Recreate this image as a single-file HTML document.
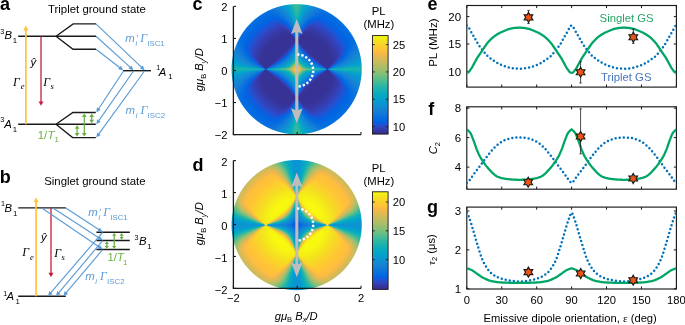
<!DOCTYPE html>
<html><head><meta charset="utf-8"><style>
html,body{margin:0;padding:0;background:#fff;}
#w{position:relative;width:685px;height:325px;overflow:hidden;background:#fff;font-family:"Liberation Sans",sans-serif;}
canvas{position:absolute;}
svg{position:absolute;left:0;top:0;}
</style></head><body><div id="w">
<div style="position:absolute;left:232.75px;top:5.35px;width:127.80px;height:127.80px;border-radius:50%;background:radial-gradient(circle, #f0b429 0%, #1f63d6 25%, #2c3a9e 60%, #1b6fd8 100%)"></div>
<canvas id="cmc" width="132" height="132" style="left:231px;top:3px"></canvas>
<div style="position:absolute;left:232.75px;top:161.20px;width:127.80px;height:127.80px;border-radius:50%;background:radial-gradient(circle, #1d6fd0 0%, #f6e21c 30%, #f6c43a 70%, #b8b850 100%)"></div>
<canvas id="cmd" width="132" height="132" style="left:231px;top:159px"></canvas>
<svg width="685" height="325" viewBox="0 0 685 325" font-family="Liberation Sans">
<text x="0.00" y="10.10" font-size="18" font-weight="bold" fill="#000">a</text>
<text x="48.00" y="12.90" font-size="11.4" fill="#000">Triplet ground state</text>
<path d="M18.20,36.20 L56.00,36.20" fill="none" stroke="#1a1a1a" stroke-width="1.4"/>
<path d="M56.00,36.20 L73.20,23.90 L96.00,23.90" fill="none" stroke="#1a1a1a" stroke-width="1.4"/>
<path d="M56.00,36.20 L96.00,36.20" fill="none" stroke="#1a1a1a" stroke-width="1.4"/>
<path d="M56.00,36.20 L73.00,49.20 L96.00,49.20" fill="none" stroke="#1a1a1a" stroke-width="1.4"/>
<path d="M18.20,124.30 L56.00,124.30" fill="none" stroke="#1a1a1a" stroke-width="1.4"/>
<path d="M56.00,124.30 L72.90,112.50 L95.80,112.50" fill="none" stroke="#1a1a1a" stroke-width="1.4"/>
<path d="M56.00,124.30 L95.80,124.30" fill="none" stroke="#1a1a1a" stroke-width="1.4"/>
<path d="M56.00,124.30 L72.60,137.60 L95.80,137.60" fill="none" stroke="#1a1a1a" stroke-width="1.4"/>
<path d="M123.00,70.70 L151.00,70.70" fill="none" stroke="#1a1a1a" stroke-width="1.4"/>
<path d="M25.90,124.30 L25.90,29.90" fill="none" stroke="#fbc43a" stroke-width="1.7"/>
<path d="M25.90,25.60 L28.50,30.40 L23.30,30.40 Z" fill="#fbc43a"/>
<path d="M41.00,36.20 L41.00,101.90" fill="none" stroke="#c41f3b" stroke-width="1.3"/>
<path d="M41.00,105.80 L38.50,101.40 L43.50,101.40 Z" fill="#c41f3b"/>
<path d="M96.00,23.90 L141.63,67.37" fill="none" stroke="#5b9bd5" stroke-width="1.15"/>
<path d="M144.60,70.20 L139.75,68.62 L142.79,65.43 Z" fill="#5b9bd5"/>
<path d="M96.00,36.20 L130.37,67.44" fill="none" stroke="#5b9bd5" stroke-width="1.15"/>
<path d="M133.40,70.20 L128.52,68.73 L131.48,65.48 Z" fill="#5b9bd5"/>
<path d="M96.00,49.20 L119.95,67.69" fill="none" stroke="#5b9bd5" stroke-width="1.15"/>
<path d="M123.20,70.20 L118.21,69.13 L120.90,65.65 Z" fill="#5b9bd5"/>
<path d="M123.50,71.00 L98.55,108.97" fill="none" stroke="#5b9bd5" stroke-width="1.15"/>
<path d="M96.30,112.40 L96.99,107.35 L100.66,109.76 Z" fill="#5b9bd5"/>
<path d="M133.50,71.00 L98.65,120.84" fill="none" stroke="#5b9bd5" stroke-width="1.15"/>
<path d="M96.30,124.20 L97.13,119.17 L100.74,121.69 Z" fill="#5b9bd5"/>
<path d="M144.50,71.00 L98.71,134.18" fill="none" stroke="#5b9bd5" stroke-width="1.15"/>
<path d="M96.30,137.50 L97.22,132.48 L100.78,135.07 Z" fill="#5b9bd5"/>
<path d="M77.10,128.30 L77.10,133.60" fill="none" stroke="#6aaf3f" stroke-width="1.25"/>
<path d="M77.10,136.60 L74.70,133.10 L79.50,133.10 Z" fill="#6aaf3f"/>
<path d="M77.10,125.30 L79.50,128.80 L74.70,128.80 Z" fill="#6aaf3f"/>
<path d="M84.30,116.50 L84.30,133.60" fill="none" stroke="#6aaf3f" stroke-width="1.25"/>
<path d="M84.30,136.60 L81.90,133.10 L86.70,133.10 Z" fill="#6aaf3f"/>
<path d="M84.30,113.50 L86.70,117.00 L81.90,117.00 Z" fill="#6aaf3f"/>
<path d="M91.70,116.50 L91.70,120.30" fill="none" stroke="#6aaf3f" stroke-width="1.25"/>
<path d="M91.70,123.30 L89.30,119.80 L94.10,119.80 Z" fill="#6aaf3f"/>
<path d="M91.70,113.50 L94.10,117.00 L89.30,117.00 Z" fill="#6aaf3f"/>
<text x="0.20" y="33.60" font-size="7.2" fill="#000">3</text>
<text x="4.40" y="38.90" font-size="11.3" font-style="italic" fill="#000">B</text>
<text x="12.80" y="42.80" font-size="7.8" fill="#000">1</text>
<text x="156.20" y="70.00" font-size="7.2" fill="#000">1</text>
<text x="158.80" y="75.60" font-size="11.3" font-style="italic" fill="#000">A</text>
<text x="168.20" y="79.20" font-size="7.8" fill="#000">1</text>
<text x="0.20" y="122.00" font-size="7.2" fill="#000">3</text>
<text x="4.20" y="128.40" font-size="11.3" font-style="italic" fill="#000">A</text>
<text x="12.80" y="131.80" font-size="7.8" fill="#000">1</text>
<text x="30.60" y="65.50" font-size="11.3" font-style="italic" fill="#000">ŷ</text>
<text x="13.00" y="85.70" font-size="12" font-style="italic" fill="#000" font-family="Liberation Serif">Γ</text>
<text x="20.80" y="89.20" font-size="8.6" font-style="italic" fill="#000" font-family="Liberation Serif">e</text>
<text x="43.20" y="85.70" font-size="12" font-style="italic" fill="#000" font-family="Liberation Serif">Γ</text>
<text x="50.60" y="89.20" font-size="8.6" font-style="italic" fill="#000" font-family="Liberation Serif">s</text>
<text x="37.80" y="138.80" font-size="11.3" fill="#6aaf3f">1/</text>
<text x="47.40" y="138.80" font-size="11.3" font-style="italic" fill="#6aaf3f">T</text>
<text x="54.60" y="142.40" font-size="7.8" fill="#6aaf3f">1</text>
<text x="125.30" y="42.20" font-size="11.4" font-style="italic" fill="#5b9bd5">m</text>
<text x="135.90" y="41.00" font-size="9.5" font-style="italic" fill="#5b9bd5">′</text>
<text x="135.40" y="45.80" font-size="7.5" font-style="italic" fill="#5b9bd5">i</text>
<text x="140.20" y="42.20" font-size="12" font-style="italic" fill="#5b9bd5" font-family="Liberation Serif">Γ</text>
<text x="147.20" y="45.90" font-size="7.9" fill="#5b9bd5">ISC1</text>
<text x="125.60" y="114.00" font-size="11.4" font-style="italic" fill="#5b9bd5">m</text>
<text x="135.70" y="117.60" font-size="7.5" font-style="italic" fill="#5b9bd5">i</text>
<text x="140.50" y="114.00" font-size="12" font-style="italic" fill="#5b9bd5" font-family="Liberation Serif">Γ</text>
<text x="147.50" y="117.70" font-size="7.9" fill="#5b9bd5">ISC2</text>
<text x="-0.30" y="182.60" font-size="18" font-weight="bold" fill="#000">b</text>
<text x="44.20" y="185.00" font-size="11.4" fill="#000">Singlet ground state</text>
<path d="M18.20,207.90 L65.80,207.90" fill="none" stroke="#1a1a1a" stroke-width="1.4"/>
<path d="M18.20,296.20 L65.80,296.20" fill="none" stroke="#1a1a1a" stroke-width="1.4"/>
<path d="M96.40,232.20 L129.80,232.20" fill="none" stroke="#1a1a1a" stroke-width="1.4"/>
<path d="M96.40,240.50 L129.80,240.50" fill="none" stroke="#1a1a1a" stroke-width="1.4"/>
<path d="M96.40,249.50 L129.80,249.50" fill="none" stroke="#1a1a1a" stroke-width="1.4"/>
<path d="M36.10,296.20 L36.10,201.70" fill="none" stroke="#fbc43a" stroke-width="1.7"/>
<path d="M36.10,197.40 L38.70,202.20 L33.50,202.20 Z" fill="#fbc43a"/>
<path d="M51.00,207.90 L51.00,273.30" fill="none" stroke="#c41f3b" stroke-width="1.3"/>
<path d="M51.00,277.20 L48.50,272.80 L53.50,272.80 Z" fill="#c41f3b"/>
<path d="M65.80,207.90 L99.17,229.75" fill="none" stroke="#5b9bd5" stroke-width="1.15"/>
<path d="M102.60,232.00 L97.55,231.32 L99.96,227.64 Z" fill="#5b9bd5"/>
<path d="M52.90,207.90 L99.17,238.06" fill="none" stroke="#5b9bd5" stroke-width="1.15"/>
<path d="M102.60,240.30 L97.55,239.63 L99.95,235.94 Z" fill="#5b9bd5"/>
<path d="M41.80,207.90 L99.21,246.99" fill="none" stroke="#5b9bd5" stroke-width="1.15"/>
<path d="M102.60,249.30 L97.56,248.53 L100.04,244.89 Z" fill="#5b9bd5"/>
<path d="M102.60,232.40 L50.67,292.89" fill="none" stroke="#5b9bd5" stroke-width="1.15"/>
<path d="M48.00,296.00 L49.33,291.08 L52.67,293.94 Z" fill="#5b9bd5"/>
<path d="M102.60,240.70 L58.64,292.86" fill="none" stroke="#5b9bd5" stroke-width="1.15"/>
<path d="M56.00,296.00 L57.28,291.06 L60.65,293.90 Z" fill="#5b9bd5"/>
<path d="M102.60,249.70 L66.05,292.87" fill="none" stroke="#5b9bd5" stroke-width="1.15"/>
<path d="M63.40,296.00 L64.69,291.07 L68.05,293.91 Z" fill="#5b9bd5"/>
<path d="M106.80,243.60 L106.80,246.40" fill="none" stroke="#6aaf3f" stroke-width="1.25"/>
<path d="M106.80,248.80 L104.70,245.90 L108.90,245.90 Z" fill="#6aaf3f"/>
<path d="M106.80,241.20 L108.90,244.10 L104.70,244.10 Z" fill="#6aaf3f"/>
<path d="M114.20,235.30 L114.20,246.40" fill="none" stroke="#6aaf3f" stroke-width="1.25"/>
<path d="M114.20,248.80 L112.10,245.90 L116.30,245.90 Z" fill="#6aaf3f"/>
<path d="M114.20,232.90 L116.30,235.80 L112.10,235.80 Z" fill="#6aaf3f"/>
<path d="M121.60,235.30 L121.60,237.40" fill="none" stroke="#6aaf3f" stroke-width="1.25"/>
<path d="M121.60,239.80 L119.50,236.90 L123.70,236.90 Z" fill="#6aaf3f"/>
<path d="M121.60,232.90 L123.70,235.80 L119.50,235.80 Z" fill="#6aaf3f"/>
<text x="1.00" y="205.60" font-size="7.2" fill="#000">1</text>
<text x="4.40" y="212.00" font-size="11.3" font-style="italic" fill="#000">B</text>
<text x="12.90" y="215.80" font-size="7.8" fill="#000">1</text>
<text x="134.50" y="239.60" font-size="7.2" fill="#000">3</text>
<text x="139.00" y="245.20" font-size="11.3" font-style="italic" fill="#000">B</text>
<text x="147.30" y="249.00" font-size="7.8" fill="#000">1</text>
<text x="3.20" y="296.20" font-size="7.2" fill="#000">1</text>
<text x="6.60" y="300.20" font-size="11.3" font-style="italic" fill="#000">A</text>
<text x="15.40" y="304.20" font-size="7.8" fill="#000">1</text>
<text x="40.90" y="241.30" font-size="11.3" font-style="italic" fill="#000">ŷ</text>
<text x="22.30" y="256.40" font-size="12" font-style="italic" fill="#000" font-family="Liberation Serif">Γ</text>
<text x="30.10" y="260.00" font-size="8.6" font-style="italic" fill="#000" font-family="Liberation Serif">e</text>
<text x="54.30" y="256.60" font-size="12" font-style="italic" fill="#000" font-family="Liberation Serif">Γ</text>
<text x="61.60" y="260.00" font-size="8.6" font-style="italic" fill="#000" font-family="Liberation Serif">s</text>
<text x="88.30" y="216.00" font-size="11.4" font-style="italic" fill="#5b9bd5">m</text>
<text x="98.90" y="214.80" font-size="9.5" font-style="italic" fill="#5b9bd5">′</text>
<text x="98.40" y="219.60" font-size="7.5" font-style="italic" fill="#5b9bd5">i</text>
<text x="103.20" y="216.00" font-size="12" font-style="italic" fill="#5b9bd5" font-family="Liberation Serif">Γ</text>
<text x="110.20" y="219.70" font-size="7.9" fill="#5b9bd5">ISC1</text>
<text x="107.40" y="261.00" font-size="11.3" fill="#6aaf3f">1/</text>
<text x="117.00" y="261.00" font-size="11.3" font-style="italic" fill="#6aaf3f">T</text>
<text x="123.00" y="264.80" font-size="7.8" fill="#6aaf3f">1</text>
<text x="85.20" y="280.20" font-size="11.4" font-style="italic" fill="#5b9bd5">m</text>
<text x="95.30" y="283.80" font-size="7.5" font-style="italic" fill="#5b9bd5">i</text>
<text x="100.10" y="280.20" font-size="12" font-style="italic" fill="#5b9bd5" font-family="Liberation Serif">Γ</text>
<text x="107.10" y="283.90" font-size="7.9" fill="#5b9bd5">ISC2</text>
<text x="192.60" y="10.30" font-size="18" font-weight="bold" fill="#000">c</text>
<text x="192.40" y="171.40" font-size="18" font-weight="bold" fill="#000">d</text>
<path d="M233.40,6.40 L233.40,134.60 L361.00,134.60" fill="none" stroke="#1a1a1a" stroke-width="1.3"/>
<path d="M233.40,6.40 L236.00,6.40" fill="none" stroke="#1a1a1a" stroke-width="1.1"/>
<text x="227.40" y="11.00" font-size="11.2" text-anchor="end" fill="#000">2</text>
<path d="M233.40,38.45 L236.00,38.45" fill="none" stroke="#1a1a1a" stroke-width="1.1"/>
<text x="227.40" y="43.05" font-size="11.2" text-anchor="end" fill="#000">1</text>
<path d="M233.40,70.50 L236.00,70.50" fill="none" stroke="#1a1a1a" stroke-width="1.1"/>
<text x="227.40" y="75.10" font-size="11.2" text-anchor="end" fill="#000">0</text>
<path d="M233.40,102.55 L236.00,102.55" fill="none" stroke="#1a1a1a" stroke-width="1.1"/>
<text x="227.40" y="107.15" font-size="11.2" text-anchor="end" fill="#000">−1</text>
<path d="M233.40,134.60 L236.00,134.60" fill="none" stroke="#1a1a1a" stroke-width="1.1"/>
<text x="227.40" y="139.20" font-size="11.2" text-anchor="end" fill="#000">−2</text>
<path d="M233.40,134.60 L233.40,132.00" fill="none" stroke="#1a1a1a" stroke-width="1.1"/>
<path d="M297.20,134.60 L297.20,132.00" fill="none" stroke="#1a1a1a" stroke-width="1.1"/>
<path d="M361.00,134.60 L361.00,132.00" fill="none" stroke="#1a1a1a" stroke-width="1.1"/>
<g transform="translate(203.0,69.70) rotate(-90)"><text x="0" y="0" font-size="11.2" text-anchor="middle"><tspan font-style="italic">gμ</tspan><tspan font-size="7.6" dy="2.8">B</tspan><tspan dy="-2.8"> </tspan><tspan font-style="italic">B</tspan><tspan font-size="7.6" dy="2.8" font-style="italic">y</tspan><tspan dy="-2.8" font-style="italic">/D</tspan></text></g>
<path d="M233.40,160.60 L233.40,288.40 L361.00,288.40" fill="none" stroke="#1a1a1a" stroke-width="1.3"/>
<path d="M233.40,160.60 L236.00,160.60" fill="none" stroke="#1a1a1a" stroke-width="1.1"/>
<text x="227.40" y="165.90" font-size="11.2" text-anchor="end" fill="#000">2</text>
<path d="M233.40,192.55 L236.00,192.55" fill="none" stroke="#1a1a1a" stroke-width="1.1"/>
<text x="227.40" y="197.85" font-size="11.2" text-anchor="end" fill="#000">1</text>
<path d="M233.40,224.50 L236.00,224.50" fill="none" stroke="#1a1a1a" stroke-width="1.1"/>
<text x="227.40" y="229.80" font-size="11.2" text-anchor="end" fill="#000">0</text>
<path d="M233.40,256.45 L236.00,256.45" fill="none" stroke="#1a1a1a" stroke-width="1.1"/>
<text x="227.40" y="261.75" font-size="11.2" text-anchor="end" fill="#000">−1</text>
<path d="M233.40,288.40 L236.00,288.40" fill="none" stroke="#1a1a1a" stroke-width="1.1"/>
<text x="227.40" y="293.70" font-size="11.2" text-anchor="end" fill="#000">−2</text>
<path d="M233.40,288.40 L233.40,285.80" fill="none" stroke="#1a1a1a" stroke-width="1.1"/>
<text x="233.40" y="301.70" font-size="11.2" text-anchor="middle" fill="#000">−2</text>
<path d="M297.20,288.40 L297.20,285.80" fill="none" stroke="#1a1a1a" stroke-width="1.1"/>
<text x="297.20" y="301.70" font-size="11.2" text-anchor="middle" fill="#000">0</text>
<path d="M361.00,288.40 L361.00,285.80" fill="none" stroke="#1a1a1a" stroke-width="1.1"/>
<text x="361.00" y="301.70" font-size="11.2" text-anchor="middle" fill="#000">2</text>
<g transform="translate(203.0,223.70) rotate(-90)"><text x="0" y="0" font-size="11.2" text-anchor="middle"><tspan font-style="italic">gμ</tspan><tspan font-size="7.6" dy="2.8">B</tspan><tspan dy="-2.8"> </tspan><tspan font-style="italic">B</tspan><tspan font-size="7.6" dy="2.8" font-style="italic">y</tspan><tspan dy="-2.8" font-style="italic">/D</tspan></text></g>
<text x="296.2" y="319.6" font-size="11.2" text-anchor="middle"><tspan font-style="italic">gμ</tspan><tspan font-size="7.6" dy="2.8">B</tspan><tspan dy="-2.8"> </tspan><tspan font-style="italic">B</tspan><tspan font-size="7.6" dy="2.8" font-style="italic">x</tspan><tspan dy="-2.8" font-style="italic">/D</tspan></text>
<path d="M296.80,31.00 L296.80,111.30" stroke="#bdbdbd" stroke-width="3"/>
<path d="M296.80,19.00 L302.60,34.00 L296.80,31.50 L291.00,34.00 Z" fill="#bdbdbd"/>
<path d="M296.80,123.30 L302.60,108.30 L296.80,110.80 L291.00,108.30 Z" fill="#bdbdbd"/>
<path d="M297.20,54.50 A16,16 0 0 1 297.20,86.50" fill="none" stroke="#fff" stroke-width="2.4" stroke-dasharray="2.3 1.9"/>
<path d="M296.80,184.40 L296.80,265.20" stroke="#bdbdbd" stroke-width="3"/>
<path d="M296.80,172.40 L302.60,187.40 L296.80,184.90 L291.00,187.40 Z" fill="#bdbdbd"/>
<path d="M296.80,277.20 L302.60,262.20 L296.80,264.70 L291.00,262.20 Z" fill="#bdbdbd"/>
<path d="M297.20,208.50 A16,16 0 0 1 297.20,240.50" fill="none" stroke="#fff" stroke-width="2.4" stroke-dasharray="2.3 1.9"/>
<defs><linearGradient id="cb35" x1="0" y1="1" x2="0" y2="0"><stop offset="0.0000" stop-color="rgb(53,42,134)"/><stop offset="0.0159" stop-color="rgb(53,48,147)"/><stop offset="0.0317" stop-color="rgb(54,54,159)"/><stop offset="0.0476" stop-color="rgb(53,60,172)"/><stop offset="0.0635" stop-color="rgb(49,67,185)"/><stop offset="0.0794" stop-color="rgb(43,74,198)"/><stop offset="0.0952" stop-color="rgb(31,82,211)"/><stop offset="0.1111" stop-color="rgb(15,91,221)"/><stop offset="0.1270" stop-color="rgb(2,98,224)"/><stop offset="0.1429" stop-color="rgb(1,104,225)"/><stop offset="0.1587" stop-color="rgb(4,108,224)"/><stop offset="0.1746" stop-color="rgb(8,112,222)"/><stop offset="0.1905" stop-color="rgb(12,116,220)"/><stop offset="0.2063" stop-color="rgb(16,120,218)"/><stop offset="0.2222" stop-color="rgb(18,124,215)"/><stop offset="0.2381" stop-color="rgb(19,128,213)"/><stop offset="0.2540" stop-color="rgb(20,132,211)"/><stop offset="0.2698" stop-color="rgb(19,137,210)"/><stop offset="0.2857" stop-color="rgb(16,142,210)"/><stop offset="0.3016" stop-color="rgb(12,147,209)"/><stop offset="0.3175" stop-color="rgb(8,152,209)"/><stop offset="0.3333" stop-color="rgb(6,156,207)"/><stop offset="0.3492" stop-color="rgb(6,160,204)"/><stop offset="0.3651" stop-color="rgb(5,163,201)"/><stop offset="0.3810" stop-color="rgb(5,166,198)"/><stop offset="0.3968" stop-color="rgb(6,169,193)"/><stop offset="0.4127" stop-color="rgb(9,171,189)"/><stop offset="0.4286" stop-color="rgb(15,174,184)"/><stop offset="0.4444" stop-color="rgb(21,176,180)"/><stop offset="0.4603" stop-color="rgb(28,178,174)"/><stop offset="0.4762" stop-color="rgb(37,180,169)"/><stop offset="0.4921" stop-color="rgb(45,183,163)"/><stop offset="0.5079" stop-color="rgb(55,184,157)"/><stop offset="0.5238" stop-color="rgb(65,186,151)"/><stop offset="0.5397" stop-color="rgb(77,188,145)"/><stop offset="0.5556" stop-color="rgb(88,189,139)"/><stop offset="0.5714" stop-color="rgb(100,190,133)"/><stop offset="0.5873" stop-color="rgb(112,190,128)"/><stop offset="0.6032" stop-color="rgb(124,191,123)"/><stop offset="0.6190" stop-color="rgb(135,191,118)"/><stop offset="0.6349" stop-color="rgb(145,190,114)"/><stop offset="0.6508" stop-color="rgb(155,190,110)"/><stop offset="0.6667" stop-color="rgb(165,190,106)"/><stop offset="0.6825" stop-color="rgb(174,189,103)"/><stop offset="0.6984" stop-color="rgb(183,188,99)"/><stop offset="0.7143" stop-color="rgb(191,188,96)"/><stop offset="0.7302" stop-color="rgb(200,187,92)"/><stop offset="0.7460" stop-color="rgb(208,186,89)"/><stop offset="0.7619" stop-color="rgb(216,186,85)"/><stop offset="0.7778" stop-color="rgb(225,185,82)"/><stop offset="0.7937" stop-color="rgb(233,185,78)"/><stop offset="0.8095" stop-color="rgb(240,185,73)"/><stop offset="0.8254" stop-color="rgb(248,186,67)"/><stop offset="0.8413" stop-color="rgb(253,190,61)"/><stop offset="0.8571" stop-color="rgb(254,195,55)"/><stop offset="0.8730" stop-color="rgb(253,200,50)"/><stop offset="0.8889" stop-color="rgb(251,205,45)"/><stop offset="0.9048" stop-color="rgb(249,210,41)"/><stop offset="0.9206" stop-color="rgb(247,216,37)"/><stop offset="0.9365" stop-color="rgb(245,221,33)"/><stop offset="0.9524" stop-color="rgb(244,228,28)"/><stop offset="0.9683" stop-color="rgb(244,235,24)"/><stop offset="0.9841" stop-color="rgb(246,242,19)"/><stop offset="1.0000" stop-color="rgb(248,250,13)"/></linearGradient></defs>
<rect x="372.5" y="35.6" width="15.600000000000023" height="98.5" fill="url(#cb35)" stroke="#1a1a1a" stroke-width="0.9"/>
<path d="M372.50,126.61 L374.70,126.61" fill="none" stroke="#1a1a1a" stroke-width="0.9"/>
<path d="M388.10,126.61 L385.90,126.61" fill="none" stroke="#1a1a1a" stroke-width="0.9"/>
<text x="392.70" y="130.61" font-size="11.2" fill="#000">10</text>
<path d="M372.50,99.28 L374.70,99.28" fill="none" stroke="#1a1a1a" stroke-width="0.9"/>
<path d="M388.10,99.28 L385.90,99.28" fill="none" stroke="#1a1a1a" stroke-width="0.9"/>
<text x="392.70" y="103.28" font-size="11.2" fill="#000">15</text>
<path d="M372.50,71.95 L374.70,71.95" fill="none" stroke="#1a1a1a" stroke-width="0.9"/>
<path d="M388.10,71.95 L385.90,71.95" fill="none" stroke="#1a1a1a" stroke-width="0.9"/>
<text x="392.70" y="75.95" font-size="11.2" fill="#000">20</text>
<path d="M372.50,44.62 L374.70,44.62" fill="none" stroke="#1a1a1a" stroke-width="0.9"/>
<path d="M388.10,44.62 L385.90,44.62" fill="none" stroke="#1a1a1a" stroke-width="0.9"/>
<text x="392.70" y="48.62" font-size="11.2" fill="#000">25</text>
<text x="378.60" y="15.00" font-size="11.3" text-anchor="middle" fill="#000">PL</text>
<text x="378.90" y="28.20" font-size="11.3" text-anchor="middle" fill="#000">(MHz)</text>
<defs><linearGradient id="cb191" x1="0" y1="1" x2="0" y2="0"><stop offset="0.0000" stop-color="rgb(53,42,134)"/><stop offset="0.0159" stop-color="rgb(53,48,147)"/><stop offset="0.0317" stop-color="rgb(54,54,159)"/><stop offset="0.0476" stop-color="rgb(53,60,172)"/><stop offset="0.0635" stop-color="rgb(49,67,185)"/><stop offset="0.0794" stop-color="rgb(43,74,198)"/><stop offset="0.0952" stop-color="rgb(31,82,211)"/><stop offset="0.1111" stop-color="rgb(15,91,221)"/><stop offset="0.1270" stop-color="rgb(2,98,224)"/><stop offset="0.1429" stop-color="rgb(1,104,225)"/><stop offset="0.1587" stop-color="rgb(4,108,224)"/><stop offset="0.1746" stop-color="rgb(8,112,222)"/><stop offset="0.1905" stop-color="rgb(12,116,220)"/><stop offset="0.2063" stop-color="rgb(16,120,218)"/><stop offset="0.2222" stop-color="rgb(18,124,215)"/><stop offset="0.2381" stop-color="rgb(19,128,213)"/><stop offset="0.2540" stop-color="rgb(20,132,211)"/><stop offset="0.2698" stop-color="rgb(19,137,210)"/><stop offset="0.2857" stop-color="rgb(16,142,210)"/><stop offset="0.3016" stop-color="rgb(12,147,209)"/><stop offset="0.3175" stop-color="rgb(8,152,209)"/><stop offset="0.3333" stop-color="rgb(6,156,207)"/><stop offset="0.3492" stop-color="rgb(6,160,204)"/><stop offset="0.3651" stop-color="rgb(5,163,201)"/><stop offset="0.3810" stop-color="rgb(5,166,198)"/><stop offset="0.3968" stop-color="rgb(6,169,193)"/><stop offset="0.4127" stop-color="rgb(9,171,189)"/><stop offset="0.4286" stop-color="rgb(15,174,184)"/><stop offset="0.4444" stop-color="rgb(21,176,180)"/><stop offset="0.4603" stop-color="rgb(28,178,174)"/><stop offset="0.4762" stop-color="rgb(37,180,169)"/><stop offset="0.4921" stop-color="rgb(45,183,163)"/><stop offset="0.5079" stop-color="rgb(55,184,157)"/><stop offset="0.5238" stop-color="rgb(65,186,151)"/><stop offset="0.5397" stop-color="rgb(77,188,145)"/><stop offset="0.5556" stop-color="rgb(88,189,139)"/><stop offset="0.5714" stop-color="rgb(100,190,133)"/><stop offset="0.5873" stop-color="rgb(112,190,128)"/><stop offset="0.6032" stop-color="rgb(124,191,123)"/><stop offset="0.6190" stop-color="rgb(135,191,118)"/><stop offset="0.6349" stop-color="rgb(145,190,114)"/><stop offset="0.6508" stop-color="rgb(155,190,110)"/><stop offset="0.6667" stop-color="rgb(165,190,106)"/><stop offset="0.6825" stop-color="rgb(174,189,103)"/><stop offset="0.6984" stop-color="rgb(183,188,99)"/><stop offset="0.7143" stop-color="rgb(191,188,96)"/><stop offset="0.7302" stop-color="rgb(200,187,92)"/><stop offset="0.7460" stop-color="rgb(208,186,89)"/><stop offset="0.7619" stop-color="rgb(216,186,85)"/><stop offset="0.7778" stop-color="rgb(225,185,82)"/><stop offset="0.7937" stop-color="rgb(233,185,78)"/><stop offset="0.8095" stop-color="rgb(240,185,73)"/><stop offset="0.8254" stop-color="rgb(248,186,67)"/><stop offset="0.8413" stop-color="rgb(253,190,61)"/><stop offset="0.8571" stop-color="rgb(254,195,55)"/><stop offset="0.8730" stop-color="rgb(253,200,50)"/><stop offset="0.8889" stop-color="rgb(251,205,45)"/><stop offset="0.9048" stop-color="rgb(249,210,41)"/><stop offset="0.9206" stop-color="rgb(247,216,37)"/><stop offset="0.9365" stop-color="rgb(245,221,33)"/><stop offset="0.9524" stop-color="rgb(244,228,28)"/><stop offset="0.9683" stop-color="rgb(244,235,24)"/><stop offset="0.9841" stop-color="rgb(246,242,19)"/><stop offset="1.0000" stop-color="rgb(248,250,13)"/></linearGradient></defs>
<rect x="372.5" y="191.8" width="15.600000000000023" height="97.59999999999997" fill="url(#cb191)" stroke="#1a1a1a" stroke-width="0.9"/>
<path d="M372.50,259.61 L374.70,259.61" fill="none" stroke="#1a1a1a" stroke-width="0.9"/>
<path d="M388.10,259.61 L385.90,259.61" fill="none" stroke="#1a1a1a" stroke-width="0.9"/>
<text x="392.70" y="263.61" font-size="11.2" fill="#000">10</text>
<path d="M372.50,230.81 L374.70,230.81" fill="none" stroke="#1a1a1a" stroke-width="0.9"/>
<path d="M388.10,230.81 L385.90,230.81" fill="none" stroke="#1a1a1a" stroke-width="0.9"/>
<text x="392.70" y="234.81" font-size="11.2" fill="#000">15</text>
<path d="M372.50,202.00 L374.70,202.00" fill="none" stroke="#1a1a1a" stroke-width="0.9"/>
<path d="M388.10,202.00 L385.90,202.00" fill="none" stroke="#1a1a1a" stroke-width="0.9"/>
<text x="392.70" y="206.00" font-size="11.2" fill="#000">20</text>
<text x="378.60" y="171.50" font-size="11.3" text-anchor="middle" fill="#000">PL</text>
<text x="378.90" y="184.70" font-size="11.3" text-anchor="middle" fill="#000">(MHz)</text>
<text x="427.60" y="10.20" font-size="18" font-weight="bold" fill="#000">e</text>
<text x="428.30" y="115.20" font-size="18" font-weight="bold" fill="#000">f</text>
<text x="426.90" y="213.40" font-size="18" font-weight="bold" fill="#000">g</text>
<rect x="466.8" y="5.5" width="209.60" height="81.60" fill="none" stroke="#1a1a1a" stroke-width="1.15"/>
<path d="M466.80,87.10 L466.80,84.50" fill="none" stroke="#1a1a1a" stroke-width="1.0"/>
<path d="M466.80,5.50 L466.80,8.10" fill="none" stroke="#1a1a1a" stroke-width="1.0"/>
<path d="M501.73,87.10 L501.73,84.50" fill="none" stroke="#1a1a1a" stroke-width="1.0"/>
<path d="M501.73,5.50 L501.73,8.10" fill="none" stroke="#1a1a1a" stroke-width="1.0"/>
<path d="M536.66,87.10 L536.66,84.50" fill="none" stroke="#1a1a1a" stroke-width="1.0"/>
<path d="M536.66,5.50 L536.66,8.10" fill="none" stroke="#1a1a1a" stroke-width="1.0"/>
<path d="M571.60,87.10 L571.60,84.50" fill="none" stroke="#1a1a1a" stroke-width="1.0"/>
<path d="M571.60,5.50 L571.60,8.10" fill="none" stroke="#1a1a1a" stroke-width="1.0"/>
<path d="M606.53,87.10 L606.53,84.50" fill="none" stroke="#1a1a1a" stroke-width="1.0"/>
<path d="M606.53,5.50 L606.53,8.10" fill="none" stroke="#1a1a1a" stroke-width="1.0"/>
<path d="M641.46,87.10 L641.46,84.50" fill="none" stroke="#1a1a1a" stroke-width="1.0"/>
<path d="M641.46,5.50 L641.46,8.10" fill="none" stroke="#1a1a1a" stroke-width="1.0"/>
<path d="M676.39,87.10 L676.39,84.50" fill="none" stroke="#1a1a1a" stroke-width="1.0"/>
<path d="M676.39,5.50 L676.39,8.10" fill="none" stroke="#1a1a1a" stroke-width="1.0"/>
<path d="M466.80,16.60 L469.40,16.60" fill="none" stroke="#1a1a1a" stroke-width="1.0"/>
<path d="M676.40,16.60 L673.80,16.60" fill="none" stroke="#1a1a1a" stroke-width="1.0"/>
<text x="461.10" y="20.70" font-size="11.5" text-anchor="end" fill="#000">20</text>
<path d="M466.80,44.00 L469.40,44.00" fill="none" stroke="#1a1a1a" stroke-width="1.0"/>
<path d="M676.40,44.00 L673.80,44.00" fill="none" stroke="#1a1a1a" stroke-width="1.0"/>
<text x="461.10" y="48.10" font-size="11.5" text-anchor="end" fill="#000">15</text>
<path d="M466.80,71.40 L469.40,71.40" fill="none" stroke="#1a1a1a" stroke-width="1.0"/>
<path d="M676.40,71.40 L673.80,71.40" fill="none" stroke="#1a1a1a" stroke-width="1.0"/>
<text x="461.10" y="75.50" font-size="11.5" text-anchor="end" fill="#000">10</text>
<rect x="466.8" y="106.8" width="209.60" height="82.40" fill="none" stroke="#1a1a1a" stroke-width="1.15"/>
<path d="M466.80,189.20 L466.80,186.60" fill="none" stroke="#1a1a1a" stroke-width="1.0"/>
<path d="M466.80,106.80 L466.80,109.40" fill="none" stroke="#1a1a1a" stroke-width="1.0"/>
<path d="M501.73,189.20 L501.73,186.60" fill="none" stroke="#1a1a1a" stroke-width="1.0"/>
<path d="M501.73,106.80 L501.73,109.40" fill="none" stroke="#1a1a1a" stroke-width="1.0"/>
<path d="M536.66,189.20 L536.66,186.60" fill="none" stroke="#1a1a1a" stroke-width="1.0"/>
<path d="M536.66,106.80 L536.66,109.40" fill="none" stroke="#1a1a1a" stroke-width="1.0"/>
<path d="M571.60,189.20 L571.60,186.60" fill="none" stroke="#1a1a1a" stroke-width="1.0"/>
<path d="M571.60,106.80 L571.60,109.40" fill="none" stroke="#1a1a1a" stroke-width="1.0"/>
<path d="M606.53,189.20 L606.53,186.60" fill="none" stroke="#1a1a1a" stroke-width="1.0"/>
<path d="M606.53,106.80 L606.53,109.40" fill="none" stroke="#1a1a1a" stroke-width="1.0"/>
<path d="M641.46,189.20 L641.46,186.60" fill="none" stroke="#1a1a1a" stroke-width="1.0"/>
<path d="M641.46,106.80 L641.46,109.40" fill="none" stroke="#1a1a1a" stroke-width="1.0"/>
<path d="M676.39,189.20 L676.39,186.60" fill="none" stroke="#1a1a1a" stroke-width="1.0"/>
<path d="M676.39,106.80 L676.39,109.40" fill="none" stroke="#1a1a1a" stroke-width="1.0"/>
<path d="M466.80,108.10 L469.40,108.10" fill="none" stroke="#1a1a1a" stroke-width="1.0"/>
<path d="M676.40,108.10 L673.80,108.10" fill="none" stroke="#1a1a1a" stroke-width="1.0"/>
<text x="461.10" y="112.20" font-size="11.5" text-anchor="end" fill="#000">8</text>
<path d="M466.80,137.60 L469.40,137.60" fill="none" stroke="#1a1a1a" stroke-width="1.0"/>
<path d="M676.40,137.60 L673.80,137.60" fill="none" stroke="#1a1a1a" stroke-width="1.0"/>
<text x="461.10" y="141.70" font-size="11.5" text-anchor="end" fill="#000">6</text>
<path d="M466.80,167.10 L469.40,167.10" fill="none" stroke="#1a1a1a" stroke-width="1.0"/>
<path d="M676.40,167.10 L673.80,167.10" fill="none" stroke="#1a1a1a" stroke-width="1.0"/>
<text x="461.10" y="171.20" font-size="11.5" text-anchor="end" fill="#000">4</text>
<rect x="466.8" y="207.1" width="209.60" height="81.90" fill="none" stroke="#1a1a1a" stroke-width="1.15"/>
<path d="M466.80,289.00 L466.80,286.40" fill="none" stroke="#1a1a1a" stroke-width="1.0"/>
<path d="M466.80,207.10 L466.80,209.70" fill="none" stroke="#1a1a1a" stroke-width="1.0"/>
<text x="466.80" y="303.60" font-size="11.2" text-anchor="middle" fill="#000">0</text>
<path d="M501.73,289.00 L501.73,286.40" fill="none" stroke="#1a1a1a" stroke-width="1.0"/>
<path d="M501.73,207.10 L501.73,209.70" fill="none" stroke="#1a1a1a" stroke-width="1.0"/>
<text x="501.73" y="303.60" font-size="11.2" text-anchor="middle" fill="#000">30</text>
<path d="M536.66,289.00 L536.66,286.40" fill="none" stroke="#1a1a1a" stroke-width="1.0"/>
<path d="M536.66,207.10 L536.66,209.70" fill="none" stroke="#1a1a1a" stroke-width="1.0"/>
<text x="536.66" y="303.60" font-size="11.2" text-anchor="middle" fill="#000">60</text>
<path d="M571.60,289.00 L571.60,286.40" fill="none" stroke="#1a1a1a" stroke-width="1.0"/>
<path d="M571.60,207.10 L571.60,209.70" fill="none" stroke="#1a1a1a" stroke-width="1.0"/>
<text x="571.60" y="303.60" font-size="11.2" text-anchor="middle" fill="#000">90</text>
<path d="M606.53,289.00 L606.53,286.40" fill="none" stroke="#1a1a1a" stroke-width="1.0"/>
<path d="M606.53,207.10 L606.53,209.70" fill="none" stroke="#1a1a1a" stroke-width="1.0"/>
<text x="606.53" y="303.60" font-size="11.2" text-anchor="middle" fill="#000">120</text>
<path d="M641.46,289.00 L641.46,286.40" fill="none" stroke="#1a1a1a" stroke-width="1.0"/>
<path d="M641.46,207.10 L641.46,209.70" fill="none" stroke="#1a1a1a" stroke-width="1.0"/>
<text x="641.46" y="303.60" font-size="11.2" text-anchor="middle" fill="#000">150</text>
<path d="M676.39,289.00 L676.39,286.40" fill="none" stroke="#1a1a1a" stroke-width="1.0"/>
<path d="M676.39,207.10 L676.39,209.70" fill="none" stroke="#1a1a1a" stroke-width="1.0"/>
<text x="676.39" y="303.60" font-size="11.2" text-anchor="middle" fill="#000">180</text>
<path d="M466.80,211.00 L469.40,211.00" fill="none" stroke="#1a1a1a" stroke-width="1.0"/>
<path d="M676.40,211.00 L673.80,211.00" fill="none" stroke="#1a1a1a" stroke-width="1.0"/>
<text x="461.10" y="215.10" font-size="11.5" text-anchor="end" fill="#000">3</text>
<path d="M466.80,249.90 L469.40,249.90" fill="none" stroke="#1a1a1a" stroke-width="1.0"/>
<path d="M676.40,249.90 L673.80,249.90" fill="none" stroke="#1a1a1a" stroke-width="1.0"/>
<text x="461.10" y="254.00" font-size="11.5" text-anchor="end" fill="#000">2</text>
<path d="M466.80,288.80 L469.40,288.80" fill="none" stroke="#1a1a1a" stroke-width="1.0"/>
<path d="M676.40,288.80 L673.80,288.80" fill="none" stroke="#1a1a1a" stroke-width="1.0"/>
<text x="461.10" y="292.90" font-size="11.5" text-anchor="end" fill="#000">1</text>
<text x="570.20" y="321.70" font-size="11.2" text-anchor="middle" fill="#000">Emissive dipole orientation, <tspan font-family="Liberation Serif">ε</tspan> (deg)</text>
<g transform="translate(436.9,42.6) rotate(-90)"><text x="0" y="0" font-size="11.6" text-anchor="middle">PL (MHz)</text></g>
<g transform="translate(436.8,148.2) rotate(-90)"><text x="0" y="0" font-size="11.2" text-anchor="middle"><tspan font-style="italic">C</tspan><tspan font-size="7.6" dy="2.8">2</tspan></text></g>
<g transform="translate(434.6,249.6) rotate(-90)"><text x="0" y="0" font-size="11.2" text-anchor="middle"><tspan font-family="Liberation Serif" font-style="italic">τ</tspan><tspan font-size="7.6" dy="2.8">2</tspan><tspan dy="-2.8"> (μs)</tspan></text></g>
<defs><clipPath id="ce"><rect x="466.8" y="5.5" width="209.60" height="81.60"/></clipPath></defs>
<defs><clipPath id="cf"><rect x="466.8" y="106.8" width="209.60" height="82.40"/></clipPath></defs>
<defs><clipPath id="cg"><rect x="466.8" y="207.1" width="209.60" height="81.90"/></clipPath></defs>
<g clip-path="url(#ce)">
<path d="M466.80,25.50 L467.09,25.56 L467.38,25.71 L467.67,25.91 L467.96,26.24 L468.26,26.72 L468.55,27.26 L468.84,27.79 L469.13,28.29 L469.42,28.80 L469.71,29.33 L470.00,29.86 L470.29,30.40 L470.58,30.93 L470.88,31.46 L471.17,31.97 L471.46,32.47 L471.75,32.98 L472.04,33.48 L472.33,33.97 L472.62,34.47 L472.91,34.97 L473.20,35.47 L473.50,35.97 L473.79,36.47 L474.08,36.98 L474.37,37.50 L474.66,38.03 L474.95,38.57 L475.24,39.11 L475.53,39.65 L475.82,40.20 L476.12,40.74 L476.41,41.27 L476.70,41.80 L476.99,42.31 L477.28,42.80 L477.57,43.28 L477.86,43.74 L478.15,44.20 L478.44,44.66 L478.74,45.10 L479.03,45.54 L479.32,45.97 L479.61,46.39 L479.90,46.80 L480.19,47.21 L480.48,47.61 L480.77,48.00 L481.06,48.38 L481.36,48.75 L481.65,49.11 L481.94,49.46 L482.23,49.81 L482.52,50.16 L482.81,50.50 L483.10,50.84 L483.39,51.18 L483.68,51.52 L483.97,51.87 L484.27,52.22 L484.56,52.58 L484.85,52.95 L485.14,53.32 L485.43,53.68 L485.72,54.04 L486.01,54.40 L486.30,54.74 L486.59,55.07 L486.89,55.38 L487.18,55.68 L487.47,55.96 L487.76,56.22 L488.05,56.48 L488.34,56.73 L488.63,56.97 L488.92,57.20 L489.21,57.43 L489.51,57.65 L489.80,57.87 L490.09,58.09 L490.38,58.31 L490.67,58.53 L490.96,58.74 L491.25,58.95 L491.54,59.16 L491.83,59.36 L492.13,59.56 L492.42,59.76 L492.71,59.96 L493.00,60.15 L493.29,60.35 L493.58,60.54 L493.87,60.73 L494.16,60.92 L494.45,61.11 L494.75,61.29 L495.04,61.48 L495.33,61.67 L495.62,61.86 L495.91,62.05 L496.20,62.24 L496.49,62.42 L496.78,62.60 L497.07,62.78 L497.37,62.96 L497.66,63.13 L497.95,63.30 L498.24,63.46 L498.53,63.61 L498.82,63.76 L499.11,63.91 L499.40,64.05 L499.69,64.19 L499.99,64.32 L500.28,64.46 L500.57,64.59 L500.86,64.71 L501.15,64.84 L501.44,64.96 L501.73,65.08 L502.02,65.20 L502.31,65.32 L502.61,65.43 L502.90,65.54 L503.19,65.65 L503.48,65.76 L503.77,65.86 L504.06,65.96 L504.35,66.07 L504.64,66.17 L504.93,66.27 L505.23,66.37 L505.52,66.47 L505.81,66.56 L506.10,66.66 L506.39,66.75 L506.68,66.84 L506.97,66.93 L507.26,67.02 L507.55,67.10 L507.85,67.18 L508.14,67.26 L508.43,67.34 L508.72,67.42 L509.01,67.49 L509.30,67.55 L509.59,67.62 L509.88,67.68 L510.17,67.75 L510.47,67.81 L510.76,67.87 L511.05,67.94 L511.34,68.00 L511.63,68.05 L511.92,68.11 L512.21,68.16 L512.50,68.21 L512.79,68.25 L513.08,68.30 L513.38,68.33 L513.67,68.37 L513.96,68.40 L514.25,68.42 L514.54,68.45 L514.83,68.47 L515.12,68.50 L515.41,68.52 L515.70,68.54 L516.00,68.57 L516.29,68.59 L516.58,68.61 L516.87,68.62 L517.16,68.64 L517.45,68.66 L517.74,68.67 L518.03,68.68 L518.32,68.69 L518.62,68.69 L518.91,68.70 L519.20,68.70 L519.49,68.70 L519.78,68.69 L520.07,68.69 L520.36,68.68 L520.65,68.67 L520.94,68.66 L521.24,68.64 L521.53,68.62 L521.82,68.61 L522.11,68.59 L522.40,68.57 L522.69,68.54 L522.98,68.52 L523.27,68.50 L523.56,68.47 L523.86,68.45 L524.15,68.42 L524.44,68.40 L524.73,68.37 L525.02,68.33 L525.31,68.30 L525.60,68.25 L525.89,68.21 L526.18,68.16 L526.48,68.11 L526.77,68.05 L527.06,68.00 L527.35,67.94 L527.64,67.87 L527.93,67.81 L528.22,67.75 L528.51,67.68 L528.80,67.62 L529.10,67.55 L529.39,67.49 L529.68,67.42 L529.97,67.34 L530.26,67.26 L530.55,67.18 L530.84,67.10 L531.13,67.02 L531.42,66.93 L531.72,66.84 L532.01,66.75 L532.30,66.66 L532.59,66.56 L532.88,66.47 L533.17,66.37 L533.46,66.27 L533.75,66.17 L534.04,66.07 L534.34,65.96 L534.63,65.86 L534.92,65.76 L535.21,65.65 L535.50,65.54 L535.79,65.43 L536.08,65.32 L536.37,65.20 L536.66,65.08 L536.96,64.96 L537.25,64.84 L537.54,64.71 L537.83,64.59 L538.12,64.46 L538.41,64.32 L538.70,64.19 L538.99,64.05 L539.28,63.91 L539.58,63.76 L539.87,63.61 L540.16,63.46 L540.45,63.30 L540.74,63.13 L541.03,62.96 L541.32,62.78 L541.61,62.60 L541.90,62.42 L542.19,62.24 L542.49,62.05 L542.78,61.86 L543.07,61.67 L543.36,61.48 L543.65,61.29 L543.94,61.11 L544.23,60.92 L544.52,60.73 L544.81,60.54 L545.11,60.35 L545.40,60.15 L545.69,59.96 L545.98,59.76 L546.27,59.56 L546.56,59.36 L546.85,59.16 L547.14,58.95 L547.43,58.74 L547.73,58.53 L548.02,58.31 L548.31,58.09 L548.60,57.87 L548.89,57.65 L549.18,57.43 L549.47,57.20 L549.76,56.97 L550.05,56.73 L550.35,56.48 L550.64,56.22 L550.93,55.96 L551.22,55.68 L551.51,55.38 L551.80,55.07 L552.09,54.74 L552.38,54.40 L552.67,54.04 L552.97,53.68 L553.26,53.32 L553.55,52.95 L553.84,52.58 L554.13,52.22 L554.42,51.87 L554.71,51.52 L555.00,51.18 L555.29,50.84 L555.59,50.50 L555.88,50.16 L556.17,49.81 L556.46,49.46 L556.75,49.11 L557.04,48.75 L557.33,48.38 L557.62,48.00 L557.91,47.61 L558.21,47.21 L558.50,46.80 L558.79,46.39 L559.08,45.97 L559.37,45.54 L559.66,45.10 L559.95,44.66 L560.24,44.20 L560.53,43.74 L560.83,43.28 L561.12,42.80 L561.41,42.31 L561.70,41.80 L561.99,41.27 L562.28,40.74 L562.57,40.20 L562.86,39.65 L563.15,39.11 L563.45,38.57 L563.74,38.03 L564.03,37.50 L564.32,36.98 L564.61,36.47 L564.90,35.97 L565.19,35.47 L565.48,34.97 L565.77,34.47 L566.07,33.97 L566.36,33.48 L566.65,32.98 L566.94,32.47 L567.23,31.97 L567.52,31.46 L567.81,30.93 L568.10,30.40 L568.39,29.86 L568.69,29.33 L568.98,28.80 L569.27,28.29 L569.56,27.79 L569.85,27.26 L570.14,26.72 L570.43,26.24 L570.72,25.91 L571.01,25.71 L571.30,25.56 L571.60,25.50 L571.89,25.56 L572.18,25.71 L572.47,25.91 L572.76,26.24 L573.05,26.72 L573.34,27.26 L573.63,27.79 L573.92,28.29 L574.22,28.80 L574.51,29.33 L574.80,29.86 L575.09,30.40 L575.38,30.93 L575.67,31.46 L575.96,31.97 L576.25,32.47 L576.54,32.98 L576.84,33.48 L577.13,33.97 L577.42,34.47 L577.71,34.97 L578.00,35.47 L578.29,35.97 L578.58,36.47 L578.87,36.98 L579.16,37.50 L579.46,38.03 L579.75,38.57 L580.04,39.11 L580.33,39.65 L580.62,40.20 L580.91,40.74 L581.20,41.27 L581.49,41.80 L581.78,42.31 L582.08,42.80 L582.37,43.28 L582.66,43.74 L582.95,44.20 L583.24,44.66 L583.53,45.10 L583.82,45.54 L584.11,45.97 L584.40,46.39 L584.70,46.80 L584.99,47.21 L585.28,47.61 L585.57,48.00 L585.86,48.38 L586.15,48.75 L586.44,49.11 L586.73,49.46 L587.02,49.81 L587.32,50.16 L587.61,50.50 L587.90,50.84 L588.19,51.18 L588.48,51.52 L588.77,51.87 L589.06,52.22 L589.35,52.58 L589.64,52.95 L589.94,53.32 L590.23,53.68 L590.52,54.04 L590.81,54.40 L591.10,54.74 L591.39,55.07 L591.68,55.38 L591.97,55.68 L592.26,55.96 L592.56,56.22 L592.85,56.48 L593.14,56.73 L593.43,56.97 L593.72,57.20 L594.01,57.43 L594.30,57.65 L594.59,57.87 L594.88,58.09 L595.18,58.31 L595.47,58.53 L595.76,58.74 L596.05,58.95 L596.34,59.16 L596.63,59.36 L596.92,59.56 L597.21,59.76 L597.50,59.96 L597.80,60.15 L598.09,60.35 L598.38,60.54 L598.67,60.73 L598.96,60.92 L599.25,61.11 L599.54,61.29 L599.83,61.48 L600.12,61.67 L600.41,61.86 L600.71,62.05 L601.00,62.24 L601.29,62.42 L601.58,62.60 L601.87,62.78 L602.16,62.96 L602.45,63.13 L602.74,63.30 L603.03,63.46 L603.33,63.61 L603.62,63.76 L603.91,63.91 L604.20,64.05 L604.49,64.19 L604.78,64.32 L605.07,64.46 L605.36,64.59 L605.65,64.71 L605.95,64.84 L606.24,64.96 L606.53,65.08 L606.82,65.20 L607.11,65.32 L607.40,65.43 L607.69,65.54 L607.98,65.65 L608.27,65.76 L608.57,65.86 L608.86,65.96 L609.15,66.07 L609.44,66.17 L609.73,66.27 L610.02,66.37 L610.31,66.47 L610.60,66.56 L610.89,66.66 L611.19,66.75 L611.48,66.84 L611.77,66.93 L612.06,67.02 L612.35,67.10 L612.64,67.18 L612.93,67.26 L613.22,67.34 L613.51,67.42 L613.81,67.49 L614.10,67.55 L614.39,67.62 L614.68,67.68 L614.97,67.75 L615.26,67.81 L615.55,67.87 L615.84,67.94 L616.13,68.00 L616.43,68.05 L616.72,68.11 L617.01,68.16 L617.30,68.21 L617.59,68.25 L617.88,68.30 L618.17,68.33 L618.46,68.37 L618.75,68.40 L619.05,68.42 L619.34,68.45 L619.63,68.47 L619.92,68.50 L620.21,68.52 L620.50,68.54 L620.79,68.57 L621.08,68.59 L621.37,68.61 L621.67,68.62 L621.96,68.64 L622.25,68.66 L622.54,68.67 L622.83,68.68 L623.12,68.69 L623.41,68.69 L623.70,68.70 L623.99,68.70 L624.29,68.70 L624.58,68.69 L624.87,68.69 L625.16,68.68 L625.45,68.67 L625.74,68.66 L626.03,68.64 L626.32,68.62 L626.61,68.61 L626.90,68.59 L627.20,68.57 L627.49,68.54 L627.78,68.52 L628.07,68.50 L628.36,68.47 L628.65,68.45 L628.94,68.42 L629.23,68.40 L629.52,68.37 L629.82,68.33 L630.11,68.30 L630.40,68.25 L630.69,68.21 L630.98,68.16 L631.27,68.11 L631.56,68.05 L631.85,68.00 L632.14,67.94 L632.44,67.87 L632.73,67.81 L633.02,67.75 L633.31,67.68 L633.60,67.62 L633.89,67.55 L634.18,67.49 L634.47,67.42 L634.76,67.34 L635.06,67.26 L635.35,67.18 L635.64,67.10 L635.93,67.02 L636.22,66.93 L636.51,66.84 L636.80,66.75 L637.09,66.66 L637.38,66.56 L637.68,66.47 L637.97,66.37 L638.26,66.27 L638.55,66.17 L638.84,66.07 L639.13,65.96 L639.42,65.86 L639.71,65.76 L640.00,65.65 L640.30,65.54 L640.59,65.43 L640.88,65.32 L641.17,65.20 L641.46,65.08 L641.75,64.96 L642.04,64.84 L642.33,64.71 L642.62,64.59 L642.92,64.46 L643.21,64.32 L643.50,64.19 L643.79,64.05 L644.08,63.91 L644.37,63.76 L644.66,63.61 L644.95,63.46 L645.24,63.30 L645.54,63.13 L645.83,62.96 L646.12,62.78 L646.41,62.60 L646.70,62.42 L646.99,62.24 L647.28,62.05 L647.57,61.86 L647.86,61.67 L648.16,61.48 L648.45,61.29 L648.74,61.11 L649.03,60.92 L649.32,60.73 L649.61,60.54 L649.90,60.35 L650.19,60.15 L650.48,59.96 L650.78,59.76 L651.07,59.56 L651.36,59.36 L651.65,59.16 L651.94,58.95 L652.23,58.74 L652.52,58.53 L652.81,58.31 L653.10,58.09 L653.40,57.87 L653.69,57.65 L653.98,57.43 L654.27,57.20 L654.56,56.97 L654.85,56.73 L655.14,56.48 L655.43,56.22 L655.72,55.96 L656.01,55.68 L656.31,55.38 L656.60,55.07 L656.89,54.74 L657.18,54.40 L657.47,54.04 L657.76,53.68 L658.05,53.32 L658.34,52.95 L658.63,52.58 L658.93,52.22 L659.22,51.87 L659.51,51.52 L659.80,51.18 L660.09,50.84 L660.38,50.50 L660.67,50.16 L660.96,49.81 L661.25,49.46 L661.55,49.11 L661.84,48.75 L662.13,48.38 L662.42,48.00 L662.71,47.61 L663.00,47.21 L663.29,46.80 L663.58,46.39 L663.87,45.97 L664.17,45.54 L664.46,45.10 L664.75,44.66 L665.04,44.20 L665.33,43.74 L665.62,43.28 L665.91,42.80 L666.20,42.31 L666.49,41.80 L666.79,41.27 L667.08,40.74 L667.37,40.20 L667.66,39.65 L667.95,39.11 L668.24,38.57 L668.53,38.03 L668.82,37.50 L669.11,36.98 L669.41,36.47 L669.70,35.97 L669.99,35.47 L670.28,34.97 L670.57,34.47 L670.86,33.97 L671.15,33.48 L671.44,32.98 L671.73,32.47 L672.03,31.97 L672.32,31.46 L672.61,30.93 L672.90,30.40 L673.19,29.86 L673.48,29.33 L673.77,28.80 L674.06,28.29 L674.35,27.79 L674.65,27.26 L674.94,26.72 L675.23,26.24 L675.52,25.91 L675.81,25.71 L676.10,25.56 L676.39,25.50" fill="none" stroke="#0072bd" stroke-width="2.5" stroke-linecap="round" stroke-dasharray="0 4.1"/>
<path d="M466.80,72.90 L467.38,72.78 L467.96,72.52 L468.55,72.07 L469.13,71.45 L469.71,70.72 L470.29,69.93 L470.88,69.13 L471.46,68.29 L472.04,67.33 L472.62,66.29 L473.20,65.21 L473.79,64.14 L474.37,63.10 L474.95,62.05 L475.53,60.99 L476.12,59.92 L476.70,58.89 L477.28,57.90 L477.86,56.97 L478.44,56.08 L479.03,55.23 L479.61,54.39 L480.19,53.55 L480.77,52.69 L481.36,51.82 L481.94,50.96 L482.52,50.09 L483.10,49.22 L483.68,48.36 L484.27,47.51 L484.85,46.64 L485.43,45.76 L486.01,44.91 L486.59,44.09 L487.18,43.33 L487.76,42.62 L488.34,41.95 L488.92,41.31 L489.51,40.70 L490.09,40.11 L490.67,39.53 L491.25,38.97 L491.83,38.43 L492.42,37.90 L493.00,37.38 L493.58,36.89 L494.16,36.43 L494.75,35.99 L495.33,35.58 L495.91,35.18 L496.49,34.80 L497.07,34.44 L497.66,34.09 L498.24,33.75 L498.82,33.43 L499.40,33.13 L499.99,32.84 L500.57,32.55 L501.15,32.28 L501.73,32.01 L502.31,31.76 L502.90,31.50 L503.48,31.25 L504.06,31.00 L504.64,30.75 L505.23,30.49 L505.81,30.24 L506.39,29.99 L506.97,29.76 L507.55,29.53 L508.14,29.32 L508.72,29.13 L509.30,28.95 L509.88,28.80 L510.47,28.65 L511.05,28.51 L511.63,28.38 L512.21,28.26 L512.79,28.16 L513.38,28.07 L513.96,28.00 L514.54,27.95 L515.12,27.90 L515.70,27.85 L516.29,27.81 L516.87,27.77 L517.45,27.74 L518.03,27.72 L518.62,27.71 L519.20,27.70 L519.78,27.71 L520.36,27.72 L520.94,27.74 L521.53,27.77 L522.11,27.81 L522.69,27.85 L523.27,27.90 L523.86,27.95 L524.44,28.00 L525.02,28.07 L525.60,28.16 L526.18,28.26 L526.77,28.38 L527.35,28.51 L527.93,28.65 L528.51,28.80 L529.10,28.95 L529.68,29.13 L530.26,29.32 L530.84,29.53 L531.42,29.76 L532.01,29.99 L532.59,30.24 L533.17,30.49 L533.75,30.75 L534.34,31.00 L534.92,31.25 L535.50,31.50 L536.08,31.76 L536.66,32.01 L537.25,32.28 L537.83,32.55 L538.41,32.84 L538.99,33.13 L539.58,33.43 L540.16,33.75 L540.74,34.09 L541.32,34.44 L541.90,34.80 L542.49,35.18 L543.07,35.58 L543.65,35.99 L544.23,36.43 L544.81,36.89 L545.40,37.38 L545.98,37.90 L546.56,38.43 L547.14,38.97 L547.73,39.53 L548.31,40.11 L548.89,40.70 L549.47,41.31 L550.05,41.95 L550.64,42.62 L551.22,43.33 L551.80,44.09 L552.38,44.91 L552.97,45.76 L553.55,46.64 L554.13,47.51 L554.71,48.36 L555.29,49.22 L555.88,50.09 L556.46,50.96 L557.04,51.82 L557.62,52.69 L558.21,53.55 L558.79,54.39 L559.37,55.23 L559.95,56.08 L560.53,56.97 L561.12,57.90 L561.70,58.89 L562.28,59.92 L562.86,60.99 L563.45,62.05 L564.03,63.10 L564.61,64.14 L565.19,65.21 L565.77,66.29 L566.36,67.33 L566.94,68.29 L567.52,69.13 L568.10,69.93 L568.69,70.72 L569.27,71.45 L569.85,72.07 L570.43,72.52 L571.01,72.77 L571.60,72.90 L572.18,72.78 L572.76,72.52 L573.34,72.07 L573.92,71.45 L574.51,70.72 L575.09,69.93 L575.67,69.13 L576.25,68.29 L576.84,67.33 L577.42,66.29 L578.00,65.21 L578.58,64.14 L579.16,63.10 L579.75,62.05 L580.33,60.99 L580.91,59.92 L581.49,58.89 L582.08,57.90 L582.66,56.97 L583.24,56.08 L583.82,55.23 L584.40,54.39 L584.99,53.55 L585.57,52.69 L586.15,51.82 L586.73,50.96 L587.32,50.09 L587.90,49.22 L588.48,48.36 L589.06,47.51 L589.64,46.64 L590.23,45.76 L590.81,44.91 L591.39,44.09 L591.97,43.33 L592.56,42.62 L593.14,41.95 L593.72,41.31 L594.30,40.70 L594.88,40.11 L595.47,39.53 L596.05,38.97 L596.63,38.43 L597.21,37.90 L597.80,37.38 L598.38,36.89 L598.96,36.43 L599.54,35.99 L600.12,35.58 L600.71,35.18 L601.29,34.80 L601.87,34.44 L602.45,34.09 L603.03,33.75 L603.62,33.43 L604.20,33.13 L604.78,32.84 L605.36,32.55 L605.95,32.28 L606.53,32.01 L607.11,31.76 L607.69,31.50 L608.27,31.25 L608.86,31.00 L609.44,30.75 L610.02,30.49 L610.60,30.24 L611.19,29.99 L611.77,29.76 L612.35,29.53 L612.93,29.32 L613.51,29.13 L614.10,28.95 L614.68,28.80 L615.26,28.65 L615.84,28.51 L616.43,28.38 L617.01,28.26 L617.59,28.16 L618.17,28.07 L618.75,28.00 L619.34,27.95 L619.92,27.90 L620.50,27.85 L621.08,27.81 L621.67,27.77 L622.25,27.74 L622.83,27.72 L623.41,27.71 L623.99,27.70 L624.58,27.71 L625.16,27.72 L625.74,27.74 L626.32,27.77 L626.90,27.81 L627.49,27.85 L628.07,27.90 L628.65,27.95 L629.23,28.00 L629.82,28.07 L630.40,28.16 L630.98,28.26 L631.56,28.38 L632.14,28.51 L632.73,28.65 L633.31,28.80 L633.89,28.95 L634.47,29.13 L635.06,29.32 L635.64,29.53 L636.22,29.76 L636.80,29.99 L637.38,30.24 L637.97,30.49 L638.55,30.75 L639.13,31.00 L639.71,31.25 L640.30,31.50 L640.88,31.76 L641.46,32.01 L642.04,32.28 L642.62,32.55 L643.21,32.84 L643.79,33.13 L644.37,33.43 L644.95,33.75 L645.54,34.09 L646.12,34.44 L646.70,34.80 L647.28,35.18 L647.86,35.58 L648.45,35.99 L649.03,36.43 L649.61,36.89 L650.19,37.38 L650.78,37.90 L651.36,38.43 L651.94,38.97 L652.52,39.53 L653.10,40.11 L653.69,40.70 L654.27,41.31 L654.85,41.95 L655.43,42.62 L656.01,43.33 L656.60,44.09 L657.18,44.91 L657.76,45.76 L658.34,46.64 L658.93,47.51 L659.51,48.36 L660.09,49.22 L660.67,50.09 L661.25,50.96 L661.84,51.82 L662.42,52.69 L663.00,53.55 L663.58,54.39 L664.17,55.23 L664.75,56.08 L665.33,56.97 L665.91,57.90 L666.49,58.89 L667.08,59.92 L667.66,60.99 L668.24,62.05 L668.82,63.10 L669.41,64.14 L669.99,65.21 L670.57,66.29 L671.15,67.33 L671.73,68.29 L672.32,69.13 L672.90,69.93 L673.48,70.72 L674.06,71.45 L674.65,72.07 L675.23,72.52 L675.81,72.77 L676.39,72.90" fill="none" stroke="#00a665" stroke-width="2.3"/>
</g>
<g clip-path="url(#cf)">
<path d="M466.80,182.90 L467.09,182.70 L467.38,182.45 L467.67,182.19 L467.96,181.93 L468.26,181.65 L468.55,181.36 L468.84,181.05 L469.13,180.73 L469.42,180.40 L469.71,180.03 L470.00,179.63 L470.29,179.20 L470.58,178.74 L470.88,178.29 L471.17,177.84 L471.46,177.42 L471.75,177.00 L472.04,176.59 L472.33,176.19 L472.62,175.78 L472.91,175.38 L473.20,174.97 L473.50,174.58 L473.79,174.18 L474.08,173.78 L474.37,173.39 L474.66,173.00 L474.95,172.60 L475.24,172.21 L475.53,171.82 L475.82,171.43 L476.12,171.05 L476.41,170.67 L476.70,170.29 L476.99,169.91 L477.28,169.54 L477.57,169.16 L477.86,168.79 L478.15,168.42 L478.44,168.04 L478.74,167.67 L479.03,167.29 L479.32,166.91 L479.61,166.52 L479.90,166.14 L480.19,165.74 L480.48,165.34 L480.77,164.94 L481.06,164.53 L481.36,164.13 L481.65,163.71 L481.94,163.30 L482.23,162.89 L482.52,162.48 L482.81,162.06 L483.10,161.65 L483.39,161.25 L483.68,160.84 L483.97,160.44 L484.27,160.05 L484.56,159.65 L484.85,159.26 L485.14,158.87 L485.43,158.49 L485.72,158.10 L486.01,157.72 L486.30,157.34 L486.59,156.96 L486.89,156.58 L487.18,156.20 L487.47,155.83 L487.76,155.46 L488.05,155.09 L488.34,154.72 L488.63,154.36 L488.92,154.00 L489.21,153.63 L489.51,153.27 L489.80,152.90 L490.09,152.53 L490.38,152.17 L490.67,151.81 L490.96,151.44 L491.25,151.09 L491.54,150.73 L491.83,150.38 L492.13,150.04 L492.42,149.70 L492.71,149.37 L493.00,149.05 L493.29,148.73 L493.58,148.43 L493.87,148.13 L494.16,147.84 L494.45,147.55 L494.75,147.27 L495.04,146.99 L495.33,146.71 L495.62,146.43 L495.91,146.16 L496.20,145.89 L496.49,145.63 L496.78,145.37 L497.07,145.11 L497.37,144.86 L497.66,144.62 L497.95,144.38 L498.24,144.14 L498.53,143.91 L498.82,143.69 L499.11,143.47 L499.40,143.26 L499.69,143.06 L499.99,142.87 L500.28,142.68 L500.57,142.50 L500.86,142.32 L501.15,142.14 L501.44,141.97 L501.73,141.80 L502.02,141.63 L502.31,141.47 L502.61,141.31 L502.90,141.15 L503.19,141.00 L503.48,140.85 L503.77,140.70 L504.06,140.56 L504.35,140.42 L504.64,140.29 L504.93,140.16 L505.23,140.03 L505.52,139.91 L505.81,139.80 L506.10,139.68 L506.39,139.58 L506.68,139.47 L506.97,139.38 L507.26,139.28 L507.55,139.18 L507.85,139.09 L508.14,138.99 L508.43,138.90 L508.72,138.81 L509.01,138.72 L509.30,138.63 L509.59,138.54 L509.88,138.46 L510.17,138.38 L510.47,138.31 L510.76,138.23 L511.05,138.16 L511.34,138.10 L511.63,138.04 L511.92,137.98 L512.21,137.94 L512.50,137.89 L512.79,137.85 L513.08,137.82 L513.38,137.79 L513.67,137.77 L513.96,137.75 L514.25,137.72 L514.54,137.70 L514.83,137.68 L515.12,137.66 L515.41,137.64 L515.70,137.62 L516.00,137.60 L516.29,137.59 L516.58,137.57 L516.87,137.56 L517.16,137.54 L517.45,137.53 L517.74,137.52 L518.03,137.51 L518.32,137.51 L518.62,137.50 L518.91,137.50 L519.20,137.50 L519.49,137.50 L519.78,137.50 L520.07,137.51 L520.36,137.51 L520.65,137.52 L520.94,137.53 L521.24,137.54 L521.53,137.56 L521.82,137.57 L522.11,137.59 L522.40,137.60 L522.69,137.62 L522.98,137.64 L523.27,137.66 L523.56,137.68 L523.86,137.70 L524.15,137.72 L524.44,137.75 L524.73,137.77 L525.02,137.79 L525.31,137.82 L525.60,137.85 L525.89,137.89 L526.18,137.94 L526.48,137.98 L526.77,138.04 L527.06,138.10 L527.35,138.16 L527.64,138.23 L527.93,138.31 L528.22,138.38 L528.51,138.46 L528.80,138.54 L529.10,138.63 L529.39,138.72 L529.68,138.81 L529.97,138.90 L530.26,138.99 L530.55,139.09 L530.84,139.18 L531.13,139.28 L531.42,139.38 L531.72,139.47 L532.01,139.58 L532.30,139.68 L532.59,139.80 L532.88,139.91 L533.17,140.03 L533.46,140.16 L533.75,140.29 L534.04,140.42 L534.34,140.56 L534.63,140.70 L534.92,140.85 L535.21,141.00 L535.50,141.15 L535.79,141.31 L536.08,141.47 L536.37,141.63 L536.66,141.80 L536.96,141.97 L537.25,142.14 L537.54,142.32 L537.83,142.50 L538.12,142.68 L538.41,142.87 L538.70,143.06 L538.99,143.26 L539.28,143.47 L539.58,143.69 L539.87,143.91 L540.16,144.14 L540.45,144.38 L540.74,144.62 L541.03,144.86 L541.32,145.11 L541.61,145.37 L541.90,145.63 L542.19,145.89 L542.49,146.16 L542.78,146.43 L543.07,146.71 L543.36,146.99 L543.65,147.27 L543.94,147.55 L544.23,147.84 L544.52,148.13 L544.81,148.43 L545.11,148.73 L545.40,149.05 L545.69,149.37 L545.98,149.70 L546.27,150.04 L546.56,150.38 L546.85,150.73 L547.14,151.09 L547.43,151.44 L547.73,151.81 L548.02,152.17 L548.31,152.53 L548.60,152.90 L548.89,153.27 L549.18,153.63 L549.47,154.00 L549.76,154.36 L550.05,154.72 L550.35,155.09 L550.64,155.46 L550.93,155.83 L551.22,156.20 L551.51,156.58 L551.80,156.96 L552.09,157.34 L552.38,157.72 L552.67,158.10 L552.97,158.49 L553.26,158.87 L553.55,159.26 L553.84,159.65 L554.13,160.05 L554.42,160.44 L554.71,160.84 L555.00,161.25 L555.29,161.65 L555.59,162.06 L555.88,162.48 L556.17,162.89 L556.46,163.30 L556.75,163.71 L557.04,164.13 L557.33,164.53 L557.62,164.94 L557.91,165.34 L558.21,165.74 L558.50,166.14 L558.79,166.52 L559.08,166.91 L559.37,167.29 L559.66,167.67 L559.95,168.04 L560.24,168.42 L560.53,168.79 L560.83,169.16 L561.12,169.54 L561.41,169.91 L561.70,170.29 L561.99,170.67 L562.28,171.05 L562.57,171.43 L562.86,171.82 L563.15,172.21 L563.45,172.60 L563.74,173.00 L564.03,173.39 L564.32,173.78 L564.61,174.18 L564.90,174.58 L565.19,174.97 L565.48,175.38 L565.77,175.78 L566.07,176.19 L566.36,176.59 L566.65,177.00 L566.94,177.42 L567.23,177.84 L567.52,178.29 L567.81,178.74 L568.10,179.20 L568.39,179.63 L568.69,180.03 L568.98,180.40 L569.27,180.73 L569.56,181.05 L569.85,181.36 L570.14,181.65 L570.43,181.93 L570.72,182.19 L571.01,182.45 L571.30,182.69 L571.60,182.90 L571.89,182.70 L572.18,182.45 L572.47,182.19 L572.76,181.93 L573.05,181.65 L573.34,181.36 L573.63,181.05 L573.92,180.73 L574.22,180.40 L574.51,180.03 L574.80,179.63 L575.09,179.20 L575.38,178.74 L575.67,178.29 L575.96,177.84 L576.25,177.42 L576.54,177.00 L576.84,176.59 L577.13,176.19 L577.42,175.78 L577.71,175.38 L578.00,174.97 L578.29,174.58 L578.58,174.18 L578.87,173.78 L579.16,173.39 L579.46,173.00 L579.75,172.60 L580.04,172.21 L580.33,171.82 L580.62,171.43 L580.91,171.05 L581.20,170.67 L581.49,170.29 L581.78,169.91 L582.08,169.54 L582.37,169.16 L582.66,168.79 L582.95,168.42 L583.24,168.04 L583.53,167.67 L583.82,167.29 L584.11,166.91 L584.40,166.52 L584.70,166.14 L584.99,165.74 L585.28,165.34 L585.57,164.94 L585.86,164.53 L586.15,164.13 L586.44,163.71 L586.73,163.30 L587.02,162.89 L587.32,162.48 L587.61,162.06 L587.90,161.65 L588.19,161.25 L588.48,160.84 L588.77,160.44 L589.06,160.05 L589.35,159.65 L589.64,159.26 L589.94,158.87 L590.23,158.49 L590.52,158.10 L590.81,157.72 L591.10,157.34 L591.39,156.96 L591.68,156.58 L591.97,156.20 L592.26,155.83 L592.56,155.46 L592.85,155.09 L593.14,154.72 L593.43,154.36 L593.72,154.00 L594.01,153.63 L594.30,153.27 L594.59,152.90 L594.88,152.53 L595.18,152.17 L595.47,151.81 L595.76,151.44 L596.05,151.09 L596.34,150.73 L596.63,150.38 L596.92,150.04 L597.21,149.70 L597.50,149.37 L597.80,149.05 L598.09,148.73 L598.38,148.43 L598.67,148.13 L598.96,147.84 L599.25,147.55 L599.54,147.27 L599.83,146.99 L600.12,146.71 L600.41,146.43 L600.71,146.16 L601.00,145.89 L601.29,145.63 L601.58,145.37 L601.87,145.11 L602.16,144.86 L602.45,144.62 L602.74,144.38 L603.03,144.14 L603.33,143.91 L603.62,143.69 L603.91,143.47 L604.20,143.26 L604.49,143.06 L604.78,142.87 L605.07,142.68 L605.36,142.50 L605.65,142.32 L605.95,142.14 L606.24,141.97 L606.53,141.80 L606.82,141.63 L607.11,141.47 L607.40,141.31 L607.69,141.15 L607.98,141.00 L608.27,140.85 L608.57,140.70 L608.86,140.56 L609.15,140.42 L609.44,140.29 L609.73,140.16 L610.02,140.03 L610.31,139.91 L610.60,139.80 L610.89,139.68 L611.19,139.58 L611.48,139.47 L611.77,139.38 L612.06,139.28 L612.35,139.18 L612.64,139.09 L612.93,138.99 L613.22,138.90 L613.51,138.81 L613.81,138.72 L614.10,138.63 L614.39,138.54 L614.68,138.46 L614.97,138.38 L615.26,138.31 L615.55,138.23 L615.84,138.16 L616.13,138.10 L616.43,138.04 L616.72,137.98 L617.01,137.94 L617.30,137.89 L617.59,137.85 L617.88,137.82 L618.17,137.79 L618.46,137.77 L618.75,137.75 L619.05,137.72 L619.34,137.70 L619.63,137.68 L619.92,137.66 L620.21,137.64 L620.50,137.62 L620.79,137.60 L621.08,137.59 L621.37,137.57 L621.67,137.56 L621.96,137.54 L622.25,137.53 L622.54,137.52 L622.83,137.51 L623.12,137.51 L623.41,137.50 L623.70,137.50 L623.99,137.50 L624.29,137.50 L624.58,137.50 L624.87,137.51 L625.16,137.51 L625.45,137.52 L625.74,137.53 L626.03,137.54 L626.32,137.56 L626.61,137.57 L626.90,137.59 L627.20,137.60 L627.49,137.62 L627.78,137.64 L628.07,137.66 L628.36,137.68 L628.65,137.70 L628.94,137.72 L629.23,137.75 L629.52,137.77 L629.82,137.79 L630.11,137.82 L630.40,137.85 L630.69,137.89 L630.98,137.94 L631.27,137.98 L631.56,138.04 L631.85,138.10 L632.14,138.16 L632.44,138.23 L632.73,138.31 L633.02,138.38 L633.31,138.46 L633.60,138.54 L633.89,138.63 L634.18,138.72 L634.47,138.81 L634.76,138.90 L635.06,138.99 L635.35,139.09 L635.64,139.18 L635.93,139.28 L636.22,139.38 L636.51,139.47 L636.80,139.58 L637.09,139.68 L637.38,139.80 L637.68,139.91 L637.97,140.03 L638.26,140.16 L638.55,140.29 L638.84,140.42 L639.13,140.56 L639.42,140.70 L639.71,140.85 L640.00,141.00 L640.30,141.15 L640.59,141.31 L640.88,141.47 L641.17,141.63 L641.46,141.80 L641.75,141.97 L642.04,142.14 L642.33,142.32 L642.62,142.50 L642.92,142.68 L643.21,142.87 L643.50,143.06 L643.79,143.26 L644.08,143.47 L644.37,143.69 L644.66,143.91 L644.95,144.14 L645.24,144.38 L645.54,144.62 L645.83,144.86 L646.12,145.11 L646.41,145.37 L646.70,145.63 L646.99,145.89 L647.28,146.16 L647.57,146.43 L647.86,146.71 L648.16,146.99 L648.45,147.27 L648.74,147.55 L649.03,147.84 L649.32,148.13 L649.61,148.43 L649.90,148.73 L650.19,149.05 L650.48,149.37 L650.78,149.70 L651.07,150.04 L651.36,150.38 L651.65,150.73 L651.94,151.09 L652.23,151.44 L652.52,151.81 L652.81,152.17 L653.10,152.53 L653.40,152.90 L653.69,153.27 L653.98,153.63 L654.27,154.00 L654.56,154.36 L654.85,154.72 L655.14,155.09 L655.43,155.46 L655.72,155.83 L656.01,156.20 L656.31,156.58 L656.60,156.96 L656.89,157.34 L657.18,157.72 L657.47,158.10 L657.76,158.49 L658.05,158.87 L658.34,159.26 L658.63,159.65 L658.93,160.05 L659.22,160.44 L659.51,160.84 L659.80,161.25 L660.09,161.65 L660.38,162.06 L660.67,162.48 L660.96,162.89 L661.25,163.30 L661.55,163.71 L661.84,164.13 L662.13,164.53 L662.42,164.94 L662.71,165.34 L663.00,165.74 L663.29,166.14 L663.58,166.52 L663.87,166.91 L664.17,167.29 L664.46,167.67 L664.75,168.04 L665.04,168.42 L665.33,168.79 L665.62,169.16 L665.91,169.54 L666.20,169.91 L666.49,170.29 L666.79,170.67 L667.08,171.05 L667.37,171.43 L667.66,171.82 L667.95,172.21 L668.24,172.60 L668.53,173.00 L668.82,173.39 L669.11,173.78 L669.41,174.18 L669.70,174.58 L669.99,174.97 L670.28,175.38 L670.57,175.78 L670.86,176.19 L671.15,176.59 L671.44,177.00 L671.73,177.42 L672.03,177.84 L672.32,178.29 L672.61,178.74 L672.90,179.20 L673.19,179.63 L673.48,180.03 L673.77,180.40 L674.06,180.73 L674.35,181.05 L674.65,181.36 L674.94,181.65 L675.23,181.93 L675.52,182.19 L675.81,182.45 L676.10,182.69 L676.39,182.90" fill="none" stroke="#0072bd" stroke-width="2.5" stroke-linecap="round" stroke-dasharray="0 4.1"/>
<path d="M466.80,129.50 L467.38,129.92 L467.96,130.38 L468.55,130.90 L469.13,131.47 L469.71,132.13 L470.29,132.89 L470.88,133.87 L471.46,135.12 L472.04,136.55 L472.62,138.08 L473.20,139.63 L473.79,141.15 L474.37,142.76 L474.95,144.46 L475.53,146.16 L476.12,147.81 L476.70,149.35 L477.28,150.76 L477.86,152.13 L478.44,153.44 L479.03,154.69 L479.61,155.86 L480.19,156.95 L480.77,157.96 L481.36,158.91 L481.94,159.81 L482.52,160.69 L483.10,161.55 L483.68,162.41 L484.27,163.25 L484.85,164.07 L485.43,164.87 L486.01,165.63 L486.59,166.37 L487.18,167.07 L487.76,167.75 L488.34,168.42 L488.92,169.07 L489.51,169.72 L490.09,170.37 L490.67,171.01 L491.25,171.64 L491.83,172.25 L492.42,172.82 L493.00,173.36 L493.58,173.88 L494.16,174.38 L494.75,174.85 L495.33,175.28 L495.91,175.68 L496.49,176.05 L497.07,176.41 L497.66,176.72 L498.24,176.98 L498.82,177.19 L499.40,177.40 L499.99,177.59 L500.57,177.77 L501.15,177.94 L501.73,178.09 L502.31,178.24 L502.90,178.37 L503.48,178.49 L504.06,178.59 L504.64,178.69 L505.23,178.78 L505.81,178.86 L506.39,178.94 L506.97,179.02 L507.55,179.10 L508.14,179.17 L508.72,179.23 L509.30,179.29 L509.88,179.35 L510.47,179.40 L511.05,179.45 L511.63,179.50 L512.21,179.54 L512.79,179.57 L513.38,179.60 L513.96,179.63 L514.54,179.66 L515.12,179.69 L515.70,179.71 L516.29,179.74 L516.87,179.76 L517.45,179.78 L518.03,179.79 L518.62,179.80 L519.20,179.80 L519.78,179.80 L520.36,179.79 L520.94,179.78 L521.53,179.76 L522.11,179.74 L522.69,179.71 L523.27,179.69 L523.86,179.66 L524.44,179.63 L525.02,179.60 L525.60,179.57 L526.18,179.54 L526.77,179.50 L527.35,179.45 L527.93,179.40 L528.51,179.35 L529.10,179.29 L529.68,179.23 L530.26,179.17 L530.84,179.10 L531.42,179.02 L532.01,178.94 L532.59,178.86 L533.17,178.78 L533.75,178.69 L534.34,178.59 L534.92,178.49 L535.50,178.37 L536.08,178.24 L536.66,178.09 L537.25,177.94 L537.83,177.77 L538.41,177.59 L538.99,177.40 L539.58,177.19 L540.16,176.98 L540.74,176.72 L541.32,176.41 L541.90,176.05 L542.49,175.68 L543.07,175.28 L543.65,174.85 L544.23,174.38 L544.81,173.88 L545.40,173.36 L545.98,172.82 L546.56,172.25 L547.14,171.64 L547.73,171.01 L548.31,170.37 L548.89,169.72 L549.47,169.07 L550.05,168.42 L550.64,167.75 L551.22,167.07 L551.80,166.37 L552.38,165.63 L552.97,164.87 L553.55,164.07 L554.13,163.25 L554.71,162.41 L555.29,161.55 L555.88,160.69 L556.46,159.81 L557.04,158.91 L557.62,157.96 L558.21,156.95 L558.79,155.86 L559.37,154.69 L559.95,153.44 L560.53,152.13 L561.12,150.76 L561.70,149.35 L562.28,147.81 L562.86,146.16 L563.45,144.46 L564.03,142.76 L564.61,141.15 L565.19,139.63 L565.77,138.08 L566.36,136.55 L566.94,135.12 L567.52,133.87 L568.10,132.89 L568.69,132.13 L569.27,131.47 L569.85,130.90 L570.43,130.38 L571.01,129.92 L571.60,129.50 L572.18,129.92 L572.76,130.38 L573.34,130.90 L573.92,131.47 L574.51,132.13 L575.09,132.89 L575.67,133.87 L576.25,135.12 L576.84,136.55 L577.42,138.08 L578.00,139.63 L578.58,141.15 L579.16,142.76 L579.75,144.46 L580.33,146.16 L580.91,147.81 L581.49,149.35 L582.08,150.76 L582.66,152.13 L583.24,153.44 L583.82,154.69 L584.40,155.86 L584.99,156.95 L585.57,157.96 L586.15,158.91 L586.73,159.81 L587.32,160.69 L587.90,161.55 L588.48,162.41 L589.06,163.25 L589.64,164.07 L590.23,164.87 L590.81,165.63 L591.39,166.37 L591.97,167.07 L592.56,167.75 L593.14,168.42 L593.72,169.07 L594.30,169.72 L594.88,170.37 L595.47,171.01 L596.05,171.64 L596.63,172.25 L597.21,172.82 L597.80,173.36 L598.38,173.88 L598.96,174.38 L599.54,174.85 L600.12,175.28 L600.71,175.68 L601.29,176.05 L601.87,176.41 L602.45,176.72 L603.03,176.98 L603.62,177.19 L604.20,177.40 L604.78,177.59 L605.36,177.77 L605.95,177.94 L606.53,178.09 L607.11,178.24 L607.69,178.37 L608.27,178.49 L608.86,178.59 L609.44,178.69 L610.02,178.78 L610.60,178.86 L611.19,178.94 L611.77,179.02 L612.35,179.10 L612.93,179.17 L613.51,179.23 L614.10,179.29 L614.68,179.35 L615.26,179.40 L615.84,179.45 L616.43,179.50 L617.01,179.54 L617.59,179.57 L618.17,179.60 L618.75,179.63 L619.34,179.66 L619.92,179.69 L620.50,179.71 L621.08,179.74 L621.67,179.76 L622.25,179.78 L622.83,179.79 L623.41,179.80 L623.99,179.80 L624.58,179.80 L625.16,179.79 L625.74,179.78 L626.32,179.76 L626.90,179.74 L627.49,179.71 L628.07,179.69 L628.65,179.66 L629.23,179.63 L629.82,179.60 L630.40,179.57 L630.98,179.54 L631.56,179.50 L632.14,179.45 L632.73,179.40 L633.31,179.35 L633.89,179.29 L634.47,179.23 L635.06,179.17 L635.64,179.10 L636.22,179.02 L636.80,178.94 L637.38,178.86 L637.97,178.78 L638.55,178.69 L639.13,178.59 L639.71,178.49 L640.30,178.37 L640.88,178.24 L641.46,178.09 L642.04,177.94 L642.62,177.77 L643.21,177.59 L643.79,177.40 L644.37,177.19 L644.95,176.98 L645.54,176.72 L646.12,176.41 L646.70,176.05 L647.28,175.68 L647.86,175.28 L648.45,174.85 L649.03,174.38 L649.61,173.88 L650.19,173.36 L650.78,172.82 L651.36,172.25 L651.94,171.64 L652.52,171.01 L653.10,170.37 L653.69,169.72 L654.27,169.07 L654.85,168.42 L655.43,167.75 L656.01,167.07 L656.60,166.37 L657.18,165.63 L657.76,164.87 L658.34,164.07 L658.93,163.25 L659.51,162.41 L660.09,161.55 L660.67,160.69 L661.25,159.81 L661.84,158.91 L662.42,157.96 L663.00,156.95 L663.58,155.86 L664.17,154.69 L664.75,153.44 L665.33,152.13 L665.91,150.76 L666.49,149.35 L667.08,147.81 L667.66,146.16 L668.24,144.46 L668.82,142.76 L669.41,141.15 L669.99,139.63 L670.57,138.08 L671.15,136.55 L671.73,135.12 L672.32,133.87 L672.90,132.89 L673.48,132.13 L674.06,131.47 L674.65,130.90 L675.23,130.38 L675.81,129.92 L676.39,129.50" fill="none" stroke="#00a665" stroke-width="2.3"/>
</g>
<g clip-path="url(#cg)">
<path d="M466.80,212.60 L467.09,212.89 L467.38,213.31 L467.67,213.84 L467.96,214.46 L468.26,215.16 L468.55,215.92 L468.84,216.72 L469.13,217.56 L469.42,218.42 L469.71,219.28 L470.00,220.13 L470.29,220.97 L470.58,221.82 L470.88,222.70 L471.17,223.61 L471.46,224.54 L471.75,225.50 L472.04,226.47 L472.33,227.45 L472.62,228.44 L472.91,229.44 L473.20,230.43 L473.50,231.43 L473.79,232.41 L474.08,233.39 L474.37,234.36 L474.66,235.34 L474.95,236.32 L475.24,237.31 L475.53,238.31 L475.82,239.30 L476.12,240.30 L476.41,241.29 L476.70,242.28 L476.99,243.26 L477.28,244.23 L477.57,245.19 L477.86,246.14 L478.15,247.07 L478.44,248.00 L478.74,248.95 L479.03,249.89 L479.32,250.84 L479.61,251.78 L479.90,252.71 L480.19,253.63 L480.48,254.52 L480.77,255.39 L481.06,256.24 L481.36,257.05 L481.65,257.82 L481.94,258.55 L482.23,259.24 L482.52,259.92 L482.81,260.57 L483.10,261.21 L483.39,261.83 L483.68,262.44 L483.97,263.02 L484.27,263.59 L484.56,264.14 L484.85,264.67 L485.14,265.19 L485.43,265.68 L485.72,266.16 L486.01,266.62 L486.30,267.07 L486.59,267.51 L486.89,267.94 L487.18,268.37 L487.47,268.78 L487.76,269.19 L488.05,269.59 L488.34,269.98 L488.63,270.36 L488.92,270.72 L489.21,271.07 L489.51,271.41 L489.80,271.74 L490.09,272.05 L490.38,272.35 L490.67,272.63 L490.96,272.90 L491.25,273.14 L491.54,273.38 L491.83,273.62 L492.13,273.85 L492.42,274.07 L492.71,274.29 L493.00,274.50 L493.29,274.71 L493.58,274.92 L493.87,275.12 L494.16,275.31 L494.45,275.50 L494.75,275.69 L495.04,275.86 L495.33,276.04 L495.62,276.21 L495.91,276.37 L496.20,276.53 L496.49,276.69 L496.78,276.83 L497.07,276.98 L497.37,277.12 L497.66,277.25 L497.95,277.38 L498.24,277.50 L498.53,277.62 L498.82,277.73 L499.11,277.84 L499.40,277.95 L499.69,278.05 L499.99,278.15 L500.28,278.25 L500.57,278.35 L500.86,278.45 L501.15,278.54 L501.44,278.63 L501.73,278.73 L502.02,278.82 L502.31,278.90 L502.61,278.99 L502.90,279.07 L503.19,279.16 L503.48,279.24 L503.77,279.31 L504.06,279.39 L504.35,279.47 L504.64,279.54 L504.93,279.61 L505.23,279.68 L505.52,279.75 L505.81,279.82 L506.10,279.88 L506.39,279.94 L506.68,280.00 L506.97,280.06 L507.26,280.12 L507.55,280.18 L507.85,280.23 L508.14,280.28 L508.43,280.33 L508.72,280.38 L509.01,280.43 L509.30,280.47 L509.59,280.51 L509.88,280.56 L510.17,280.60 L510.47,280.64 L510.76,280.69 L511.05,280.73 L511.34,280.77 L511.63,280.81 L511.92,280.86 L512.21,280.90 L512.50,280.94 L512.79,280.98 L513.08,281.02 L513.38,281.06 L513.67,281.09 L513.96,281.13 L514.25,281.17 L514.54,281.20 L514.83,281.23 L515.12,281.26 L515.41,281.29 L515.70,281.32 L516.00,281.35 L516.29,281.37 L516.58,281.40 L516.87,281.42 L517.16,281.44 L517.45,281.45 L517.74,281.47 L518.03,281.48 L518.32,281.49 L518.62,281.49 L518.91,281.50 L519.20,281.50 L519.49,281.50 L519.78,281.49 L520.07,281.49 L520.36,281.48 L520.65,281.47 L520.94,281.45 L521.24,281.44 L521.53,281.42 L521.82,281.40 L522.11,281.37 L522.40,281.35 L522.69,281.32 L522.98,281.29 L523.27,281.26 L523.56,281.23 L523.86,281.20 L524.15,281.17 L524.44,281.13 L524.73,281.09 L525.02,281.06 L525.31,281.02 L525.60,280.98 L525.89,280.94 L526.18,280.90 L526.48,280.86 L526.77,280.81 L527.06,280.77 L527.35,280.73 L527.64,280.69 L527.93,280.64 L528.22,280.60 L528.51,280.56 L528.80,280.51 L529.10,280.47 L529.39,280.43 L529.68,280.38 L529.97,280.33 L530.26,280.28 L530.55,280.23 L530.84,280.18 L531.13,280.12 L531.42,280.06 L531.72,280.00 L532.01,279.94 L532.30,279.88 L532.59,279.82 L532.88,279.75 L533.17,279.68 L533.46,279.61 L533.75,279.54 L534.04,279.47 L534.34,279.39 L534.63,279.31 L534.92,279.24 L535.21,279.16 L535.50,279.07 L535.79,278.99 L536.08,278.90 L536.37,278.82 L536.66,278.73 L536.96,278.63 L537.25,278.54 L537.54,278.45 L537.83,278.35 L538.12,278.25 L538.41,278.15 L538.70,278.05 L538.99,277.95 L539.28,277.84 L539.58,277.73 L539.87,277.62 L540.16,277.50 L540.45,277.38 L540.74,277.25 L541.03,277.12 L541.32,276.98 L541.61,276.83 L541.90,276.69 L542.19,276.53 L542.49,276.37 L542.78,276.21 L543.07,276.04 L543.36,275.86 L543.65,275.69 L543.94,275.50 L544.23,275.31 L544.52,275.12 L544.81,274.92 L545.11,274.71 L545.40,274.50 L545.69,274.29 L545.98,274.07 L546.27,273.85 L546.56,273.62 L546.85,273.38 L547.14,273.14 L547.43,272.90 L547.73,272.63 L548.02,272.35 L548.31,272.05 L548.60,271.74 L548.89,271.41 L549.18,271.07 L549.47,270.72 L549.76,270.36 L550.05,269.98 L550.35,269.59 L550.64,269.19 L550.93,268.78 L551.22,268.37 L551.51,267.94 L551.80,267.51 L552.09,267.07 L552.38,266.62 L552.67,266.16 L552.97,265.68 L553.26,265.19 L553.55,264.67 L553.84,264.14 L554.13,263.59 L554.42,263.02 L554.71,262.44 L555.00,261.83 L555.29,261.21 L555.59,260.57 L555.88,259.92 L556.17,259.24 L556.46,258.55 L556.75,257.82 L557.04,257.05 L557.33,256.24 L557.62,255.39 L557.91,254.52 L558.21,253.63 L558.50,252.71 L558.79,251.78 L559.08,250.84 L559.37,249.89 L559.66,248.95 L559.95,248.00 L560.24,247.07 L560.53,246.14 L560.83,245.19 L561.12,244.23 L561.41,243.26 L561.70,242.28 L561.99,241.29 L562.28,240.30 L562.57,239.30 L562.86,238.31 L563.15,237.31 L563.45,236.32 L563.74,235.34 L564.03,234.36 L564.32,233.39 L564.61,232.41 L564.90,231.43 L565.19,230.43 L565.48,229.44 L565.77,228.44 L566.07,227.45 L566.36,226.47 L566.65,225.50 L566.94,224.54 L567.23,223.61 L567.52,222.70 L567.81,221.82 L568.10,220.97 L568.39,220.13 L568.69,219.28 L568.98,218.42 L569.27,217.56 L569.56,216.72 L569.85,215.92 L570.14,215.16 L570.43,214.46 L570.72,213.84 L571.01,213.31 L571.30,212.89 L571.60,212.60 L571.89,212.89 L572.18,213.31 L572.47,213.84 L572.76,214.46 L573.05,215.16 L573.34,215.92 L573.63,216.72 L573.92,217.56 L574.22,218.42 L574.51,219.28 L574.80,220.13 L575.09,220.97 L575.38,221.82 L575.67,222.70 L575.96,223.61 L576.25,224.54 L576.54,225.50 L576.84,226.47 L577.13,227.45 L577.42,228.44 L577.71,229.44 L578.00,230.43 L578.29,231.43 L578.58,232.41 L578.87,233.39 L579.16,234.36 L579.46,235.34 L579.75,236.32 L580.04,237.31 L580.33,238.31 L580.62,239.30 L580.91,240.30 L581.20,241.29 L581.49,242.28 L581.78,243.26 L582.08,244.23 L582.37,245.19 L582.66,246.14 L582.95,247.07 L583.24,248.00 L583.53,248.95 L583.82,249.89 L584.11,250.84 L584.40,251.78 L584.70,252.71 L584.99,253.63 L585.28,254.52 L585.57,255.39 L585.86,256.24 L586.15,257.05 L586.44,257.82 L586.73,258.55 L587.02,259.24 L587.32,259.92 L587.61,260.57 L587.90,261.21 L588.19,261.83 L588.48,262.44 L588.77,263.02 L589.06,263.59 L589.35,264.14 L589.64,264.67 L589.94,265.19 L590.23,265.68 L590.52,266.16 L590.81,266.62 L591.10,267.07 L591.39,267.51 L591.68,267.94 L591.97,268.37 L592.26,268.78 L592.56,269.19 L592.85,269.59 L593.14,269.98 L593.43,270.36 L593.72,270.72 L594.01,271.07 L594.30,271.41 L594.59,271.74 L594.88,272.05 L595.18,272.35 L595.47,272.63 L595.76,272.90 L596.05,273.14 L596.34,273.38 L596.63,273.62 L596.92,273.85 L597.21,274.07 L597.50,274.29 L597.80,274.50 L598.09,274.71 L598.38,274.92 L598.67,275.12 L598.96,275.31 L599.25,275.50 L599.54,275.69 L599.83,275.86 L600.12,276.04 L600.41,276.21 L600.71,276.37 L601.00,276.53 L601.29,276.69 L601.58,276.83 L601.87,276.98 L602.16,277.12 L602.45,277.25 L602.74,277.38 L603.03,277.50 L603.33,277.62 L603.62,277.73 L603.91,277.84 L604.20,277.95 L604.49,278.05 L604.78,278.15 L605.07,278.25 L605.36,278.35 L605.65,278.45 L605.95,278.54 L606.24,278.63 L606.53,278.73 L606.82,278.82 L607.11,278.90 L607.40,278.99 L607.69,279.07 L607.98,279.16 L608.27,279.24 L608.57,279.31 L608.86,279.39 L609.15,279.47 L609.44,279.54 L609.73,279.61 L610.02,279.68 L610.31,279.75 L610.60,279.82 L610.89,279.88 L611.19,279.94 L611.48,280.00 L611.77,280.06 L612.06,280.12 L612.35,280.18 L612.64,280.23 L612.93,280.28 L613.22,280.33 L613.51,280.38 L613.81,280.43 L614.10,280.47 L614.39,280.51 L614.68,280.56 L614.97,280.60 L615.26,280.64 L615.55,280.69 L615.84,280.73 L616.13,280.77 L616.43,280.81 L616.72,280.86 L617.01,280.90 L617.30,280.94 L617.59,280.98 L617.88,281.02 L618.17,281.06 L618.46,281.09 L618.75,281.13 L619.05,281.17 L619.34,281.20 L619.63,281.23 L619.92,281.26 L620.21,281.29 L620.50,281.32 L620.79,281.35 L621.08,281.37 L621.37,281.40 L621.67,281.42 L621.96,281.44 L622.25,281.45 L622.54,281.47 L622.83,281.48 L623.12,281.49 L623.41,281.49 L623.70,281.50 L623.99,281.50 L624.29,281.50 L624.58,281.49 L624.87,281.49 L625.16,281.48 L625.45,281.47 L625.74,281.45 L626.03,281.44 L626.32,281.42 L626.61,281.40 L626.90,281.37 L627.20,281.35 L627.49,281.32 L627.78,281.29 L628.07,281.26 L628.36,281.23 L628.65,281.20 L628.94,281.17 L629.23,281.13 L629.52,281.09 L629.82,281.06 L630.11,281.02 L630.40,280.98 L630.69,280.94 L630.98,280.90 L631.27,280.86 L631.56,280.81 L631.85,280.77 L632.14,280.73 L632.44,280.69 L632.73,280.64 L633.02,280.60 L633.31,280.56 L633.60,280.51 L633.89,280.47 L634.18,280.43 L634.47,280.38 L634.76,280.33 L635.06,280.28 L635.35,280.23 L635.64,280.18 L635.93,280.12 L636.22,280.06 L636.51,280.00 L636.80,279.94 L637.09,279.88 L637.38,279.82 L637.68,279.75 L637.97,279.68 L638.26,279.61 L638.55,279.54 L638.84,279.47 L639.13,279.39 L639.42,279.31 L639.71,279.24 L640.00,279.16 L640.30,279.07 L640.59,278.99 L640.88,278.90 L641.17,278.82 L641.46,278.73 L641.75,278.63 L642.04,278.54 L642.33,278.45 L642.62,278.35 L642.92,278.25 L643.21,278.15 L643.50,278.05 L643.79,277.95 L644.08,277.84 L644.37,277.73 L644.66,277.62 L644.95,277.50 L645.24,277.38 L645.54,277.25 L645.83,277.12 L646.12,276.98 L646.41,276.83 L646.70,276.69 L646.99,276.53 L647.28,276.37 L647.57,276.21 L647.86,276.04 L648.16,275.86 L648.45,275.69 L648.74,275.50 L649.03,275.31 L649.32,275.12 L649.61,274.92 L649.90,274.71 L650.19,274.50 L650.48,274.29 L650.78,274.07 L651.07,273.85 L651.36,273.62 L651.65,273.38 L651.94,273.14 L652.23,272.90 L652.52,272.63 L652.81,272.35 L653.10,272.05 L653.40,271.74 L653.69,271.41 L653.98,271.07 L654.27,270.72 L654.56,270.36 L654.85,269.98 L655.14,269.59 L655.43,269.19 L655.72,268.78 L656.01,268.37 L656.31,267.94 L656.60,267.51 L656.89,267.07 L657.18,266.62 L657.47,266.16 L657.76,265.68 L658.05,265.19 L658.34,264.67 L658.63,264.14 L658.93,263.59 L659.22,263.02 L659.51,262.44 L659.80,261.83 L660.09,261.21 L660.38,260.57 L660.67,259.92 L660.96,259.24 L661.25,258.55 L661.55,257.82 L661.84,257.05 L662.13,256.24 L662.42,255.39 L662.71,254.52 L663.00,253.63 L663.29,252.71 L663.58,251.78 L663.87,250.84 L664.17,249.89 L664.46,248.95 L664.75,248.00 L665.04,247.07 L665.33,246.14 L665.62,245.19 L665.91,244.23 L666.20,243.26 L666.49,242.28 L666.79,241.29 L667.08,240.30 L667.37,239.30 L667.66,238.31 L667.95,237.31 L668.24,236.32 L668.53,235.34 L668.82,234.36 L669.11,233.39 L669.41,232.41 L669.70,231.43 L669.99,230.43 L670.28,229.44 L670.57,228.44 L670.86,227.45 L671.15,226.47 L671.44,225.50 L671.73,224.54 L672.03,223.61 L672.32,222.70 L672.61,221.82 L672.90,220.97 L673.19,220.13 L673.48,219.28 L673.77,218.42 L674.06,217.56 L674.35,216.72 L674.65,215.92 L674.94,215.16 L675.23,214.46 L675.52,213.84 L675.81,213.31 L676.10,212.89 L676.39,212.60" fill="none" stroke="#0072bd" stroke-width="2.5" stroke-linecap="round" stroke-dasharray="0 4.1"/>
<path d="M466.80,268.30 L467.38,268.50 L467.96,268.69 L468.55,268.88 L469.13,269.07 L469.71,269.27 L470.29,269.49 L470.88,269.72 L471.46,269.98 L472.04,270.28 L472.62,270.62 L473.20,271.00 L473.79,271.41 L474.37,271.83 L474.95,272.27 L475.53,272.70 L476.12,273.13 L476.70,273.53 L477.28,273.92 L477.86,274.32 L478.44,274.72 L479.03,275.13 L479.61,275.53 L480.19,275.93 L480.77,276.31 L481.36,276.69 L481.94,277.05 L482.52,277.38 L483.10,277.70 L483.68,277.99 L484.27,278.28 L484.85,278.57 L485.43,278.85 L486.01,279.13 L486.59,279.39 L487.18,279.65 L487.76,279.90 L488.34,280.13 L488.92,280.34 L489.51,280.54 L490.09,280.72 L490.67,280.88 L491.25,281.01 L491.83,281.14 L492.42,281.26 L493.00,281.37 L493.58,281.49 L494.16,281.60 L494.75,281.70 L495.33,281.80 L495.91,281.90 L496.49,281.99 L497.07,282.07 L497.66,282.15 L498.24,282.22 L498.82,282.29 L499.40,282.34 L499.99,282.40 L500.57,282.44 L501.15,282.47 L501.73,282.50 L502.31,282.52 L502.90,282.55 L503.48,282.57 L504.06,282.59 L504.64,282.61 L505.23,282.63 L505.81,282.65 L506.39,282.67 L506.97,282.68 L507.55,282.70 L508.14,282.71 L508.72,282.73 L509.30,282.74 L509.88,282.75 L510.47,282.76 L511.05,282.77 L511.63,282.78 L512.21,282.79 L512.79,282.79 L513.38,282.80 L513.96,282.80 L514.54,282.80 L515.12,282.80 L515.70,282.80 L516.29,282.80 L516.87,282.80 L517.45,282.80 L518.03,282.80 L518.62,282.80 L519.20,282.80 L519.78,282.80 L520.36,282.80 L520.94,282.80 L521.53,282.80 L522.11,282.80 L522.69,282.80 L523.27,282.80 L523.86,282.80 L524.44,282.80 L525.02,282.80 L525.60,282.79 L526.18,282.79 L526.77,282.78 L527.35,282.77 L527.93,282.76 L528.51,282.75 L529.10,282.74 L529.68,282.73 L530.26,282.71 L530.84,282.70 L531.42,282.68 L532.01,282.67 L532.59,282.65 L533.17,282.63 L533.75,282.61 L534.34,282.59 L534.92,282.57 L535.50,282.55 L536.08,282.52 L536.66,282.50 L537.25,282.47 L537.83,282.44 L538.41,282.40 L538.99,282.34 L539.58,282.29 L540.16,282.22 L540.74,282.15 L541.32,282.07 L541.90,281.99 L542.49,281.90 L543.07,281.80 L543.65,281.70 L544.23,281.60 L544.81,281.49 L545.40,281.37 L545.98,281.26 L546.56,281.14 L547.14,281.01 L547.73,280.88 L548.31,280.72 L548.89,280.54 L549.47,280.34 L550.05,280.13 L550.64,279.90 L551.22,279.65 L551.80,279.39 L552.38,279.13 L552.97,278.85 L553.55,278.57 L554.13,278.28 L554.71,277.99 L555.29,277.70 L555.88,277.38 L556.46,277.05 L557.04,276.69 L557.62,276.31 L558.21,275.93 L558.79,275.53 L559.37,275.13 L559.95,274.72 L560.53,274.32 L561.12,273.92 L561.70,273.53 L562.28,273.13 L562.86,272.70 L563.45,272.27 L564.03,271.83 L564.61,271.41 L565.19,271.00 L565.77,270.62 L566.36,270.28 L566.94,269.98 L567.52,269.72 L568.10,269.49 L568.69,269.27 L569.27,269.07 L569.85,268.88 L570.43,268.69 L571.01,268.50 L571.60,268.30 L572.18,268.50 L572.76,268.69 L573.34,268.88 L573.92,269.07 L574.51,269.27 L575.09,269.49 L575.67,269.72 L576.25,269.98 L576.84,270.28 L577.42,270.62 L578.00,271.00 L578.58,271.41 L579.16,271.83 L579.75,272.27 L580.33,272.70 L580.91,273.13 L581.49,273.53 L582.08,273.92 L582.66,274.32 L583.24,274.72 L583.82,275.13 L584.40,275.53 L584.99,275.93 L585.57,276.31 L586.15,276.69 L586.73,277.05 L587.32,277.38 L587.90,277.70 L588.48,277.99 L589.06,278.28 L589.64,278.57 L590.23,278.85 L590.81,279.13 L591.39,279.39 L591.97,279.65 L592.56,279.90 L593.14,280.13 L593.72,280.34 L594.30,280.54 L594.88,280.72 L595.47,280.88 L596.05,281.01 L596.63,281.14 L597.21,281.26 L597.80,281.37 L598.38,281.49 L598.96,281.60 L599.54,281.70 L600.12,281.80 L600.71,281.90 L601.29,281.99 L601.87,282.07 L602.45,282.15 L603.03,282.22 L603.62,282.29 L604.20,282.34 L604.78,282.40 L605.36,282.44 L605.95,282.47 L606.53,282.50 L607.11,282.52 L607.69,282.55 L608.27,282.57 L608.86,282.59 L609.44,282.61 L610.02,282.63 L610.60,282.65 L611.19,282.67 L611.77,282.68 L612.35,282.70 L612.93,282.71 L613.51,282.73 L614.10,282.74 L614.68,282.75 L615.26,282.76 L615.84,282.77 L616.43,282.78 L617.01,282.79 L617.59,282.79 L618.17,282.80 L618.75,282.80 L619.34,282.80 L619.92,282.80 L620.50,282.80 L621.08,282.80 L621.67,282.80 L622.25,282.80 L622.83,282.80 L623.41,282.80 L623.99,282.80 L624.58,282.80 L625.16,282.80 L625.74,282.80 L626.32,282.80 L626.90,282.80 L627.49,282.80 L628.07,282.80 L628.65,282.80 L629.23,282.80 L629.82,282.80 L630.40,282.79 L630.98,282.79 L631.56,282.78 L632.14,282.77 L632.73,282.76 L633.31,282.75 L633.89,282.74 L634.47,282.73 L635.06,282.71 L635.64,282.70 L636.22,282.68 L636.80,282.67 L637.38,282.65 L637.97,282.63 L638.55,282.61 L639.13,282.59 L639.71,282.57 L640.30,282.55 L640.88,282.52 L641.46,282.50 L642.04,282.47 L642.62,282.44 L643.21,282.40 L643.79,282.34 L644.37,282.29 L644.95,282.22 L645.54,282.15 L646.12,282.07 L646.70,281.99 L647.28,281.90 L647.86,281.80 L648.45,281.70 L649.03,281.60 L649.61,281.49 L650.19,281.37 L650.78,281.26 L651.36,281.14 L651.94,281.01 L652.52,280.88 L653.10,280.72 L653.69,280.54 L654.27,280.34 L654.85,280.13 L655.43,279.90 L656.01,279.65 L656.60,279.39 L657.18,279.13 L657.76,278.85 L658.34,278.57 L658.93,278.28 L659.51,277.99 L660.09,277.70 L660.67,277.38 L661.25,277.05 L661.84,276.69 L662.42,276.31 L663.00,275.93 L663.58,275.53 L664.17,275.13 L664.75,274.72 L665.33,274.32 L665.91,273.92 L666.49,273.53 L667.08,273.13 L667.66,272.70 L668.24,272.27 L668.82,271.83 L669.41,271.41 L669.99,271.00 L670.57,270.62 L671.15,270.28 L671.73,269.98 L672.32,269.72 L672.90,269.49 L673.48,269.27 L674.06,269.07 L674.65,268.88 L675.23,268.69 L675.81,268.50 L676.39,268.30" fill="none" stroke="#00a665" stroke-width="2.3"/>
</g>
<text x="599.60" y="22.30" font-size="11.3" fill="#2aa56a">Singlet GS</text>
<text x="601.00" y="80.80" font-size="11.3" fill="#4576bd">Triplet GS</text>
<path d="M528.50,10.40 L528.50,23.50 M527.30,10.40 L529.70,10.40 M527.30,23.50 L529.70,23.50" stroke="#1a1a1a" stroke-width="0.8"/>
<path d="M528.50,12.30 L527.06,14.80 L524.17,14.80 L525.61,17.30 L524.17,19.80 L527.06,19.80 L528.50,22.30 L529.94,19.80 L532.83,19.80 L531.39,17.30 L532.83,14.80 L529.94,14.80 Z" fill="#ec5516" stroke="#1a1a1a" stroke-width="1.15" stroke-linejoin="miter"/>
<path d="M580.60,61.70 L580.60,83.00 M579.40,61.70 L581.80,61.70 M579.40,83.00 L581.80,83.00" stroke="#1a1a1a" stroke-width="0.8"/>
<path d="M580.60,67.20 L579.16,69.70 L576.27,69.70 L577.71,72.20 L576.27,74.70 L579.16,74.70 L580.60,77.20 L582.04,74.70 L584.93,74.70 L583.49,72.20 L584.93,69.70 L582.04,69.70 Z" fill="#ec5516" stroke="#1a1a1a" stroke-width="1.15" stroke-linejoin="miter"/>
<path d="M633.30,29.20 L633.30,43.40 M632.10,29.20 L634.50,29.20 M632.10,43.40 L634.50,43.40" stroke="#1a1a1a" stroke-width="0.8"/>
<path d="M633.30,32.20 L631.86,34.70 L628.97,34.70 L630.41,37.20 L628.97,39.70 L631.86,39.70 L633.30,42.20 L634.74,39.70 L637.63,39.70 L636.19,37.20 L637.63,34.70 L634.74,34.70 Z" fill="#ec5516" stroke="#1a1a1a" stroke-width="1.15" stroke-linejoin="miter"/>
<path d="M528.20,177.20 L526.76,179.70 L523.87,179.70 L525.31,182.20 L523.87,184.70 L526.76,184.70 L528.20,187.20 L529.64,184.70 L532.53,184.70 L531.09,182.20 L532.53,179.70 L529.64,179.70 Z" fill="#ec5516" stroke="#1a1a1a" stroke-width="1.15" stroke-linejoin="miter"/>
<path d="M580.60,108.80 L580.60,153.80 M579.40,108.80 L581.80,108.80 M579.40,153.80 L581.80,153.80" stroke="#1a1a1a" stroke-width="0.8"/>
<path d="M580.60,131.50 L579.16,134.00 L576.27,134.00 L577.71,136.50 L576.27,139.00 L579.16,139.00 L580.60,141.50 L582.04,139.00 L584.93,139.00 L583.49,136.50 L584.93,134.00 L582.04,134.00 Z" fill="#ec5516" stroke="#1a1a1a" stroke-width="1.15" stroke-linejoin="miter"/>
<path d="M633.20,173.50 L631.76,176.00 L628.87,176.00 L630.31,178.50 L628.87,181.00 L631.76,181.00 L633.20,183.50 L634.64,181.00 L637.53,181.00 L636.09,178.50 L637.53,176.00 L634.64,176.00 Z" fill="#ec5516" stroke="#1a1a1a" stroke-width="1.15" stroke-linejoin="miter"/>
<path d="M528.40,267.10 L526.96,269.60 L524.07,269.60 L525.51,272.10 L524.07,274.60 L526.96,274.60 L528.40,277.10 L529.84,274.60 L532.73,274.60 L531.29,272.10 L532.73,269.60 L529.84,269.60 Z" fill="#ec5516" stroke="#1a1a1a" stroke-width="1.15" stroke-linejoin="miter"/>
<path d="M580.70,268.50 L579.26,271.00 L576.37,271.00 L577.81,273.50 L576.37,276.00 L579.26,276.00 L580.70,278.50 L582.14,276.00 L585.03,276.00 L583.59,273.50 L585.03,271.00 L582.14,271.00 Z" fill="#ec5516" stroke="#1a1a1a" stroke-width="1.15" stroke-linejoin="miter"/>
<path d="M633.20,275.20 L631.76,277.70 L628.87,277.70 L630.31,280.20 L628.87,282.70 L631.76,282.70 L633.20,285.20 L634.64,282.70 L637.53,282.70 L636.09,280.20 L637.53,277.70 L634.64,277.70 Z" fill="#ec5516" stroke="#1a1a1a" stroke-width="1.15" stroke-linejoin="miter"/>
</svg></div>
<script>
var P=[[53,42,135],[54,48,147],[54,55,160],[53,61,173],[50,67,186],[44,74,199],[32,83,212],[15,92,221],[3,99,225],[2,104,225],[4,109,224],[8,113,222],[13,117,220],[16,121,218],[18,125,216],[20,129,214],[20,133,212],[19,137,211],[16,142,210],[12,147,210],[9,152,209],[7,156,207],[6,160,205],[6,164,202],[6,167,198],[7,169,194],[10,172,190],[15,174,185],[21,177,180],[29,179,175],[37,181,169],[46,183,164],[56,185,158],[66,187,152],[77,188,146],[89,189,140],[101,190,134],[113,191,128],[124,191,123],[135,191,119],[146,191,115],[156,191,111],[165,190,107],[174,190,103],[183,189,100],[192,188,96],[200,188,93],[209,187,89],[217,186,86],[225,185,82],[233,185,78],[241,185,74],[248,187,68],[253,190,61],[255,195,55],[254,200,50],[252,206,46],[250,211,42],[247,216,38],[245,222,33],[245,228,29],[245,235,24],[246,243,19],[249,251,14]];
function draw(id,b){var c=document.getElementById(id),x=c.getContext('2d'),W=c.width,H=c.height,im=x.createImageData(W,H),r=atob(b),d=im.data;for(var i=0;i<W*H;i++){var v=r.charCodeAt(2*i)/255*63,k=Math.min(62,Math.floor(v)),f=v-k;for(var j=0;j<3;j++)d[4*i+j]=Math.round(P[k][j]*(1-f)+P[k+1][j]*f);d[4*i+3]=r.charCodeAt(2*i+1);}x.putImageData(im,0,0);}
draw("cmc","KwArACsAKwArACsAKwArACsAKwArACsAKwArACsAKwArACsAKwArACsAKwArACsALAAsACwALQAtAC0ALgAvADAAMAAxADIANAA1ADYAOAA5ADsAPQA+AEAAQgBEAEcASQBLAE0AUABSAFUAWABbAF8AYwBoAG0AcgB3AHwAgQCDAIUAhACCAH4AeQB0AG4AaQBkAGAAXABZAFYAUwBRAE4ATABJAEcARQBDAEEAPwA9ADsAOgA4ADcANQA0ADMAMgAxADAALwAuAC4ALQAtACwALAAsACwAKwArACsAKwArACsAKwArACsAKwArACsAKwArACsAKwArACsAKwArACsAKwArACsAKwArACsAKwArACsAKwArACsAKwArACsAKwArACsAKwArACsAKwArACsAKwArACsAKwAsACwALAAtAC0ALQAuAC8AMAAxADIAMwA0ADUANwA4ADoAOwA9AD8AQQBDAEUASABKAEwATwBRAFQAVwBaD141YlZndGyOcaV3t3zFgNCD1oXZhNeB0n3JeLxzqm2VaH1jYF8/WxtYAFUAUgBPAE0ASwBIAEYARABCAEAAPgA8ADoAOQA3ADYANAAzADIAMQAwAC8ALgAuAC0ALQAsACwALAArACsAKwArACsAKwArACsAKwArACsAKwArACsAKwArACsAKwArACsAKwArACsAKwArACsAKwArACsAKwArACsAKwArACsAKwArACsAKwArACsAKwArACsAKwArACsAKwArACsAKwArACwALAAsACwALQAtAC4ALwAwADEAMgAzADQANQA3ADkAOgA8AD4AQABCAEQARgBIAEsTTUxQglOzVeFZ/1z/YP9l/2r/cP92/3v/gP+D/4T/hP+B/33/eP9y/2z/Z/9i/17/Wv9W7lPBUZFOXUwlSQBHAEUAQgBAAD4APQA7ADkANwA2ADUAMwAyADEAMAAvAC4ALgAtAC0ALAAsACwAKwArACsAKwArACsAKwArACsAKwArACsAKwArACsAKwArACsAKwArACsAKwArACsAKwArACsAKwArACsAKwArACsAKwArACsAKwArACsAKwArACsAKwArACsAKwArACsAKwArACsAKwArACsALAAsACwALAAtAC4ALgAvADAAMQAyADMANAA2ADcAOQA7ADwAPgBAAEJHRYxHzUn/TP9O/1H/VP9X/1v/X/9k/2n/b/91/3r/f/+D/4T/g/+A/3z/dv9w/2v/Zf9g/1z/WP9V/1L/T/9M/0r/SOBFoENcQRQ/AD0AOwA5ADgANgA1ADMAMgAxADAALwAuAC4ALQAtACwALAAsACsAKwArACsAKwArACsAKwArACsAKwArACsAKwArACsAKwArACsAKwArACsAKwArACsAKwArACsAKwArACsAKwArACsAKwArACsAKwArACsAKwArACsAKwArACsAKwArACsAKwArACsAKwArACsAKwAsACwALAAsAC0ALgAuAC8AMAAxADIAMwA0ADYANwA5ADtUPKU+8kD/Q/9F/0f/Sv9M/0//Uv9V/1n/Xf9i/2f/bf9z/3n/fv+C/4P/gv9//3v/df9v/2n/Y/9e/1r/Vv9T/1D/Tf9L/0j/Rv9D/0H/P/89vDtsORk4ADYANQAzADIAMQAwAC8ALgAuAC0ALQAsACwALAArACsAKwArACsAKwArACsAKwArACsAKwArACsAKwArACsAKwArACsAKwArACsAKwArACsAKwArACsAKwArACsAKwArACsAKwArACsAKwArACsAKwArACsAKwArACsAKwArACsAKwArACsAKwArACsAKwArACwALAAsACwALQAuAC4ALwAwADEAMgAzADQ6NpY37zn/O/88/z7/Qf9D/0X/SP9K/03/UP9T/1f/W/9g/2X/a/9x/3j/ff+B/4L/gv9+/3n/c/9t/2f/Yf9c/1j/VP9R/07/S/9J/0b/RP9B/z//Pf87/zn/OP82sTVWMwAyADEAMAAvAC4ALgAtAC0ALAAsACwAKwArACsAKwArACsAKwArACsAKwArACsAKwArACsAKwArACsAKwArACsAKwArACsAKwArACsAKwArACsAKwArACsAKwArACsAKwArACsAKwArACsAKwArACsAKwArACsAKwArACsAKwArACsAKwArACsAKwArACsAKwAsACwALAAtAC0ALgAvAC8AMGAxxTL/NP81/zf/OP86/zz/Pv9B/0P/Rv9I/0v/Tv9R/1X/Wf9d/2P/af9w/3b/fP+A/4H/gP99/3j/cf9r/2X/X/9a/1b/Uv9P/0z/Sf9G/0T/Qf8//z3/O/85/zf/Nv80/zP/MuMxfzAYLwAuAC0ALQAsACwALAAsACsAKwArACsAKwArACsAKwArACsAKwArACsAKwArACsAKwArACsAKwArACsAKwArACsAKwArACsAKwArACsAKwArACsAKwArACsAKwArACsAKwArACsAKwArACsAKwArACsAKwArACsAKwArACsAKwArACsAKwArACsAKwArACwALAAsACwALQQtdC7gL/8w/zH/Mv8z/zX/Nv84/zr/PP8+/0H/Q/9G/0n/TP9P/1L/Vv9b/2D/Z/9t/3T/ev9+/4D/f/97/3b/b/9p/2L/Xf9Y/1P/UP9M/0n/R/9E/0H/P/89/zr/OP83/zX/M/8y/zH/MP8v/y7/LZUtJiwALAAsACwAKwArACsAKwArACsAKwArACsAKwArACsAKwArACsAKwArACsAKwArACsAKwArACsAKwArACsAKwArACsAKwArACsAKwArACsAKwArACsAKwArACsAKwArACsAKwArACsAKwArACsAKwArACsAKwArACsAKwArACsAKwArACsAKwArACsAKwArACt0LOgs/yz/Lf8u/y//MP8x/zL/NP81/zf/Of88/z7/Qf9D/0b/Sf9M/1D/VP9Y/17/ZP9r/3L/eP99/3//fv96/3T/bf9m/2D/Wv9V/1H/Tf9K/0f/RP9B/z//PP86/zj/Nv80/zP/Mf8w/y//Lv8t/y3/LP8s/yuXKyArACsAKwArACsAKwArACsAKwArACsAKwArACsAKwArACsAKwArACsAKwArACsAKwArACsAKwArACsAKwArACsAKwArACsAKwArACsAKwArACsAKwArACsAKwArACsAKwArACsAKwArACsAKwArACsAKwArACsAKwArACsAKwArACsAKwArACsAK2Aq3Cr/Kv8r/yv/K/8s/y3/Lv8v/zD/Mf8z/zX/N/85/zv/Pv9A/0P/Rv9J/03/Uf9W/1v/Yf9o/3D/dv97/33/fP94/3L/a/9j/13/V/9S/07/S/9H/0T/Qf8//zz/Ov83/zX/M/8y/zD/L/8u/y3/LP8r/yv/K/8q/yr/Kv8qhSsHKwArACsAKwArACsAKwArACsAKwArACsAKwArACsAKwArACsAKwArACsAKwArACsAKwArACsAKwArACsAKwArACsAKwArACsAKwArACsAKwArACsAKwArACsAKwArACsAKwArACsAKwArACsAKwArACsAKwArACsAKwArACsAKwArOSq8Kv8q/yn/Kf8p/yn/Kv8q/yv/K/8s/y3/L/8w/zL/NP82/zj/O/8+/0D/Q/9H/0r/Tv9T/1j/Xv9m/23/dP95/3v/ev92/2//aP9g/1r/VP9P/0v/SP9E/0H/Pv88/zn/N/80/zL/Mf8v/y7/Lf8s/yv/Kv8q/yn/Kf8p/yn/Kv8q/yrjKmArACsAKwArACsAKwArACsAKwArACsAKwArACsAKwArACsAKwArACsAKwArACsAKwArACsAKwArACsAKwArACsAKwArACsAKwArACsAKwArACsAKwArACsAKwArACsAKwArACsAKwArACsAKwArACsAKwArACsAKwArACsAKokq/yr/Kf8p/yj/KP8o/yj/KP8o/yn/Kf8q/yv/LP8t/y//Mf8z/zX/OP86/z3/QP9E/0f/S/9Q/1X/W/9j/2r/cv93/3r/eP90/23/Zf9d/1f/Uf9M/0j/Rf9B/z7/O/85/zb/NP8x/zD/Lv8s/yv/Kv8p/yn/KP8o/yj/KP8o/yj/Kf8p/yr/Kv8qsisoKwArACsAKwArACsAKwArACsAKwArACsAKwArACsAKwArACsAKwArACsAKwArACsAKwArACsAKwArACsAKwArACsAKwArACsAKwArACsAKwArACsAKwArACsAKwArACsAKwArACsAKwArACsAKwArACsAKwArQyrSKv8p/yn/KP8o/yf/J/8n/yb/Jv8m/yb/J/8n/yj/Kf8r/yz/Lv8w/zL/Nf83/zr/Pf9B/0T/SP9M/1L/WP9g/2j/b/91/3j/dv9x/2r/Yv9a/1T/Tv9J/0X/Qv8+/zv/OP81/zP/MP8u/y3/K/8q/yn/KP8n/yf/Jv8m/yb/J/8n/yf/KP8o/yn/Kf8q/yr9Km4rACsAKwArACsAKwArACsAKwArACsAKwArACsAKwArACsAKwArACsAKwArACsAKwArACsAKwArACsAKwArACsAKwArACsAKwArACsAKwArACsAKwArACsAKwArACsAKwArACsAKwArACsAKwArACsAKoAq/yr/Kf8p/yj/KP8n/yf/Jv8l/yX/Jf8k/yT/Jf8l/yb/J/8o/yn/K/8t/y//Mf80/zf/Ov89/0H/Rf9J/07/Vf9c/2X/bf9z/3b/dP9v/2f/X/9X/1D/S/9G/0L/Pv87/zj/Nf8y/y//Lf8r/yr/KP8n/yb/Jf8l/yT/JP8l/yX/Jf8m/yb/J/8n/yj/Kf8p/yn/Kv8qrCsWKwArACsAKwArACsAKwArACsAKwArACsAKwArACsAKwArACsAKwArACsAKwArACsAKwArACsAKwArACsAKwArACsAKwArACsAKwArACsAKwArACsAKwArACsAKwArACsAKwArACsAKwArGiq1Kv8p/yn/KP8o/yf/J/8m/yX/Jf8k/yT/I/8j/yL/Iv8j/yP/JP8l/yb/KP8p/yv/Lv8w/zP/N/86/z7/Qf9G/0v/Uf9Z/2H/av9x/3P/cv9s/2T/W/9T/03/R/9D/z//O/84/zT/Mf8v/yz/Kv8o/yb/Jf8k/yP/I/8j/yL/I/8j/yP/JP8l/yX/Jv8n/yf/KP8o/yn/Kf8q/yrjKkkrACsAKwArACsAKwArACsAKwArACsAKwArACsAKwArACsAKwArACsAKwArACsAKwArACsAKwArACsAKwArACsAKwArACsAKwArACsAKwArACsAKwArACsAKwArACsAKwArACsAK0Mq4yr/Kf8p/yj/KP8n/yb/Jv8l/yT/JP8j/yL/Iv8h/yH/IP8g/yH/If8i/yP/JP8m/yj/Kv8t/zD/M/82/zr/Pv9C/0j/Tv9V/17/Z/9u/3H/cP9p/2H/WP9Q/0n/RP8//zv/N/80/zH/Lv8r/yn/J/8l/yP/Iv8h/yH/IP8g/yH/If8h/yL/I/8j/yT/Jf8m/yb/J/8n/yj/Kf8p/yr/Kv8qcysAKwArACsAKwArACsAKwArACsAKwArACsAKwArACsAKwArACsAKwArACsAKwArACsAKwArACsAKwArACsAKwArACsAKwArACsAKwArACsAKwArACsAKwArACsAKwArACplKv8q/yn/Kf8o/yf/J/8m/yX/Jf8k/yP/Iv8i/yH/IP8g/x//H/8e/x7/H/8f/yD/If8j/yX/J/8p/yz/L/8z/zf/O/8//0T/Sv9S/1v/ZP9s/2//bf9n/13/VP9M/0b/QP88/zj/NP8w/y3/Kv8n/yX/I/8i/yD/H/8f/x7/Hv8e/x//H/8g/yH/Iv8i/yP/JP8k/yX/Jv8n/yf/KP8o/yn/Kf8q/yqWKwArACsAKwArACsAKwArACsAKwArACsAKwArACsAKwArACsAKwArACsAKwArACsAKwArACsAKwArACsAKwArACsAKwArACsAKwArACsAKwArACsAKwArACsAKwAqfyr/Kf8p/yj/KP8n/yb/Jv8l/yT/JP8j/yL/If8g/yD/H/8e/x3/Hf8c/xz/HP8d/x3/Hv8f/yH/I/8m/yj/LP8v/zP/N/87/0D/Rv9O/1f/Yf9p/23/a/9k/1r/UP9I/0L/Pf84/zT/MP8t/yn/Jv8k/yL/IP8e/x3/Hf8c/xz/HP8d/x3/Hv8f/x//IP8h/yL/I/8j/yT/Jf8m/yb/J/8o/yj/Kf8p/yr/KrErCCsAKwArACsAKwArACsAKwArACsAKwArACsAKwArACsAKwArACsAKwArACsAKwArACsAKwArACsAKwArACsAKwArACsAKwArACsAKwArACsAKwArACsAKpEq/yn/Kf8o/yj/J/8m/yX/Jf8k/yP/Iv8i/yH/IP8f/x7/Hf8d/xz/G/8b/xr/Gv8a/xr/G/8c/x7/IP8i/yX/KP8r/y//M/84/z3/Q/9K/1P/Xv9m/2r/aP9h/1b/Tf9F/z7/Of80/zD/LP8p/yb/I/8g/x7/Hf8b/xv/Gv8a/xr/Gv8b/xz/HP8d/x7/H/8g/yD/If8i/yP/JP8k/yX/Jv8n/yf/KP8p/yn/Kv8qxCsXKwArACsAKwArACsAKwArACsAKwArACsAKwArACsAKwArACsAKwArACsAKwArACsAKwArACsAKwArACsAKwArACsAKwArACsAKwArACsAKwArACqbKv8p/yn/KP8n/yf/Jv8l/yT/JP8j/yL/If8g/x//H/8e/x3/HP8b/xr/Gv8Z/xj/GP8Y/xj/GP8Z/xr/HP8e/yH/JP8n/yv/L/80/zn/P/9G/0//Wv9k/2j/Zv9d/1P/Sf9B/zv/Nf8x/yz/KP8l/yL/H/8d/xv/Gf8Z/xj/GP8Y/xj/Gf8a/xr/G/8c/x3/Hf8e/x//IP8h/yL/I/8j/yT/Jf8m/yf/J/8o/yn/Kf8q/yrQKx4rACsAKwArACsAKwArACsAKwArACsAKwArACsAKwArACsAKwArACsALAArACsAKwArACsAKwArACsAKwArACsAKwArACsAKwArACsAKwAqnSr/Kf8p/yj/J/8n/yb/Jf8k/yP/I/8i/yH/IP8f/x7/Hf8c/xv/G/8a/xn/GP8X/xf/Fv8W/xX/Fv8W/xf/Gf8b/x3/IP8j/yf/K/8w/zX/O/9C/0z/V/9h/2b/Y/9a/0//Rf89/zf/Mv8t/yj/JP8h/x7/G/8Z/xj/Fv8W/xX/Fv8W/xf/F/8Y/xn/Gv8a/xv/HP8d/x7/H/8g/yD/If8i/yP/JP8l/yb/Jv8n/yj/Kf8p/yr/KtMrHisAKwArACsAKwArACsAKwArACsAKwArACsAKwArACsAKwArACwALAArACsAKwArACsAKwArACsAKwArACsAKwArACsAKwArACsAKpgq/yn/Kf8o/yf/J/8m/yX/JP8j/yL/If8g/x//H/8e/x3/HP8b/xr/Gf8Y/xj/F/8W/xX/Ff8U/xP/E/8U/xT/Ff8X/xn/HP8f/yP/J/8s/zH/N/8+/0j/U/9e/2T/YP9X/0v/Qf85/zP/Lv8p/yT/IP8d/xr/GP8W/xX/FP8T/xP/FP8U/xX/Fv8X/xf/GP8Z/xr/G/8c/xz/Hf8e/x//IP8h/yL/I/8k/yX/Jv8m/yf/KP8p/yn/Kv8qzysWKwArACsAKwArACsAKwArACsAKwArACsAKwArACsAKwAsACwALAAsACsAKwArACsAKwArACsAKwArACsAKwArACsAKwArACqKKv8p/yn/KP8n/yf/Jv8l/yT/I/8i/yH/IP8f/x7/Hf8c/xv/Gv8Z/xn/GP8X/xb/Ff8V/xT/E/8S/xL/Ef8R/xL/Ev8U/xb/GP8b/x//I/8o/y3/M/86/0P/T/9b/2H/Xv9T/0f/Pf81/y//Kv8l/yD/HP8Z/xb/FP8T/xL/Ef8R/xL/Ev8T/xT/FP8V/xb/F/8X/xj/Gf8a/xv/HP8d/x7/H/8g/yH/Iv8j/yT/Jf8l/yb/J/8o/yn/Kf8q/yrDKwYrACsAKwArACsAKwArACsAKwArACsAKwArACsALAAsACwALAAsACwAKwArACsAKwArACsAKwArACsAKwArACsAKwAqdSr/Kf8p/yj/J/8n/yb/Jf8k/yP/Iv8h/yD/H/8e/x3/HP8b/xr/Gf8Y/xf/Fv8V/xX/FP8T/xL/Ev8R/xD/EP8P/w//EP8R/xL/FP8X/xv/H/8k/yn/L/82/z//S/9Y/1//W/9P/0P/Of8x/yv/Jf8g/xz/GP8V/xP/Ef8Q/w//D/8Q/xD/Ef8R/xL/E/8U/xT/Ff8W/xf/GP8Z/xr/G/8c/x3/Hv8f/yD/If8i/yP/JP8k/yX/Jv8n/yj/Kf8p/yr/Kq8rACsAKwArACsAKwArACsAKwArACsAKwArACsALAAsACwALAAsACwALAArACsAKwArACsAKwArACsAKwArACsAKlgq/yn/Kf8o/yf/J/8m/yX/JP8j/yL/If8g/x//Hv8d/xz/G/8a/xn/GP8X/xb/Ff8U/xP/Ev8S/xH/EP8Q/w//Dv8O/w3/Df8O/w//Ef8T/xf/G/8g/yX/K/8y/zv/R/9V/13/WP9L/z7/NP8t/yf/If8c/xj/FP8S/w//Dv8N/w3/Dv8O/w//D/8Q/xH/Ef8S/xP/FP8V/xb/Fv8X/xj/Gf8a/xv/HP8d/x7/H/8h/yL/I/8k/yT/Jf8m/yf/KP8p/yn/Kv8qkysAKwArACsAKwArACsAKwArACsAKwArACwALAAsACwALAAsACwALAArACsAKwArACsAKwArACsAKwArACs0Kvoq/yn/KP8n/yf/Jv8l/yT/I/8i/yH/IP8f/x7/HP8b/xr/Gf8Y/xf/Fv8V/xT/E/8T/xL/Ef8Q/xD/D/8O/w7/Df8N/wz/DP8M/wz/Dv8Q/xP/F/8b/yH/J/8u/zf/Q/9S/1v/Vv9H/zr/MP8p/yP/Hf8Y/xT/EP8O/w3/DP8M/wz/DP8N/w3/Dv8P/w//EP8R/xL/Ev8T/xT/Ff8W/xf/GP8Z/xr/G/8c/x3/Hv8f/yD/If8j/yT/JP8l/yb/J/8o/yn/Kf8q/ypvKwArACsAKwArACsAKwArACsAKwAsACwALAAsAC0ALQAsACwALAAsACsAKwArACsAKwArACsAKwArByrRKv8p/yj/KP8n/yb/Jf8k/yP/Iv8h/yD/H/8d/xz/G/8a/xn/GP8X/xb/Ff8U/xP/Ev8R/xD/EP8P/w7/Dv8N/wz/DP8L/wv/Cv8K/wr/C/8M/w//Ev8X/xz/I/8q/zL/P/9P/1n/U/9D/zb/LP8l/x7/GP8U/xD/Df8L/wr/Cv8K/wv/C/8M/wz/Df8N/w7/D/8P/xD/Ef8S/xP/FP8V/xb/F/8Y/xn/Gv8b/xz/Hf8e/x//IP8h/yP/JP8l/yb/Jv8n/yj/Kf8p/yr/K0QrACsAKwArACsAKwArACsALAAsACwALAAtAC0ALQAtACwALAAsACwAKwArACsAKwArACsAKwAqoCr/Kf8o/yj/J/8m/yX/JP8j/yL/If8g/x//Hf8c/xv/Gv8Z/xj/F/8W/xX/FP8T/xL/Ef8Q/w//Dv8O/w3/DP8M/wv/C/8K/wr/Cf8J/wn/Cf8J/wv/Dv8S/xj/Hv8l/y7/Ov9L/1f/UP8//zH/KP8g/xn/FP8P/wz/Cv8J/wn/Cf8J/wr/Cv8K/wv/DP8M/w3/Df8O/w//EP8R/xH/Ev8T/xT/Ff8W/xf/Gf8a/xv/HP8d/x7/H/8g/yL/I/8k/yX/Jv8n/yf/KP8p/yr/Kt4rESsAKwArACsAKwArACsALAAsACwALQAtAC4ALgAtAC0ALAAsACwAKwArACsAKwArACsAKmgq/yn/Kf8o/yf/Jv8l/yT/I/8i/yH/IP8f/x3/HP8b/xr/Gf8Y/xf/Ff8U/xP/Ev8R/xD/EP8P/w7/Df8M/wz/C/8L/wr/Cv8J/wn/CP8I/wj/B/8H/wj/C/8O/xP/Gf8h/yr/Nf9H/1X/Tf86/y3/I/8b/xX/D/8L/wn/CP8H/wj/CP8I/wn/Cf8J/wr/Cv8L/wz/DP8N/w7/Dv8P/xD/Ef8S/xP/FP8V/xb/F/8Y/xr/G/8c/x3/Hv8f/yH/Iv8j/yT/Jf8m/yf/KP8o/yn/Kv8qpisAKwArACsAKwArACwALAAsAC0ALQAtAC4ALgAuAC0ALQAsACwALAArACsAKwArACsoKvop/yn/KP8n/yb/Jf8k/yP/Iv8h/yD/H/8d/xz/G/8a/xn/GP8W/xX/FP8T/xL/Ef8Q/w//Dv8O/w3/DP8L/wv/Cv8K/wn/Cf8I/wj/B/8H/wf/B/8H/wb/CP8K/w7/FP8c/yX/Mf9D/1P/Sf81/yj/H/8W/xD/C/8I/wf/Bv8H/wf/B/8H/wj/CP8I/wn/Cf8K/wr/C/8M/w3/Df8O/w//EP8R/xL/E/8U/xX/Fv8X/xj/Gv8b/xz/Hf8e/x//If8i/yP/JP8l/yb/J/8o/yn/Kf8q/ypnKwArACsAKwAsACwALAAtAC0ALQAuAC4ALwAuAC4ALQAtACwALAAsACsAKwArACq2Kv8p/yj/J/8n/yb/Jf8j/yL/If8g/x//Hv8c/xv/Gv8Z/xj/Fv8V/xT/E/8S/xH/EP8P/w7/Df8M/wz/C/8K/wr/Cf8J/wj/CP8H/wf/B/8G/wb/Bv8G/wb/Bv8H/wr/D/8X/yD/LP8+/1L/Rv8w/yP/Gf8R/wv/CP8G/wb/Bv8G/wb/Bv8H/wf/B/8I/wj/CP8J/wn/Cv8L/wv/DP8N/w7/D/8Q/xH/Ev8T/xT/Ff8W/xf/GP8a/xv/HP8d/x7/IP8h/yL/I/8k/yX/Jv8n/yj/Kf8p/yr2KyErACsALAAsACwALAAtAC0ALgAuAC8ALwAvAC4ALQAtACwALAAsACsAKwAqair/Kf8p/yj/J/8m/yX/JP8j/yH/IP8f/x7/Hf8b/xr/Gf8Y/xb/Ff8U/xP/Ev8R/xD/D/8O/w3/DP8L/wv/Cv8J/wn/CP8I/wf/B/8H/wb/Bv8G/wb/Bv8F/wX/Bf8F/wb/Cv8R/xr/Jv85/1D/Qf8r/x7/E/8M/wf/Bf8F/wX/Bf8G/wb/Bv8G/wb/B/8H/wf/CP8I/wn/Cf8K/wr/C/8M/w3/Dv8O/w//EP8R/xP/FP8V/xb/F/8Y/xr/G/8c/x3/H/8g/yH/Iv8j/yX/Jv8n/yf/KP8p/yr/KqorACsALAAsACwALQAtAC4ALgAvADAAMAAvAC8ALgAtAC0ALAAsACsAKxYq8Cn/Kf8o/yf/Jv8l/yT/I/8i/yH/H/8e/x3/G/8a/xn/GP8W/xX/FP8T/xL/Ef8Q/w//Dv8N/wz/C/8K/wr/Cf8I/wj/B/8H/wf/Bv8G/wb/Bv8F/wX/Bf8F/wX/Bf8F/wX/Bv8L/xT/If8z/0//PP8l/xf/Df8H/wX/Bf8F/wX/Bf8F/wX/Bf8G/wb/Bv8G/wf/B/8H/wj/CP8J/wn/Cv8L/wz/DP8N/w7/D/8Q/xH/Ev8U/xX/Fv8X/xn/Gv8b/xz/Hv8f/yD/If8j/yT/Jf8m/yf/KP8p/yn/Kv8rWCsALAAsAC0ALQAuAC4ALwAwADAAMQAwAC8ALwAuAC0ALQAsACsAK5gq/yn/KP8n/yb/Jf8k/yP/Iv8h/yD/Hv8d/xz/Gv8Z/xj/F/8V/xT/E/8S/xH/EP8O/w3/Df8M/wv/Cv8J/wn/CP8I/wf/B/8G/wb/Bv8G/wX/Bf8F/wX/Bf8F/wX/Bf8F/wX/Bf8G/w3/Gf8s/03/Nf8e/xD/CP8F/wX/Bf8F/wX/Bf8F/wX/Bf8F/wX/Bv8G/wb/Bv8H/wf/B/8I/wn/Cf8K/wv/C/8M/w3/Dv8P/xD/Ef8T/xT/Ff8W/xf/Gf8a/xv/Hf8e/x//If8i/yP/JP8l/yb/J/8o/yn/Kv8q2isALAAtAC0ALgAuAC8AMAAwADEAMQAxADAALwAvAC4ALQAsACs5K/8q/yn/KP8n/yb/Jf8k/yL/If8g/x//Hf8c/xv/Gf8Y/xf/Ff8U/xP/Ev8R/xD/Dv8N/wz/DP8L/wr/Cf8J/wj/B/8H/wf/Bv8G/wb/Bf8F/wX/Bf8F/wX/Bf8F/wX/Bf8F/wX/Bf8F/wb/EP8k/0v/LP8V/wj/Bf8F/wX/Bf8F/wX/Bf8F/wX/Bf8F/wX/Bf8F/wb/Bv8G/wb/B/8H/wj/CP8J/wr/Cv8L/wz/Df8O/w//EP8R/xP/FP8V/xb/GP8Z/xr/HP8d/x7/IP8h/yL/I/8k/yb/J/8o/yj/Kf8q/yt8LAAtAC4ALgAvADAAMAAxADIAMgAxADEAMAAvAC4ALgAtACyzK/8p/yj/J/8m/yX/JP8j/yL/IP8f/x7/HP8b/xr/GP8X/xb/FP8T/xL/Ef8Q/w7/Df8M/wz/C/8K/wn/CP8I/wf/B/8G/wb/Bv8F/wX/Bf8F/wX/Bf8F/wX/Bf8F/wX/Bf8F/wX/Bf8F/wX/Bv8X/0j/If8J/wX/Bf8F/wX/Bf8F/wX/Bf8F/wX/Bf8F/wX/Bf8F/wX/Bf8G/wb/Bv8H/wf/CP8I/wn/Cv8K/wv/DP8N/w7/D/8Q/xL/E/8U/xX/F/8Y/xn/G/8c/x3/H/8g/yH/I/8k/yX/Jv8n/yj/Kf8q/yv2LBYtAC4ALwAwADAAMQAyADMAMwAyADEAMQAwAC8ALgAtSCz/K/8p/yj/J/8m/yX/I/8i/yH/IP8e/x3/HP8a/xn/F/8W/xX/E/8S/xH/EP8P/w7/DP8M/wv/Cv8J/wj/CP8H/wf/Bv8G/wb/Bf8F/wX/Bf8F/wX/Bf8F/wX/Bf8F/wX/Bf8F/wX/Bf8F/wX/Bf8G/z//Df8F/wX/Bf8F/wX/Bf8F/wX/Bf8F/wX/Bf8F/wX/Bf8F/wX/Bf8F/wb/Bv8G/wf/B/8I/wj/Cf8K/wr/C/8M/w3/Dv8P/xH/Ev8T/xT/Fv8X/xj/Gv8b/xz/Hv8f/yD/Iv8j/yT/Jf8m/yj/Kf8q/yv/LYwuAC8AMAAwADEAMgAzADQANAAzADIAMgAxADAALwAtuiz/K/8p/yj/Jv8l/yT/I/8h/yD/H/8d/xz/G/8Z/xj/Fv8V/xT/Ev8R/xD/D/8O/w3/DP8L/wr/Cf8I/wj/B/8H/wb/Bv8G/wX/Bf8F/wX/Bf8F/wX/Bf8F/wX/Bf8F/wX/Bf8F/wX/Bf8F/wX/Bf8G/wb/Bv8F/wX/Bf8F/wX/Bf8F/wX/Bf8F/wX/Bf8F/wX/Bf8F/wX/Bf8F/wX/Bf8G/wb/Bv8H/wf/CP8J/wr/Cv8L/wz/Df8O/xD/Ef8S/xP/Ff8W/xf/Gf8a/xz/Hf8e/yD/If8i/yT/Jf8m/yf/Kf8q/yz/Lf8uGi8AMAAxADIAMwA0ADUANQA0ADMAMgAxADAAL0Mu/yz/K/8p/yj/Jv8l/yP/Iv8h/x//Hv8d/xv/Gv8Y/xf/Ff8U/xP/Ef8Q/w//Dv8N/wz/C/8K/wn/CP8I/wf/B/8G/wb/Bf8F/wX/Bf8F/wX/Bf8F/wX/Bf8F/wX/Bf8F/wX/Bf8F/wX/Bf8F/wX/Bv8G/0D/B/8G/wX/Bf8F/wX/Bf8F/wX/Bf8F/wX/Bf8F/wX/Bf8F/wX/Bf8F/wX/Bf8F/wb/Bv8G/wf/B/8I/wn/Cv8K/wv/DP8O/w//EP8R/xL/FP8V/xb/GP8Z/xv/HP8e/x//IP8i/yP/JP8m/yf/Kf8q/yz/Lf8viTAAMQAyADMANAA1ADYANgA1ADQAMwAyADEAMK4u/y3/K/8p/yj/Jv8k/yP/If8g/x//Hf8c/xr/Gf8X/xb/Ff8T/xL/Ef8P/w7/Df8M/wv/Cv8J/wj/CP8H/wf/Bv8G/wX/Bf8F/wX/Bf8F/wX/Bf8F/wX/Bf8F/wX/Bf8F/wX/Bf8F/wX/Bf8F/wb/Bv8V/1n/Iv8H/wb/Bf8F/wX/Bf8F/wX/Bf8F/wX/Bf8F/wX/Bf8F/wX/Bf8F/wX/Bf8F/wX/Bv8G/wb/B/8H/wj/Cf8K/wv/DP8N/w7/D/8Q/xH/E/8U/xb/F/8Y/xr/G/8d/x7/H/8h/yL/JP8m/yf/Kf8r/yz/Lv8v9DELMgAzADQANQA2ADcANwA3ADYANQAzADIrMf8v/y3/LP8q/yj/Jv8k/yL/If8f/x7/HP8b/xn/GP8X/xX/FP8S/xH/EP8O/w3/DP8L/wr/Cf8I/wj/B/8H/wb/Bv8F/wX/Bf8F/wX/Bf8F/wX/Bf8F/wX/Bf8F/wX/Bf8F/wX/Bf8F/wX/Bf8G/wb/Df8n/2H/Mf8T/wf/Bv8F/wX/Bf8F/wX/Bf8F/wX/Bf8F/wX/Bf8F/wX/Bf8F/wX/Bf8F/wX/Bf8G/wb/Bv8H/wj/CP8J/wr/C/8M/w3/Dv8P/xH/Ev8T/xX/Fv8Y/xn/Gv8c/x3/H/8g/yL/JP8l/yf/Kf8r/y3/L/8w/zJyMwA0ADUANgA3ADgAOQA4ADcANgA0ADOOMf8w/y7/LP8q/yj/Jv8k/yL/IP8f/x3/HP8a/xn/F/8W/xT/E/8R/xD/D/8O/w3/C/8K/wn/Cf8I/wf/B/8G/wb/Bf8F/wX/Bf8F/wX/Bf8F/wX/Bf8F/wX/Bf8F/wX/Bf8F/wX/Bf8F/wX/Bv8G/wv/Gv8y/2X/Ov8h/w7/B/8G/wX/Bf8F/wX/Bf8F/wX/Bf8F/wX/Bf8F/wX/Bf8F/wX/Bf8F/wX/Bf8F/wb/Bv8G/wf/CP8I/wn/Cv8L/wz/Df8P/xD/Ef8S/xT/Ff8X/xj/Gv8b/x3/Hv8g/yL/JP8m/yj/Kv8s/y3/L/8x/zPVNAA1ADYAOAA4ADkAOgA5ADgANwA2ADTtMv8x/y//Lf8r/yn/Jv8k/yL/IP8e/xz/G/8Z/xj/Fv8V/xP/Ev8R/w//Dv8N/wz/C/8K/wn/CP8H/wf/Bv8G/wX/Bf8F/wX/Bf8F/wX/Bf8F/wX/Bf8F/wX/Bf8F/wX/Bf8F/wX/Bf8F/wb/Bv8K/xT/Jf85/2f/Qv8r/xj/DP8H/wb/Bf8F/wX/Bf8F/wX/Bf8F/wX/Bf8F/wX/Bf8F/wX/Bf8F/wX/Bf8F/wX/Bv8G/wf/B/8I/wn/Cf8K/wv/Df8O/w//EP8S/xP/FP8W/xf/Gf8a/xz/Hv8f/yH/JP8m/yj/Kv8s/y7/MP8y/zT/NUc2ADgAOQA6ADsAPAA7ADkAOAA3WzX/M/8y/zD/Lv8r/yn/J/8k/yL/IP8e/xz/Gv8Z/xf/Fv8U/xP/Ef8Q/w//Df8M/wv/Cv8J/wj/B/8H/wb/Bv8F/wX/Bf8F/wX/Bf8F/wX/Bf8F/wX/Bf8F/wX/Bf8F/wX/Bf8F/wX/Bf8G/wb/Cf8R/x3/Lf9A/2n/Sv8y/yL/FP8L/wf/Bv8F/wX/Bf8F/wX/Bf8F/wX/Bf8F/wX/Bf8F/wX/Bf8F/wX/Bf8F/wX/Bf8G/wb/B/8H/wj/Cf8K/wv/DP8N/w7/D/8R/xL/FP8V/xf/GP8a/xv/Hf8f/yH/JP8m/yj/K/8t/y//Mf8z/zX/NqI4ADkAOgA7ADwAPQA8ADsAOQA4sjb/Nf8z/zH/Lv8s/yr/J/8l/yL/IP8e/xv/Gv8Y/xb/Ff8T/xL/Ef8P/w7/Df8L/wr/Cf8J/wj/B/8G/wb/Bv8F/wX/Bf8F/wX/Bf8F/wX/Bf8F/wX/Bf8F/wX/Bf8F/wX/Bf8F/wX/Bv8G/wn/D/8Y/yX/NP9H/2v/Uf84/yr/HP8R/wr/B/8G/wX/Bf8F/wX/Bf8F/wX/Bf8F/wX/Bf8F/wX/Bf8F/wX/Bf8F/wX/Bf8F/wb/Bv8H/wj/CP8J/wr/C/8M/w3/D/8Q/xH/E/8U/xb/F/8Z/xv/Hf8f/yL/JP8n/yn/K/8u/zD/Mv80/zb/OPo5CToAPAA9AD4APwA9ADwAOxQ5/zj/Nv80/zL/MP8t/yv/KP8m/yP/IP8e/xv/Gf8X/xb/FP8T/xH/EP8O/w3/DP8L/wr/Cf8I/wf/B/8G/wb/Bf8F/wX/Bf8F/wX/Bf8F/wX/Bf8F/wX/Bf8F/wX/Bf8F/wX/Bf8F/wb/B/8J/w7/Fv8g/yz/Ov9N/23/V/8+/zD/JP8Y/xD/Cv8H/wb/Bf8F/wX/Bf8F/wX/Bf8F/wX/Bf8F/wX/Bf8F/wX/Bf8F/wX/Bf8F/wb/Bv8G/wf/CP8J/wr/C/8M/w3/Dv8P/xH/Ev8U/xX/F/8Z/xv/Hf8g/yL/Jf8n/yr/LP8v/zH/M/81/zf/Of86XDwAPQA+AD8AQAA/AD4APGM7/zn/N/81/zP/Mf8u/yz/Kf8m/yT/If8e/xz/Gf8X/xX/E/8S/xH/D/8O/w3/C/8K/wn/CP8I/wf/Bv8G/wX/Bf8F/wX/Bf8F/wX/Bf8F/wX/Bf8F/wX/Bf8F/wX/Bf8F/wX/Bf8G/wf/Cf8N/xT/Hf8n/zP/P/9T/2//Xf9D/zb/K/8g/xb/D/8K/wf/Bv8F/wX/Bf8F/wX/Bf8F/wX/Bf8F/wX/Bf8F/wX/Bf8F/wX/Bf8F/wX/Bv8G/wf/B/8I/wn/Cv8L/wz/Df8P/xD/Ef8T/xT/Fv8Y/xv/Hf8g/yP/Jv8o/yv/Lv8w/zL/Nf83/zn/Ov88rD0APwBAAEEAQgBBAD8APq48/zv/Of83/zX/Mv8w/y3/Kv8o/yX/Iv8f/xz/Gf8X/xX/E/8R/xD/Dv8N/wz/C/8K/wn/CP8H/wb/Bv8G/wX/Bf8F/wX/Bf8F/wX/Bf8F/wX/Bf8F/wX/Bf8F/wX/Bf8F/wX/Bv8H/wn/Df8T/xr/I/8u/zj/RP9Y/3H/Yf9I/zz/Mf8m/x3/Ff8O/wr/B/8G/wX/Bf8F/wX/Bf8F/wX/Bf8F/wX/Bf8F/wX/Bf8F/wX/Bf8F/wX/Bf8G/wb/B/8I/wj/Cf8K/wz/Df8O/w//Ef8S/xT/Fv8Z/xv/Hv8h/yT/J/8q/yz/L/8y/zT/Nv84/zr/PP8+9z8DQABBAEIAQwBCAEEBQPY+/zz/O/84/zb/NP8x/y//LP8p/yb/I/8g/x3/Gv8X/xT/Ev8R/w//Dv8N/wv/Cv8J/wj/B/8H/wb/Bv8F/wX/Bf8F/wX/Bf8F/wX/Bf8F/wX/Bf8F/wX/Bf8F/wX/Bf8F/wb/B/8J/w3/Ev8Z/yH/Kv80/z3/Sf9d/3T/Zv9O/0H/N/8t/yP/G/8U/w7/Cv8H/wb/Bf8F/wX/Bf8F/wX/Bf8F/wX/Bf8F/wX/Bf8F/wX/Bf8F/wX/Bf8G/wb/B/8H/wj/Cf8K/wv/DP8O/w//EP8S/xT/Fv8Z/xz/H/8i/yX/KP8r/y7/Mf8z/zb/OP86/zz/Pv8//0FKQgBDAEQARQBEAENEQf9A/z7/PP86/zj/Nv8z/zD/Lv8r/yf/JP8h/x7/G/8Y/xX/Ev8Q/w//Df8M/wv/Cv8J/wj/B/8G/wb/Bv8F/wX/Bf8F/wX/Bf8F/wX/Bf8F/wX/Bf8F/wX/Bf8F/wX/Bf8G/wf/Cf8N/xH/GP8f/yf/MP85/0L/Tv9i/3b/af9T/0X/PP8z/yr/If8a/xP/Dv8K/wf/Bv8F/wX/Bf8F/wX/Bf8F/wX/Bf8F/wX/Bf8F/wX/Bf8F/wX/Bf8F/wb/Bv8H/wj/Cf8J/wv/DP8N/w7/EP8S/xT/F/8a/x3/IP8j/yf/Kv8t/zD/Mv81/zf/Ov88/z7/P/9B/0KORABFAEYARwBGAEWDQ/9C/0D/Pv88/zr/OP81/zL/L/8s/yn/Jv8j/x//HP8Z/xX/E/8Q/w7/Df8M/wr/Cf8I/wj/B/8G/wb/Bf8F/wX/Bf8F/wX/Bf8F/wX/Bf8F/wX/Bf8F/wX/Bf8F/wX/Bv8H/wn/Df8R/xf/Hv8l/y3/Nv8//0f/U/9m/3n/bf9Y/0r/Qf85/zD/KP8g/xn/E/8O/wr/CP8G/wX/Bf8F/wX/Bf8F/wX/Bf8F/wX/Bf8F/wX/Bf8F/wX/Bf8F/wb/Bv8H/wf/CP8J/wr/C/8M/w7/D/8S/xX/GP8b/x7/Iv8l/yj/LP8v/zH/NP83/zn/O/8+/z//Qf9D/0TORgBHAEgASQBIAEa/Rf9E/0L/QP8+/zz/Ov83/zT/Mv8v/yv/KP8l/yH/Hv8a/xf/E/8Q/w7/DP8L/wr/Cf8I/wf/B/8G/wb/Bf8F/wX/Bf8F/wX/Bf8F/wX/Bf8F/wX/Bf8F/wX/Bf8F/wb/B/8K/w3/Ef8X/x3/JP8s/zT/PP9E/0z/WP9q/3z/cP9c/0//Rv8+/zb/Lv8m/x//Gf8T/w7/C/8I/wb/Bf8F/wX/Bf8F/wX/Bf8F/wX/Bf8F/wX/Bf8F/wX/Bf8F/wX/Bv8G/wf/CP8J/wr/C/8M/w3/EP8S/xb/Gf8d/yD/JP8n/yr/Lv8x/zT/Nv85/zv/Pv9A/0H/Q/9F/0b/RxFIAEkASgBJAEj3R/9G/0T/Qv9A/z7/PP85/zf/NP8x/y7/K/8n/yP/IP8c/xj/Ff8R/w7/DP8L/wr/Cf8I/wf/Bv8G/wX/Bf8F/wX/Bf8F/wX/Bf8F/wX/Bf8F/wX/Bf8F/wX/Bf8G/wj/Cv8N/xL/F/8d/yP/Kv8y/zr/Qf9I/1D/XP9u/3//c/9h/1P/S/9D/zz/NP8t/yX/H/8Z/xP/D/8L/wj/Bv8F/wX/Bf8F/wX/Bf8F/wX/Bf8F/wX/Bf8F/wX/Bf8F/wX/Bv8G/wf/B/8I/wn/Cv8M/w7/EP8U/xf/G/8f/yL/Jv8q/y3/MP8z/zb/Of87/z7/QP9C/0P/Rf9H/0j/SUlKAEsATABLMkr/Sf9I/0b/RP9D/0H/Pv88/zn/N/80/zH/Lf8q/yb/Iv8e/xr/F/8T/w//DP8K/wn/CP8H/wf/Bv8G/wX/Bf8F/wX/Bf8F/wX/Bf8F/wX/Bf8F/wX/Bf8F/wX/Bv8I/wr/Dv8S/xf/Hf8j/yr/Mf84/z//Rv9N/1X/Yf9x/4P/dv9l/1j/T/9I/0H/Ov8z/yz/Jf8f/xn/FP8P/wv/CP8H/wX/Bf8F/wX/Bf8F/wX/Bf8F/wX/Bf8F/wX/Bf8F/wX/Bf8G/wb/B/8I/wn/Cv8M/w7/Ev8V/xn/Hf8h/yX/Kf8s/zD/M/82/zn/O/8+/0D/Qv9E/0b/R/9J/0r/S31MAE0ATgBNYkz/S/9K/0j/R/9F/0P/Qf8//zz/Of83/zT/MP8t/yn/Jf8h/x3/Gf8V/xH/Df8L/wn/CP8H/wb/Bv8F/wX/Bf8F/wX/Bf8F/wX/Bf8F/wX/Bf8F/wX/Bf8F/wb/CP8L/w//E/8Y/x7/JP8q/zH/N/8+/0X/S/9S/1r/Zf91/4j/ev9p/1z/VP9N/0f/QP85/zP/LP8l/x//Gv8U/xD/DP8J/wf/Bf8F/wX/Bf8F/wX/Bf8F/wX/Bf8F/wX/Bf8F/wX/Bf8G/wb/B/8I/wn/Cv8N/xD/FP8Y/xz/IP8k/yj/LP8v/zP/Nv85/zv/Pv9A/0L/RP9G/0j/Sf9L/0z/Ta1OAE8AUABPjk7/Tf9M/0r/Sf9H/0X/Q/9B/z//PP86/zf/NP8w/y3/Kf8l/yH/HP8Y/xP/D/8M/wn/CP8H/wb/Bv8F/wX/Bf8F/wX/Bf8F/wX/Bf8F/wX/Bf8F/wX/Bf8G/wj/C/8P/xT/Gf8e/yT/Kv8x/zf/Pv9E/0r/UP9X/17/af95/47/fv9u/2H/Wf9S/0z/Rv9A/zn/M/8s/yb/IP8b/xX/Ef8N/wn/B/8F/wX/Bf8F/wX/Bf8F/wX/Bf8F/wX/Bf8F/wX/Bf8G/wb/B/8H/wj/C/8O/xL/F/8b/x//JP8o/yz/L/8z/zb/Of88/z7/Qf9D/0X/R/9I/0r/S/9N/07/T9lQAFAAUgBRtlD/T/9O/0z/S/9K/0j/Rv9E/0L/QP89/zr/N/80/zH/Lf8p/yX/IP8c/xf/Ev8O/wr/CP8H/wb/Bv8F/wX/Bf8F/wX/Bf8F/wX/Bf8F/wX/Bf8F/wX/B/8J/wz/EP8V/xr/IP8m/yv/Mv84/z7/RP9K/1D/Vf9c/2P/bv99/5X/gv9y/2b/Xv9X/1H/TP9G/0D/Of8z/y3/J/8h/xz/F/8S/w3/Cv8H/wX/Bf8F/wX/Bf8F/wX/Bf8F/wX/Bf8F/wX/Bf8F/wb/B/8H/wn/Df8R/xX/Gv8f/yP/KP8s/zD/M/82/zn/PP8//0H/Q/9F/0f/Sf9L/0z/Tf9P/1D/Uf9RBVIAUwBT2lL/Uf9Q/0//Tf9M/0r/Sf9H/0X/Q/9A/z7/O/84/zX/Mf8t/yn/Jf8g/xv/Fv8R/wz/Cf8H/wb/Bf8F/wX/Bf8F/wX/Bf8F/wX/Bf8F/wX/Bf8F/wf/Cv8N/xL/F/8c/yL/J/8t/zP/Of8+/0T/Sv9Q/1X/W/9h/2n/c/+B/53/h/93/2z/Y/9d/1f/Uf9M/0b/QP86/zX/L/8p/yP/Hv8Y/xP/D/8L/wf/Bv8F/wX/Bf8F/wX/Bf8F/wX/Bf8F/wX/Bf8F/wb/Bv8I/wv/EP8V/xr/H/8k/yj/LP8w/zT/N/86/z3/QP9C/0T/Rv9I/0r/S/9N/07/T/9R/1L/Uv9TKVQAVQBV+1T/U/9S/1H/UP9O/03/S/9K/0j/Rv9E/0L/P/88/zn/Nv8y/y//Kv8m/yH/G/8W/xD/C/8H/wb/Bf8F/wX/Bf8F/wX/Bf8F/wX/Bf8F/wX/Bf8H/wr/D/8U/xn/Hv8k/yn/L/81/zr/QP9F/0v/UP9V/1v/Yf9o/3D/ev+H/6b/jf9+/3P/av9j/13/V/9S/0z/R/9B/zz/Nv8x/yv/Jv8g/xr/Ff8Q/wv/CP8G/wX/Bf8F/wX/Bf8F/wX/Bf8F/wX/Bf8F/wb/B/8K/w//FP8a/x//JP8p/y3/Mf81/zj/O/8+/0H/Q/9F/0f/Sf9L/0z/Tv9P/1D/Uv9T/1T/VP9VSlYAWBpX/1b/Vf9U/1P/Uv9R/0//Tv9N/0v/Sf9H/0X/Q/9B/z7/O/84/zT/MP8s/yf/Iv8c/xb/EP8K/wb/Bf8F/wX/Bf8F/wX/Bf8F/wX/Bf8F/wX/B/8L/xD/Fv8b/yH/J/8s/zL/N/88/0H/R/9M/1H/Vv9b/2H/aP9v/3n/g/+O/7D/lf+H/3z/cv9q/2P/Xf9X/1L/Tf9I/0P/Pv85/zP/Lv8o/yP/Hf8X/xL/Df8I/wb/Bf8F/wX/Bf8F/wX/Bf8F/wX/Bf8F/wb/Cf8O/xT/Gv8g/yX/Kv8v/zP/N/86/z3/QP9C/0X/R/9J/0r/TP9O/0//UP9S/1P/VP9V/1b/V/9YZlkAWzJa/1r/Wf9X/1b/Vf9U/1P/Uf9Q/07/TP9L/0n/R/9F/0L/QP89/zr/N/8z/y7/Kf8j/x3/Fv8P/wn/Bf8F/wX/Bf8F/wX/Bf8F/wX/Bf8F/wj/Df8T/xn/H/8l/yr/MP81/zr/P/9E/0j/Tf9S/1b/XP9h/2j/cP95/4T/j/+Z/7r/nv+S/4f/fP9y/2r/Y/9d/1j/U/9O/0r/Rf9A/zz/N/8x/yz/Jv8h/xv/FP8P/wn/Bv8F/wX/Bf8F/wX/Bf8F/wX/Bf8F/wj/Df8U/xv/Iv8o/y3/Mf81/zn/PP8//0L/RP9G/0j/Sv9M/07/T/9R/1L/U/9V/1b/V/9Y/1n/Wv9bflwAYEdf/17/Xf9c/1v/Wf9Y/1f/Vf9U/1L/UP9P/03/S/9J/0f/Rf9D/0D/Pf86/zb/Mf8s/yb/H/8Y/w//CP8F/wX/Bf8F/wX/Bf8F/wX/Bf8J/w//Fv8d/yP/Kf8v/zT/Of8+/0L/R/9L/0//U/9Y/1z/Yv9o/3D/ef+F/5L/nv+o/8X/qv+h/5b/if99/3L/av9j/17/Wf9U/1D/TP9I/0T/P/87/zb/Mf8r/yX/H/8Y/xH/C/8G/wX/Bf8F/wX/Bf8F/wX/Bf8H/w3/Ff8d/yT/K/8w/zX/Of88/z//Qv9E/0b/Sf9L/0z/Tv9Q/1L/U/9V/1b/WP9Z/1r/W/9d/17/X/9fk2AAZVdk/2P/Y/9h/2D/X/9e/1z/W/9Z/1j/Vv9U/1L/UP9O/0z/Sv9I/0b/Q/9B/z7/Ov82/zH/K/8j/xr/EP8H/wX/Bf8F/wX/Bf8F/wX/Cv8S/xv/Iv8p/y//Nf85/z7/Qv9G/0r/Tv9S/1b/Wv9e/2P/af9w/3n/hf+T/6L/r/+5/9D/u/+z/6b/l/+J/33/c/9r/2X/X/9b/1f/U/9P/0v/R/9D/z//O/82/zH/K/8l/x3/Ff8N/wb/Bf8F/wX/Bf8F/wX/Bv8N/xf/If8p/y//Nf85/z3/QP9D/0X/SP9K/0z/Tv9Q/1L/VP9W/1f/Wf9b/1z/Xf9f/2D/Yf9i/2P/ZP9lpGYAa2Rr/2r/af9o/2j/Z/9m/2T/Y/9i/2D/X/9d/1v/Wf9X/1X/Uv9Q/07/S/9I/0b/Q/9A/zz/N/8x/yn/H/8S/wb/Bf8F/wX/Bf8F/w3/GP8i/yr/Mf83/zv/QP9E/0j/S/9P/1P/V/9b/1//Y/9o/2z/c/96/4X/kv+h/7L/wP/L/9r/zf/E/7b/pv+W/4j/ff91/27/af9k/2D/XP9Y/1T/UP9N/0n/Rf9B/z3/OP8z/yz/Jf8b/xH/B/8F/wX/Bf8F/wX/Dv8b/yb/L/82/zv/P/9C/0X/SP9K/03/T/9S/1T/Vv9Y/1r/XP9e/2D/Yf9j/2T/Zf9m/2f/aP9p/2r/av9rsGwAcW1w/3D/cP9v/2//bv9u/23/bP9r/2v/av9o/2f/Zv9k/2L/YP9e/1z/Wf9W/1P/T/9M/0j/RP9A/zv/M/8o/xX/Bf8F/wX/Bf8U/yP/Lv81/zv/QP9E/0n/Tf9S/1b/W/9f/2P/Z/9r/2//cv92/3r/f/+H/5H/nv+u/7//zv/a/+L/3P/S/8T/s/+j/5T/if+B/3v/d/9z/3D/bP9o/2T/YP9c/1f/U/9O/0r/Rf9B/z3/N/8w/yf/Gf8I/wX/Bf8F/w//I/8w/zn/P/9D/0f/S/9O/1L/Vf9Y/1v/Xf9g/2L/ZP9l/2f/aP9p/2r/a/9s/23/bf9u/2//b/9w/3D/cP9xuXEAdHJ0/3T/dP90/3T/dP90/3T/c/9z/3P/c/9y/3L/cv9x/3H/cP9v/2//bv9s/2v/af9m/2P/X/9a/1T/Tf9F/zv/Iv8F/wX/J/84/0D/SP9Q/1f/Xf9j/2f/bP9v/3L/df94/3r/ff9//4L/hf+I/4z/kv+Y/6H/q/+2/8f/1//j/+j/5f/b/8z/u/+u/6T/m/+U/47/if+G/4P/gP99/3v/ef92/3P/cP9t/2n/ZP9f/1n/Uv9K/0P/O/8u/w//Bf8U/zb/Qv9K/1L/WP9e/2L/Zf9o/2r/bP9t/27/b/9w/3H/cf9y/3L/cv9z/3P/c/9z/3T/dP90/3T/dP90/3T/dP90vnQAdXN1/3X/df91/3X/df91/3X/df91/3X/df91/3X/df91/3X/df91/3T/dP90/3T/dP9z/3P/cv9x/2//bP9n/1z/SP8J/zL/S/9c/2b/bP9w/3P/df93/3n/e/98/37/f/+B/4P/hf+I/4v/j/+U/5r/of+q/7P/vf/I/9L/3P/l/+r/5//f/9X/y//A/7b/rP+k/5z/lv+R/4z/if+G/4T/gv+A/37/ff97/3n/eP92/3T/cf9u/2j/YP9R/zz/Bf9B/1f/Zf9r/2//cf9y/3P/c/90/3T/dP90/3T/df91/3X/df91/3X/df91/3X/df91/3X/df91/3X/df91/3X/df91v3UAc3Bz/3P/cv9y/3L/cf9x/3H/cP9w/2//b/9u/23/bP9r/2r/af9n/2X/Y/9h/17/Wv9X/1L/Tv9J/0T/P/82/yb/C/8F/wX/D/8k/zH/Of8//0T/Sv9P/1T/Wv9e/2P/Z/9r/2//cv91/3j/e/9//4L/h/+N/5b/o/+z/8T/1P/f/+X/4f/Y/8n/uP+n/5n/j/+J/4T/gP98/3n/dv9z/3D/bP9o/2T/YP9b/1b/Uf9L/0b/Qf87/zT/Kf8W/wX/Bf8F/x//Mv88/0P/SP9N/1H/Vf9Z/13/YP9i/2X/Z/9o/2r/a/9s/23/bv9v/2//cP9w/3H/cf9x/3L/cv9y/3L/c/9zvHMAbmlu/23/bf9s/2v/a/9q/2n/aP9n/2X/ZP9i/2H/X/9d/1v/Wf9W/1P/Uf9O/0v/SP9F/0L/Pv85/zL/Kf8b/wv/Bf8F/wX/Bf8J/xb/Iv8s/zP/OP89/0H/Rf9J/03/Uv9W/1r/Xv9i/2b/av9u/3P/ef+A/4v/mP+o/7n/yP/T/97/1f/M/77/rf+d/47/g/97/3T/b/9r/2f/Y/9f/1v/V/9T/0//S/9H/0P/Pv86/zX/Lv8l/xr/Df8F/wX/Bf8F/wf/Fv8l/zD/N/88/0H/RP9H/0r/Tf9Q/1P/Vf9Y/1r/XP9e/2D/Yv9k/2X/Zv9n/2j/af9q/2v/bP9s/23/bf9utW4AaF5n/2f/Zv9l/2T/Y/9h/2D/X/9d/1z/Wv9Y/1b/VP9S/1D/Tv9M/0n/R/9E/0L/P/87/zf/Mf8q/yH/F/8L/wX/Bf8F/wX/Bf8F/wj/EP8a/yL/Kv8w/zX/Ov8//0P/R/9K/07/Uv9W/1r/Xv9i/2f/bf91/3//i/+a/6r/uP/C/9X/xP+8/67/n/+P/4L/eP9v/2n/ZP9f/1v/V/9T/0//TP9I/0T/QP88/zf/Mv8s/yX/HP8T/wr/Bf8F/wX/Bf8F/wX/CP8T/x7/KP8v/zX/Ov8+/0H/RP9G/0n/S/9N/0//Uv9U/1b/WP9Z/1v/Xf9e/2D/Yf9i/2T/Zf9m/2b/Z/9oqmkAYk9h/2H/YP9e/13/XP9b/1n/WP9W/1X/U/9R/0//Tv9M/0r/SP9F/0P/QP89/zr/Nv8x/yz/Jf8d/xT/C/8F/wX/Bf8F/wX/Bf8F/wX/B/8N/xT/HP8j/yn/L/80/zn/Pv9C/0b/Sv9O/1L/Vv9b/1//Zf9s/3T/f/+M/5r/p/+w/8r/sv+q/57/kP+D/3f/bv9n/2H/XP9Y/1T/UP9M/0f/Q/8//zv/Nv8x/yv/Jf8e/xf/D/8I/wX/Bf8F/wX/Bf8F/wX/Bf8J/xL/Gv8j/yr/MP81/zn/PP8//0L/Rf9H/0n/S/9N/0//Uf9S/1T/Vv9X/1n/Wv9c/13/Xv9f/2D/Yf9inGMAXT1d/1z/W/9Z/1j/V/9W/1T/U/9R/1D/Tv9N/0v/Sf9H/0X/Qv9A/z3/Ov82/zL/Lf8o/yL/G/8T/wz/Bv8F/wX/Bf8F/wX/Bf8F/wX/Bf8G/wv/Ef8X/x7/JP8q/y//Nf86/z7/Q/9H/0z/UP9V/1n/X/9l/2z/dP9//4v/lv+g/8D/pP+a/47/gv93/27/Z/9g/1v/Vv9R/03/Sf9E/0D/O/82/zH/K/8m/yD/Gf8T/w3/CP8F/wX/Bf8F/wX/Bf8F/wX/Bf8F/wr/Ef8Y/yD/Jv8s/zH/Nf85/zz/P/9C/0T/Rv9I/0r/TP9O/0//Uf9T/1T/Vf9X/1j/Wf9a/1v/XP9diV4AWiZZ/1j/V/9W/1X/U/9S/1H/T/9O/0z/S/9J/0f/Rf9D/0D/Pf86/zf/M/8v/yr/Jf8f/xn/E/8M/wf/Bf8F/wX/Bf8F/wX/Bf8F/wX/Bf8F/wb/Cv8P/xT/Gv8g/yb/K/8x/zb/O/9A/0X/Sv9P/1T/Wf9e/2T/bP90/37/if+S/7X/mv+M/4H/d/9u/2b/YP9a/1X/UP9L/0b/Qv89/zj/Mv8t/yf/Iv8c/xb/EP8L/wf/Bf8F/wX/Bf8F/wX/Bf8F/wX/Bf8F/wb/C/8R/xf/Hv8k/yn/Lv8y/zb/Of89/z//Qv9E/0b/SP9K/0z/Tv9P/1D/Uv9T/1T/Vf9X/1j/WP9Zc1oAVwxW/1X/VP9T/1L/Uf9Q/07/Tf9L/0n/SP9G/0P/Qf8+/zz/OP81/zH/Lf8p/yT/Hv8Z/xP/Df8I/wb/Bf8F/wX/Bf8F/wX/Bf8F/wX/Bf8F/wX/Bv8J/w3/Ev8X/x3/Iv8o/y7/M/85/z7/Q/9I/07/U/9Y/17/ZP9r/3T/f/+K/6r/kf+C/3f/bv9m/2D/Wv9U/0//Sv9F/z//Ov81/y//Kv8k/x7/Gf8T/w7/Cv8H/wX/Bf8F/wX/Bf8F/wX/Bf8F/wX/Bf8F/wb/B/8M/xH/F/8d/yL/J/8s/zD/NP83/zv/Pv9A/0P/Rf9H/0n/S/9M/07/T/9Q/1L/U/9U/1X/Vv9WWFcAVABU61P/Uv9R/1D/Tv9N/0z/Sv9I/0b/RP9C/0D/Pf86/zf/NP8w/yz/KP8j/x7/Gf8T/w7/Cv8H/wb/Bf8F/wX/Bf8F/wX/Bf8F/wX/Bf8F/wX/Bf8G/wj/DP8Q/xX/Gv8g/yX/K/8x/zf/PP9C/0f/Tf9T/1j/Xv9k/2z/d/+E/6H/iv96/2//Zv9g/1r/VP9P/0n/RP8+/zj/M/8t/yf/Iv8c/xf/Ev8N/wn/Bv8F/wX/Bf8F/wX/Bf8F/wX/Bf8F/wX/Bf8F/wb/Bv8J/w3/Ev8X/xz/If8m/yv/L/8z/zb/Of88/z//Qf9E/0b/SP9J/0v/Tf9O/0//UP9S/1P/U/9UOlUAUgBSyVH/UP9P/07/TP9L/0n/R/9F/0P/Qf8//zz/Of82/zP/L/8r/yf/I/8e/xn/FP8P/wv/CP8H/wb/Bv8F/wX/Bf8F/wX/Bf8F/wX/Bf8F/wX/Bf8F/wb/CP8L/w//E/8Y/x7/I/8p/y//Nf87/0H/R/9N/1L/WP9e/2b/cf9//5n/hP90/2n/YP9a/1T/Tv9J/0P/Pf83/zH/K/8l/yD/Gv8V/xD/DP8J/wb/Bf8F/wX/Bf8F/wX/Bf8F/wX/Bf8F/wX/Bf8F/wb/Bv8H/wr/Dv8T/xf/HP8h/yb/Kv8u/zL/Nf84/zv/Pv9A/0P/Rf9H/0n/Sv9M/03/Tv9Q/1H/Uf9SGFMAUQBQok//Tv9N/0v/Sv9I/0f/Rf9D/0D/Pv87/zn/Nf8y/y//K/8n/yP/Hv8a/xX/Ef8N/wn/CP8H/wb/Bv8F/wX/Bf8F/wX/Bf8F/wX/Bf8F/wX/Bf8F/wX/Bv8H/wr/Dv8S/xf/HP8i/yj/Lv80/zv/Qf9H/03/U/9Z/2H/bP96/5H/gP9w/2T/W/9V/0//Sf9D/zz/Nv8w/yr/JP8e/xn/FP8P/wv/CP8G/wX/Bf8F/wX/Bf8F/wX/Bf8F/wX/Bf8F/wX/Bf8G/wb/B/8H/wn/DP8P/xT/GP8d/yH/Jv8q/y7/Mf80/zj/O/89/0D/Qv9E/0b/SP9J/0v/TP9O/0//UO5QAFEATwBOeE3/TP9L/0n/SP9G/0T/Qv9A/z7/O/84/zX/Mv8v/yv/J/8j/x//G/8W/xL/Dv8L/wn/CP8H/wb/Bv8F/wX/Bf8F/wX/Bf8F/wX/Bf8F/wX/Bf8F/wX/Bf8G/wf/Cv8N/xH/Fv8b/yH/J/8t/zT/O/9B/0j/Tv9U/1z/Z/93/4v/fP9s/1//Vv9Q/0r/Q/89/zb/L/8p/yP/Hf8X/xL/Dv8L/wj/Bv8F/wX/Bf8F/wX/Bf8F/wX/Bf8F/wX/Bf8F/wX/Bf8G/wb/B/8I/wj/Cv8N/xH/Ff8Z/x7/Iv8m/yr/Lf8x/zT/N/86/z3/P/9B/0T/Rf9H/0n/Sv9M/03/TsNPAE8ATQBMSkv/Sv9J/0f/Rf9E/0L/QP89/zv/OP81/zL/L/8r/yj/JP8g/xz/GP8U/xD/Df8K/wn/CP8H/wf/Bv8G/wX/Bf8F/wX/Bf8F/wX/Bf8F/wX/Bf8F/wX/Bf8F/wb/B/8J/wz/EP8V/xr/IP8n/y3/NP87/0L/Sf9P/1f/Y/9z/4b/eP9n/1r/Uv9L/0T/Pf82/y//Kf8i/xz/F/8S/w3/Cv8H/wb/Bf8F/wX/Bf8F/wX/Bf8F/wX/Bf8F/wX/Bf8F/wX/Bf8G/wb/B/8I/wn/Cv8M/w//E/8X/xv/H/8j/yb/Kv8u/zH/NP83/zr/PP8//0H/Q/9F/0f/SP9K/0v/TJVNAE4ASwBKGEn/SP9H/0X/Q/9B/z//Pf87/zj/Nf8y/y//LP8o/yX/If8d/xn/Fv8S/w//DP8L/wn/CP8I/wf/Bv8G/wX/Bf8F/wX/Bf8F/wX/Bf8F/wX/Bf8F/wX/Bf8F/wX/Bv8H/wn/DP8Q/xT/Gv8g/yf/Lv81/zz/RP9L/1P/Xv9w/4H/df9j/1b/Tf9G/z//N/8w/yn/Iv8c/xb/Ef8N/wr/B/8G/wX/Bf8F/wX/Bf8F/wX/Bf8F/wX/Bf8F/wX/Bf8F/wX/Bv8G/wf/B/8I/wn/Cv8M/w7/Ef8U/xj/HP8g/yT/J/8r/y7/Mf80/zf/Ov88/z//Qf9D/0X/Rv9I/0n/SmNLAEwASgBJAEfcRv9F/0P/Qf8//z3/O/84/zb/M/8w/y3/Kf8m/yL/H/8b/xf/FP8R/w7/DP8L/wr/Cf8I/wf/Bv8G/wX/Bf8F/wX/Bf8F/wX/Bf8F/wX/Bf8F/wX/Bf8F/wX/Bf8G/wf/CP8L/w//FP8a/yD/J/8v/zf/Pv9G/07/Wv9s/33/cv9f/1H/SP9B/zn/Mf8p/yL/HP8W/xH/DP8J/wf/Bv8F/wX/Bf8F/wX/Bf8F/wX/Bf8F/wX/Bf8F/wX/Bf8F/wX/Bv8G/wf/CP8I/wn/C/8M/w3/EP8T/xb/Gv8e/yH/Jf8o/yz/L/8y/zX/OP86/zz/P/9B/0L/RP9G/0f/SC5JAEoASABHAEaiRP9D/0H/P/89/zv/Of82/zP/Mf8u/yr/J/8k/yD/Hf8Z/xb/E/8Q/w7/Df8L/wr/Cf8I/wf/B/8G/wb/Bf8F/wX/Bf8F/wX/Bf8F/wX/Bf8F/wX/Bf8F/wX/Bf8F/wX/B/8I/wv/D/8U/xr/If8o/zH/Of9B/0n/Vf9o/3r/bv9a/0z/Q/87/zP/K/8j/xz/Fv8Q/wz/Cf8H/wb/Bf8F/wX/Bf8F/wX/Bf8F/wX/Bf8F/wX/Bf8F/wX/Bf8F/wX/Bv8G/wf/CP8J/wr/C/8M/w7/D/8S/xX/GP8c/x//I/8m/yn/Lf8w/zP/Nf84/zr/Pf8//0D/Qv9E/0XsRgBIAEgARgBFAERkQv9B/z//Pf87/zn/N/80/zH/Lv8r/yj/Jf8i/x//G/8Y/xX/Ev8Q/w7/Df8M/wv/Cv8J/wj/B/8G/wb/Bf8F/wX/Bf8F/wX/Bf8F/wX/Bf8F/wX/Bf8F/wX/Bf8F/wX/Bf8G/wj/C/8P/xT/G/8i/yr/M/88/0X/UP9k/3f/a/9V/0j/P/82/y3/JP8d/xb/EP8M/wn/B/8G/wX/Bf8F/wX/Bf8F/wX/Bf8F/wX/Bf8F/wX/Bf8F/wX/Bf8F/wb/Bv8H/wf/CP8J/wr/C/8N/w7/EP8S/xT/F/8a/x7/If8k/yf/K/8u/zD/M/82/zj/O/89/z//QP9C/0OuRQBGAEcARABDAEIjQf8//z3/O/85/zf/Nf8y/y//Lf8q/yf/JP8g/x3/Gv8X/xX/Ev8Q/w//Dv8M/wv/Cv8J/wj/B/8H/wb/Bv8F/wX/Bf8F/wX/Bf8F/wX/Bf8F/wX/Bf8F/wX/Bf8F/wX/Bf8F/wb/CP8L/w//Ff8c/yT/Lf82/0D/S/9g/3X/Z/9Q/0P/Of8w/yf/Hv8X/xD/DP8I/wf/Bv8F/wX/Bf8F/wX/Bf8F/wX/Bf8F/wX/Bf8F/wX/Bf8F/wX/Bf8F/wb/Bv8H/wj/Cf8K/wv/DP8N/w//EP8S/xT/Fv8Z/xz/H/8j/yb/Kf8s/y//Mf80/zb/Of87/z3/P/9A/0JtQwBEAEUAQwBCAEAAP9M9/zz/Ov84/zX/M/8x/y7/K/8o/yX/Iv8f/xz/Gv8X/xT/Ev8R/xD/Dv8N/wz/C/8J/wn/CP8H/wb/Bv8F/wX/Bf8F/wX/Bf8F/wX/Bf8F/wX/Bf8F/wX/Bf8F/wX/Bf8F/wX/Bv8I/wv/D/8V/x3/J/8x/zv/Rv9b/3L/ZP9L/z7/NP8q/yD/GP8R/wz/CP8H/wb/Bf8F/wX/Bf8F/wX/Bf8F/wX/Bf8F/wX/Bf8F/wX/Bf8F/wX/Bf8G/wb/B/8H/wj/Cf8K/wv/Df8O/w//Ef8S/xT/Fv8Z/xv/Hv8h/yT/J/8q/y3/MP8y/zX/N/85/zv/Pf8+/0AnQQBCAEMAQQBAAD8APYk8/zr/OP82/zT/Mv8v/yz/Kv8n/yT/If8e/xz/Gf8X/xX/E/8S/xD/D/8N/wz/C/8K/wn/CP8H/wf/Bv8G/wX/Bf8F/wX/Bf8F/wX/Bf8F/wX/Bf8F/wX/Bf8F/wX/Bf8F/wX/Bf8G/wj/C/8Q/xf/IP8q/zb/Qf9W/3D/X/9G/zn/Lv8j/xn/Ev8M/wj/Bv8G/wX/Bf8F/wX/Bf8F/wX/Bf8F/wX/Bf8F/wX/Bf8F/wX/Bf8F/wX/Bv8G/wb/B/8I/wn/Cv8L/wz/Df8O/xD/Ef8T/xT/Fv8Y/xv/Hv8g/yP/Jv8p/yz/Lv8x/zP/Nf83/zn/O/890j4AQABBAEIAPwA+AD0APDw6/zj/N/81/zL/MP8u/yv/Kf8m/yP/If8e/xv/Gf8X/xX/FP8S/xH/D/8O/w3/DP8L/wr/Cf8I/wf/Bv8G/wb/Bf8F/wX/Bf8F/wX/Bf8F/wX/Bf8F/wX/Bf8F/wX/Bf8F/wX/Bf8F/wb/B/8L/xH/Gf8k/zD/PP9Q/27/Wv9A/zP/J/8c/xP/DP8I/wb/Bv8F/wX/Bf8F/wX/Bf8F/wX/Bf8F/wX/Bf8F/wX/Bf8F/wX/Bf8F/wX/Bv8G/wf/CP8I/wn/Cv8L/w3/Dv8P/xD/Ev8T/xX/Fv8Y/xv/Hf8g/yL/Jf8o/yr/Lf8v/zL/NP82/zj/Ov87hD0APgA/AEAAPgA9ADwAOgA53Df/Nf8z/zH/L/8t/yr/KP8l/yP/IP8e/xv/Gf8X/xb/FP8T/xL/EP8P/w7/DP8L/wr/Cf8I/wf/B/8G/wb/Bf8F/wX/Bf8F/wX/Bf8F/wX/Bf8F/wX/Bf8F/wX/Bf8F/wX/Bf8F/wX/Bv8H/wv/Ev8c/yn/N/9K/2z/VP87/y3/IP8V/w3/CP8G/wb/Bf8F/wX/Bf8F/wX/Bf8F/wX/Bf8F/wX/Bf8F/wX/Bf8F/wX/Bf8F/wb/Bv8H/wf/CP8J/wr/C/8M/w3/Dv8Q/xH/E/8U/xX/F/8Z/xv/Hf8f/yL/JP8n/yr/LP8u/zH/M/81/zf/OP86MzsAPAA9AD4APAA7ADoAOQA3hzb/NP8y/zD/Lv8s/yn/J/8l/yL/IP8e/xz/Gv8Y/xf/Ff8U/xL/Ef8Q/w7/Df8M/wv/Cv8J/wj/B/8H/wb/Bv8F/wX/Bf8F/wX/Bf8F/wX/Bf8F/wX/Bf8F/wX/Bf8F/wX/Bf8F/wX/Bf8G/wf/DP8V/yH/Mf9D/2r/Tv81/yb/GP8O/wj/Bv8G/wX/Bf8F/wX/Bf8F/wX/Bf8F/wX/Bf8F/wX/Bf8F/wX/Bf8F/wX/Bf8G/wb/Bv8H/wj/Cf8J/wr/C/8N/w7/D/8Q/xL/E/8V/xb/GP8Z/xv/Hf8f/yL/JP8m/yn/K/8t/y//Mv8z/zX/N844ADoAOwA8AD0AOwA6ADkANwA2LjX/M/8x/y//Lf8r/yn/J/8k/yL/IP8e/xz/Gv8Z/xf/Fv8U/xP/Ev8Q/w//Dv8N/wv/Cv8J/wn/CP8H/wb/Bv8G/wX/Bf8F/wX/Bf8F/wX/Bf8F/wX/Bf8F/wX/Bf8F/wX/Bf8F/wX/Bf8F/wb/B/8N/xn/Kf89/2j/Rv8v/x3/EP8I/wb/Bv8F/wX/Bf8F/wX/Bf8F/wX/Bf8F/wX/Bf8F/wX/Bf8F/wX/Bf8F/wX/Bv8G/wb/B/8I/wj/Cf8K/wv/DP8N/w//EP8R/xP/FP8V/xf/GP8a/xz/Hf8f/yH/JP8m/yj/Kv8s/y//Mf8y/zT/NnU3ADgAOgA7ADsAOQA4ADcANgA1ADO+Mv8w/y7/LP8q/yj/Jv8k/yL/IP8e/x3/G/8a/xj/F/8V/xT/Ev8R/xD/Dv8N/wz/C/8K/wn/CP8I/wf/Bv8G/wb/Bf8F/wX/Bf8F/wX/Bf8F/wX/Bf8F/wX/Bf8F/wX/Bf8F/wX/Bf8F/wX/Bv8H/w//IP82/2b/Pv8m/xP/Cf8G/wb/Bf8F/wX/Bf8F/wX/Bf8F/wX/Bf8F/wX/Bf8F/wX/Bf8F/wX/Bf8F/wX/Bv8G/wf/B/8I/wn/Cv8L/wz/Df8O/w//Ef8S/xP/Ff8W/xj/Gf8b/xz/Hv8g/yH/JP8m/yj/Kv8s/y7/MP8x/zP/NRg2ADcAOAA5ADoAOAA3ADYANQA0ADJdMf8v/y7/LP8q/yj/Jv8k/yL/IP8f/x3/HP8a/xn/GP8W/xX/E/8S/xH/D/8O/w3/DP8L/wr/Cf8I/wf/B/8G/wb/Bv8F/wX/Bf8F/wX/Bf8F/wX/Bf8F/wX/Bf8F/wX/Bf8F/wX/Bf8F/wX/Bf8G/wf/FP8t/2P/Nv8a/wr/Bv8G/wX/Bf8F/wX/Bf8F/wX/Bf8F/wX/Bf8F/wX/Bf8F/wX/Bf8F/wX/Bf8F/wb/Bv8H/wf/CP8J/wr/Cv8L/w3/Dv8P/xD/Ef8T/xT/Fv8X/xn/Gv8b/x3/Hv8g/yL/JP8l/yf/Kf8r/y3/L/8x/zKkMwA1ADYANwA4ADkANwA2ADUANAAzADIAMOIv/y3/K/8q/yj/Jv8k/yP/If8g/x7/Hf8b/xr/GP8X/xb/FP8T/xH/EP8P/w7/Df8M/wv/Cv8J/wj/B/8H/wb/Bv8G/wX/Bf8F/wX/Bf8F/wX/Bf8F/wX/Bf8F/wX/Bf8F/wX/Bf8F/wX/Bf8F/wb/CP8f/17/K/8M/wb/Bv8F/wX/Bf8F/wX/Bf8F/wX/Bf8F/wX/Bf8F/wX/Bf8F/wX/Bf8F/wX/Bf8G/wb/B/8H/wj/Cf8J/wr/C/8M/w3/D/8Q/xH/Ev8U/xX/F/8Y/xn/G/8c/x7/H/8h/yL/JP8m/yf/Kf8r/y3/Lv8w/zE/MgA0ADUANgA3ADgANgA1ADQAMwAyADEAL3ku/y3/K/8p/yj/Jv8l/yP/Iv8g/x//Hv8c/xv/Gf8Y/xb/Ff8U/xL/Ef8Q/w//Df8M/wv/Cv8J/wn/CP8H/wf/Bv8G/wb/Bf8F/wX/Bf8F/wX/Bf8F/wX/Bf8F/wX/Bf8F/wX/Bf8F/wX/Bf8F/wX/Bv8K/1D/FP8G/wX/Bf8F/wX/Bf8F/wX/Bf8F/wX/Bf8F/wX/Bf8F/wX/Bf8F/wX/Bf8F/wX/Bv8G/wf/B/8I/wj/Cf8K/wv/DP8N/w7/D/8R/xL/E/8V/xb/F/8Z/xr/HP8d/x7/IP8h/yP/JP8m/yf/Kf8r/yz/Lv8vvzAAMgAzADQANQA1ADYANQA0ADMAMgAxADAALw0u8yz/K/8p/yj/Jv8l/yT/Iv8h/yD/Hv8d/xz/Gv8Z/xf/Fv8V/xP/Ev8R/w//Dv8N/wz/C/8K/wn/Cf8I/wf/B/8G/wb/Bv8F/wX/Bf8F/wX/Bf8F/wX/Bf8F/wX/Bf8F/wX/Bf8F/wX/Bf8F/wX/Bf8G/yf/Bv8F/wX/Bf8F/wX/Bf8F/wX/Bf8F/wX/Bf8F/wX/Bf8F/wX/Bf8F/wX/Bf8G/wb/Bv8H/wf/CP8I/wn/Cv8L/wz/Df8O/w//EP8S/xP/FP8W/xf/GP8a/xv/Hf8e/x//If8i/yP/Jf8m/yf/Kf8q/yz/Lf8uUjAAMQAyADMAMwA0ADUANAAzADIAMQAwAC8ALgAtgiz/K/8p/yj/J/8l/yT/I/8i/yD/H/8e/xz/G/8a/xj/F/8W/xT/E/8S/xD/D/8O/w3/DP8L/wr/Cf8J/wj/B/8H/wb/Bv8G/wX/Bf8F/wX/Bf8F/wX/Bf8F/wX/Bf8F/wX/Bf8F/wX/Bf8F/wX/Bf8F/y//Bf8F/wX/Bf8F/wX/Bf8F/wX/Bf8F/wX/Bf8F/wX/Bf8F/wX/Bf8F/wX/Bv8G/wb/B/8H/wj/CP8J/wr/C/8M/w3/Dv8P/xD/Ef8T/xT/Ff8X/xj/Gf8b/xz/Hf8f/yD/If8j/yT/Jf8m/yj/Kf8q/yz/LcYuAC8AMAAxADIAMwAzADQAMwAyADEAMAAwAC8ALgAtDSzvK/8p/yj/J/8m/yX/JP8j/yH/IP8f/x3/HP8b/xn/GP8X/xX/FP8T/xH/EP8P/w7/Df8M/wv/Cv8J/wn/CP8H/wf/Bv8G/wb/Bv8F/wX/Bf8F/wX/Bf8F/wX/Bf8F/wX/Bf8F/wX/Bf8F/wX/Bf8O/0X/GP8F/wX/Bf8F/wX/Bf8F/wX/Bf8F/wX/Bf8F/wX/Bf8F/wX/Bf8F/wb/Bv8G/wf/B/8I/wj/Cf8K/wv/DP8N/w7/D/8Q/xH/Ev8U/xX/Fv8X/xn/Gv8c/x3/Hv8g/yH/Iv8j/yX/Jv8n/yj/Kf8q/yv/LFEtAC4ALwAwADEAMgAyADMAMgAxADAAMAAvAC4ALQAsACx2K/8q/yn/KP8n/yb/JP8j/yL/If8g/x7/Hf8c/xr/Gf8Y/xb/Ff8U/xL/Ef8Q/w//Dv8N/wz/C/8K/wn/Cf8I/wj/B/8H/wb/Bv8G/wX/Bf8F/wX/Bf8F/wX/Bf8F/wX/Bf8F/wX/Bf8F/wX/Cv8e/0r/J/8P/wX/Bf8F/wX/Bf8F/wX/Bf8F/wX/Bf8F/wX/Bf8F/wX/Bv8G/wb/B/8H/wf/CP8J/wn/Cv8L/wz/Df8O/w//EP8R/xL/E/8V/xb/F/8Z/xr/G/8d/x7/H/8g/yL/I/8k/yX/Jv8n/yj/Kf8q/yu5LAAtAC4ALwAvADAAMQAyADIAMQAwADAALwAuAC4ALQAsACsAK9gq/yn/KP8n/yb/Jf8k/yP/Iv8g/x//Hv8d/xv/Gv8Z/xf/Fv8V/xT/Ev8R/xD/D/8O/w3/DP8L/wr/Cv8J/wj/CP8H/wf/Bv8G/wb/Bv8F/wX/Bf8F/wX/Bf8F/wX/Bf8F/wX/Bf8F/wn/Ff8o/0z/Mf8a/wz/Bv8F/wX/Bf8F/wX/Bf8F/wX/Bf8F/wX/Bf8G/wb/Bv8G/wf/B/8I/wj/Cf8J/wr/C/8M/w3/Dv8P/xD/Ef8S/xP/FP8W/xf/GP8a/xv/HP8d/x//IP8h/yP/JP8l/yb/J/8o/yn/Kf8q/ys9LAAtAC0ALgAvAC8AMAAxADEAMAAwAC8ALgAuAC0ALQAsACsAK1gq/yn/Kf8o/yf/Jv8l/yT/I/8h/yD/H/8e/xz/G/8a/xj/F/8W/xX/E/8S/xH/EP8P/w7/Df8M/wv/C/8K/wn/Cf8I/wj/B/8H/wb/Bv8G/wb/Bf8F/wX/Bf8F/wX/Bf8F/wX/Bf8I/xD/Hf8w/07/OP8i/xT/Cv8G/wX/Bf8F/wX/Bf8F/wX/Bf8F/wb/Bv8G/wb/B/8H/wf/CP8I/wn/Cv8K/wv/DP8N/w7/D/8Q/xH/Ev8T/xT/Ff8X/xj/Gf8b/xz/Hf8e/yD/If8i/yP/JP8m/yf/J/8o/yn/Kv8qmSsALAAsAC0ALQAuAC8ALwAwADEAMAAvAC4ALgAtAC0ALAAsACsAKwAqrSr/Kf8o/yf/Jv8l/yT/I/8i/yH/IP8f/x3/HP8b/xn/GP8X/xb/Ff8T/xL/Ef8Q/w//Dv8N/wz/DP8L/wr/Cf8J/wj/CP8H/wf/B/8G/wb/Bv8G/wb/Bf8F/wX/Bf8F/wX/CP8O/xf/JP82/0//Pv8o/xv/EP8J/wb/Bf8F/wX/Bf8F/wb/Bv8G/wb/Bv8H/wf/B/8I/wj/Cf8J/wr/C/8L/wz/Df8O/w//EP8R/xL/E/8U/xX/F/8Y/xn/Gv8c/x3/Hv8f/yH/Iv8j/yT/Jf8m/yf/KP8p/yr/Ku4rFisALAAsAC0ALQAuAC4ALwAvADAALwAuAC4ALQAtACwALAAsACsAKwArJir8Kf8p/yj/J/8m/yX/JP8j/yL/If8g/x7/Hf8c/xv/Gf8Y/xf/Fv8V/xP/Ev8R/xD/D/8O/w3/Df8M/wv/Cv8K/wn/Cf8I/wj/B/8H/wf/Bv8G/wb/Bv8G/wb/Bf8G/wj/Df8U/x3/Kf88/1H/Q/8u/yH/Fv8O/wn/Bv8F/wb/Bv8G/wb/Bv8G/wf/B/8H/wj/CP8I/wn/Cv8K/wv/DP8M/w3/Dv8P/xD/Ef8S/xP/FP8V/xf/GP8Z/xr/G/8d/x7/H/8g/yL/I/8k/yX/Jv8n/yj/Kf8p/yr/KmYrACsALAAsACwALQAtAC4ALgAvAC8ALgAuAC0ALQAsACwALAAsACsAKwArACpvKv8p/yn/KP8n/yb/Jf8k/yP/Iv8h/x//Hv8d/xz/G/8Z/xj/F/8W/xX/FP8S/xH/EP8Q/w//Dv8N/wz/C/8L/wr/Cv8J/wn/CP8I/wf/B/8H/wf/Bv8G/wb/Bv8I/wz/Ev8Z/yP/Lv9B/1L/SP8z/yb/HP8U/w3/Cf8H/wb/Bv8G/wf/B/8H/wf/CP8I/wj/Cf8J/wr/C/8L/wz/Df8N/w7/D/8Q/xH/Ev8T/xT/Ff8X/xj/Gf8a/xv/Hf8e/x//IP8h/yL/JP8l/yb/J/8n/yj/Kf8q/yqvKwArACsAKwAsACwALAAtAC0ALgAuAC8ALgAtAC0ALAAsACwALAArACsAKwArACsAKrIq/yn/KP8o/yf/Jv8l/yT/I/8h/yD/H/8e/x3/HP8a/xn/GP8X/xb/Ff8U/xP/Ev8R/xD/D/8O/w3/Df8M/wv/C/8K/wr/Cf8J/wj/CP8I/wf/B/8H/wf/Cf8M/xH/F/8e/yf/M/9F/1T/S/84/yr/If8Z/xL/Df8K/wj/B/8H/wf/CP8I/wj/Cf8J/wn/Cv8K/wv/DP8M/w3/Dv8P/xD/EP8R/xL/E/8U/xb/F/8Y/xn/Gv8b/xz/Hv8f/yD/If8i/yP/JP8l/yb/J/8o/yn/Kv8q8CsfKwArACsAKwAsACwALAAsAC0ALQAuAC4ALQAtAC0ALAAsACwAKwArACsAKwArACsAKx4q7Cr/Kf8o/yf/Jv8m/yX/JP8i/yH/IP8f/x7/Hf8c/xv/Gf8Y/xf/Fv8V/xT/E/8S/xH/EP8P/w//Dv8N/wz/DP8L/wv/Cv8K/wn/Cf8I/wj/CP8I/wr/DP8Q/xX/HP8j/yz/OP9J/1b/Tv88/y//Jv8e/xf/Ev8N/wr/Cf8I/wj/CP8J/wn/Cv8K/wr/C/8M/wz/Df8O/w7/D/8Q/xH/Ev8T/xT/Ff8W/xf/GP8Z/xr/G/8c/x7/H/8g/yH/Iv8j/yT/Jf8m/yf/KP8p/yn/Kv8qXCsAKwArACsAKwArACwALAAsACwALQAtAC4ALQAtACwALAAsACsAKwArACsAKwArACsAKwAqVCr/Kf8p/yj/J/8m/yX/JP8j/yL/If8g/x//Hv8d/xz/G/8a/xj/F/8W/xX/FP8T/xL/Ef8R/xD/D/8O/w7/Df8M/wz/C/8L/wr/Cv8J/wn/Cv8L/w3/EP8V/xr/IP8o/zD/PP9N/1j/Uf9B/zP/Kv8i/xz/Fv8R/w7/C/8K/wn/Cf8K/wr/C/8L/wz/DP8N/w3/Dv8P/xD/EP8R/xL/E/8U/xX/Fv8X/xj/Gf8a/xv/Hf8e/x//IP8h/yL/I/8k/yX/Jv8n/yj/Kf8p/yr/KpErACsAKwArACsAKwArACsALAAsACwALAAtAC0ALQAsACwALAAsACsAKwArACsAKwArACsAKwArACqDKv8p/yn/KP8n/yb/Jf8k/yP/Iv8h/yD/H/8e/x3/HP8b/xr/Gf8Y/xf/Fv8V/xT/E/8S/xH/EP8Q/w//Dv8O/w3/DP8M/wv/C/8L/wv/DP8O/xH/FP8Z/x//Jf8s/zX/Qf9Q/1r/VP9F/zj/Lv8n/yD/G/8W/xL/D/8N/wv/C/8L/wv/DP8M/w3/Df8O/w//D/8Q/xH/Ev8T/xP/FP8V/xb/F/8Y/xn/Gv8c/x3/Hv8f/yD/If8i/yP/JP8l/yb/J/8o/yj/Kf8q/yq/KwArACsAKwArACsAKwArACsAKwAsACwALAAtAC0ALAAsACwALAArACsAKwArACsAKwArACsAKwArACsAKqoq/yn/Kf8o/yf/Jv8l/yT/I/8i/yH/IP8f/x7/Hf8c/xv/Gv8Z/xj/F/8W/xX/FP8T/xL/Ev8R/xD/EP8P/w7/Dv8N/w3/DP8N/w7/D/8R/xX/Gf8d/yP/Kf8w/zn/Rf9T/1z/V/9J/zz/Mv8r/yX/H/8a/xb/Ev8Q/w7/Df8M/w3/Df8O/w7/D/8P/xD/Ef8R/xL/E/8U/xX/Fv8X/xj/Gf8a/xv/HP8d/x7/H/8g/yH/Iv8j/yT/Jf8m/yf/KP8o/yn/Kv8q5SsfKwArACsAKwArACsAKwArACsAKwAsACwALAAsAC0ALAAsACwAKwArACsAKwArACsAKwArACsAKwArACsAKwYqySr/Kf8o/yj/J/8m/yX/JP8j/yL/If8g/x//Hv8d/xz/G/8a/xn/GP8X/xb/Fv8V/xT/E/8S/xL/Ef8Q/xD/D/8P/w7/Dv8P/xH/E/8V/xn/Hf8i/yf/Lf80/z3/Sf9X/17/Wv9N/0D/N/8v/yn/I/8e/xr/Fv8T/xH/EP8P/w7/Dv8P/w//EP8R/xH/Ev8T/xT/FP8V/xb/F/8Y/xn/Gv8b/xz/Hf8e/x//IP8h/yL/I/8k/yX/Jv8n/yf/KP8p/yr/Kv8rQSsAKwArACsAKwArACsAKwArACsAKwArACwALAAsACwALAAsACsAKwArACsAKwArACsAKwArACsAKwArACsAKwArISrgKv8p/yj/KP8n/yb/Jf8k/yP/Iv8i/yH/IP8f/x7/Hf8c/xv/Gv8Z/xj/F/8W/xX/Ff8U/xP/Ev8S/xH/EP8Q/xD/Ef8S/xT/Fv8Z/x3/If8m/yv/Mf84/0H/Tf9a/2D/XP9R/0X/O/8z/y3/KP8j/x7/Gv8X/xX/E/8R/xD/EP8Q/xH/Ef8S/xP/FP8U/xX/Fv8X/xj/Gf8Z/xr/G/8c/x3/Hv8f/yD/If8i/yP/JP8l/yb/J/8n/yj/Kf8p/yr/KlsrACsAKwArACsAKwArACsAKwArACsAKwArACsALAAsACwALAAsACsAKwArACsAKwArACsAKwArACsAKwArACsAKwArACs0Ku8q/yn/KP8o/yf/Jv8l/yT/JP8j/yL/If8g/x//Hv8d/xz/G/8a/xn/GP8Y/xf/Fv8V/xX/FP8T/xP/Ev8S/xP/FP8V/xf/Gv8d/yH/Jf8q/y//Nf88/0X/Uf9d/2L/X/9V/0n/P/83/zH/LP8n/yL/Hv8b/xj/Fv8U/xP/Ev8S/xL/E/8U/xT/Ff8W/xf/F/8Y/xn/Gv8b/xz/Hf8e/x//IP8g/yH/Iv8j/yT/Jf8m/yf/J/8o/yn/Kf8q/yptKwArACsAKwArACsAKwArACsAKwArACsAKwArACsAKwAsACwALAArACsAKwArACsAKwArACsAKwArACsAKwArACsAKwArACsAK0Aq9yr/Kf8o/yj/J/8m/yX/Jf8k/yP/Iv8h/yD/H/8e/x3/HP8c/xv/Gv8Z/xj/F/8X/xb/Ff8V/xT/FP8V/xb/F/8Z/xv/Hv8h/yX/Kf8u/zP/Of9A/0r/Vf9f/2X/Yv9Y/03/Q/87/zX/MP8r/yb/Iv8f/xz/Gf8Y/xb/Ff8V/xT/Ff8V/xb/F/8X/xj/Gf8a/xr/G/8c/x3/Hv8f/yD/If8i/yP/I/8k/yX/Jv8n/yf/KP8p/yn/Kv8qdysAKwArACsAKwArACsAKwArACsAKwArACsAKwArACsAKwAsACwAKwArACsAKwArACsAKwArACsAKwArACsAKwArACsAKwArACsAKwArQyr2Kv8p/yj/KP8n/yb/Jv8l/yT/I/8i/yH/IP8g/x//Hv8d/xz/G/8b/xr/Gf8Y/xj/F/8X/xf/F/8Y/xn/Gv8c/x//Iv8l/yn/Lf8y/zf/Pf9E/07/WP9i/2f/ZP9c/1H/R/8//zn/M/8v/yr/Jv8j/yD/Hf8b/xn/GP8X/xf/F/8X/xf/GP8Z/xr/Gv8b/xz/Hf8e/x7/H/8g/yH/Iv8j/yT/Jf8l/yb/J/8o/yj/Kf8p/yr/KnkrACsAKwArACsAKwArACsAKwArACsAKwArACsAKwArACsAKwArACwAKwArACsAKwArACsAKwArACsAKwArACsAKwArACsAKwArACsAKwArACs/Ku4q/yn/Kf8o/yf/Jv8m/yX/JP8j/yP/Iv8h/yD/H/8e/x7/Hf8c/xv/Gv8a/xn/Gf8Z/xn/Gv8b/xz/Hv8g/yP/Jv8p/y3/Mf82/zv/Qf9I/1H/XP9l/2n/Z/9f/1X/S/9D/zz/N/8z/y7/Kv8n/yT/If8e/x3/G/8a/xn/Gf8Z/xn/Gv8a/xv/HP8d/x3/Hv8f/yD/If8h/yL/I/8k/yX/Jv8m/yf/KP8o/yn/Kf8q/yp0KwArACsAKwArACsAKwArACsAKwArACsAKwArACsAKwArACsAKwArACsAKwArACsAKwArACsAKwArACsAKwArACsAKwArACsAKwArACsAKwArACsAKzMq3ir/Kf8p/yj/J/8n/yb/Jf8k/yT/I/8i/yH/If8g/x//Hv8d/x3/HP8b/xv/G/8b/xz/Hf8e/x//If8k/yf/Kv8t/zH/Nf85/z7/RP9M/1X/X/9o/2z/af9i/1j/T/9H/0D/O/82/zL/Lv8r/yf/Jf8i/yD/Hv8d/xz/G/8b/xv/G/8c/xz/Hf8e/x//IP8g/yH/Iv8j/yP/JP8l/yb/Jv8n/yj/KP8p/yr/Kv8qZisAKwArACsAKwArACsAKwArACsAKwArACsAKwArACsAKwArACsAKwArACsAKwArACsAKwArACsAKwArACsAKwArACsAKwArACsAKwArACsAKwArACsAKwArHyrGKv8p/yn/KP8o/yf/Jv8m/yX/JP8j/yP/Iv8h/yD/IP8f/x7/Hv8d/x3/Hf8e/x//IP8h/yP/Jf8n/yr/Lf8x/zX/Of89/0L/SP9Q/1n/Yv9q/27/bP9l/1z/Uv9K/0T/P/86/zb/Mv8u/yv/KP8m/yP/Iv8g/x//Hv8d/x3/Hf8e/x7/H/8f/yD/If8i/yL/I/8k/yX/Jf8m/yf/J/8o/yn/Kf8q/yr3KlErACsAKwArACsAKwArACsAKwArACsAKwArACsAKwArACsAKwArACsAKwArACsAKwArACsAKwArACsAKwArACsAKwArACsAKwArACsAKwArACsAKwArACsAKwArACsDKqYq/yn/Kf8o/yj/J/8n/yb/Jf8k/yT/I/8i/yL/If8g/yD/H/8f/x//IP8h/yL/I/8k/yb/Kf8r/y7/Mf81/zj/PP9B/0b/TP9T/1z/Zv9t/3D/bv9o/1//Vv9O/0f/Qv8+/zn/Nv8y/y//LP8p/yf/Jf8j/yL/If8g/yD/H/8f/yD/IP8h/yH/Iv8j/yT/JP8l/yb/Jv8n/yj/KP8p/yn/Kv8q1is0KwArACsAKwArACsAKwArACsAKwArACsAKwArACsAKwArACsAKwArACsAKwArACsAKwArACsAKwArACsAKwArACsAKwArACsAKwArACsAKwArACsAKwArACsAKwArACsAKwAqfir/Kv8p/yn/KP8n/yf/Jv8m/yX/JP8k/yP/Iv8i/yL/If8i/yL/I/8j/yX/Jv8o/yr/LP8v/zL/Nf84/zz/QP9E/0n/UP9X/2D/aP9v/3L/cf9r/2L/Wv9S/0v/Rv9B/z3/Of82/zP/MP8t/yr/KP8m/yX/JP8j/yL/Iv8h/yL/Iv8i/yP/I/8k/yX/Jf8m/yf/J/8o/yj/Kf8p/yr/Kq0rECsAKwArACsAKwArACsAKwArACsAKwArACsAKwArACsAKwArACsAKwArACsAKwArACsAKwArACsAKwArACsAKwArACsAKwArACsAKwArACsAKwArACsAKwArACsAKwArACsAKwArACpPKucq/yn/Kf8o/yj/J/8n/yb/Jf8l/yT/JP8k/yP/JP8k/yT/Jf8m/yj/Kf8r/y3/MP8y/zX/OP88/z//Q/9I/03/U/9b/2P/a/9y/3X/c/9t/2b/Xf9V/07/Sf9E/0D/Pf85/zb/M/8w/y7/LP8q/yj/J/8l/yX/JP8k/yP/JP8k/yT/Jf8l/yb/Jv8n/yj/KP8p/yn/Kv8q/yp9KwArACsAKwArACsAKwArACsAKwArACsAKwArACsAKwArACsAKwArACsAKwArACsAKwArACsAKwArACsAKwArACsAKwArACsAKwArACsAKwArACsAKwArACsAKwArACsAKwArACsAKwArACsAKxgqqyr/Kf8p/yn/KP8o/yf/Jv8m/yb/Jf8l/yX/Jv8m/yf/KP8p/yv/LP8u/zD/M/82/zj/PP8//0L/Rv9L/1D/Vv9e/2b/bv90/3f/df9w/2n/YP9Z/1L/TP9I/0T/QP89/zn/Nv80/zH/L/8t/yv/Kv8o/yf/Jv8m/yb/Jf8l/yb/Jv8m/yf/J/8o/yj/Kf8p/yr/KtcrRSsAKwArACsAKwArACsAKwArACsAKwArACsAKwArACsAKwArACsAKwArACsAKwArACsAKwArACsAKwArACsAKwArACsAKwArACsAKwArACsAKwArACsAKwArACsAKwArACsAKwArACsAKwArACsAKwArACpoKvQq/yn/Kf8o/yj/KP8n/yf/J/8n/yf/KP8p/yr/K/8s/y7/L/8x/zT/Nv85/zz/P/9C/0b/Sv9O/1P/Wv9h/2n/cf92/3n/d/9y/2v/Y/9c/1X/UP9L/0f/Q/9A/z3/Ov83/zT/Mv8w/y7/LP8r/yr/Kf8o/yj/J/8n/yf/J/8n/yj/KP8p/yn/Kv8q/yqTKwUrACsAKwArACsAKwArACsAKwArACsAKwArACsAKwArACsAKwArACsAKwArACsAKwArACsAKwArACsAKwArACsAKwArACsAKwArACsAKwArACsAKwArACsAKwArACsAKwArACsAKwArACsAKwArACsAKwArACsAKx4qpSr/Kv8p/yn/Kf8p/yn/Kf8p/yr/Kv8r/yz/Lf8v/zD/Mv80/zf/Of88/z//Qv9F/0n/Tf9R/1f/Xf9k/2z/c/94/3r/ef91/27/Zv9f/1j/U/9O/0r/Rv9D/0D/Pf86/zf/Nf8z/zH/L/8u/yz/K/8q/yr/Kf8p/yn/Kf8p/yn/Kf8p/yr/Ks0rRysAKwArACsAKwArACsAKwArACsAKwArACsAKwArACsAKwArACsAKwArACsAKwArACsAKwArACsAKwArACsAKwArACsAKwArACsAKwArACsAKwArACsAKwArACsAKwArACsAKwArACsAKwArACsAKwArACsAKwArACsAKwArACpPKs8q/yr/Kv8q/yr/Kv8r/yz/LP8t/y//MP8y/zP/Nf83/zr/PP8//0L/Rf9I/0z/UP9U/1r/YP9n/27/df96/3z/e/93/3H/af9i/1v/Vv9R/03/Sf9G/0P/QP89/zr/OP82/zT/Mv8w/y//Lv8t/yz/K/8r/yr/Kv8q/yr/Kv8q9Cp1KwArACsAKwArACsAKwArACsAKwArACsAKwArACsAKwArACsAKwArACsAKwArACsAKwArACsAKwArACsAKwArACsAKwArACsAKwArACsAKwArACsAKwArACsAKwArACsAKwArACsAKwArACsAKwArACsAKwArACsAKwArACsAKwArACsAKwArbCvlK/8r/yz/LP8t/y7/L/8w/zH/Mv80/zb/OP86/z3/P/9C/0X/SP9L/07/Uv9X/1z/Y/9q/3H/d/98/37/ff95/3P/bP9l/17/Wf9U/1D/TP9J/0b/Q/9A/z3/O/85/zf/Nf8z/zH/MP8v/y7/Lf8s/yz/K/8r/yv/K5ErFisAKwArACsAKwArACsAKwArACsAKwArACsAKwArACsAKwArACsAKwArACsAKwArACsAKwArACsAKwArACsAKwArACsAKwArACsAKwArACsAKwArACsAKwArACsAKwArACsAKwArACsAKwArACsAKwArACsAKwArACsAKwArACsAKwArACsAKwAsACwCLHYt5y3/Lv8v/zD/Mf8y/zP/Nf83/zn/O/89/z//Qv9F/0f/Sv9N/1H/Vf9a/1//Zf9s/3P/ef9+/3//fv97/3X/bv9n/2H/W/9W/1L/T/9L/0j/Rf9D/0D/Pv87/zn/N/81/zT/Mv8x/zD/L/8u/y3/Lf8smCwmLAAsACsAKwArACsAKwArACsAKwArACsAKwArACsAKwArACsAKwArACsAKwArACsAKwArACsAKwArACsAKwArACsAKwArACsAKwArACsAKwArACsAKwArACsAKwArACsAKwArACsAKwArACsAKwArACsAKwArACsAKwArACsAKwArACsAKwAsACwALAAsAC0ALQAuAS9tL9Uw/zL/M/80/zb/N/85/zv/Pf8//0L/RP9H/0r/Tf9Q/1P/WP9c/2L/aP9u/3X/e/9//4H/gP98/3f/cP9q/2P/Xv9Z/1X/Uf9O/0v/SP9F/0P/QP8+/zz/Ov84/zb/Nf8z/zL/Mf8w9C+MLiEuAC0ALQAsACwALAArACsAKwArACsAKwArACsAKwArACsAKwArACsAKwArACsAKwArACsAKwArACsAKwArACsAKwArACsAKwArACsAKwArACsAKwArACsAKwArACsAKwArACsAKwArACsAKwArACsAKwArACsAKwArACsAKwArACsAKwArACsALAAsACwALQAtAC4ALgAvADAAMQAyTzOwNf82/zj/Of87/z3/QP9C/0T/R/9J/0z/T/9S/1b/Wv9f/2T/av9x/3f/fP+A/4L/gf9+/3n/cv9s/2b/YP9b/1f/U/9Q/03/Sv9H/0X/Q/9A/z7/PP86/zj/N/81/zTMMm0xCjAALwAvAC4ALQAtACwALAAsACsAKwArACsAKwArACsAKwArACsAKwArACsAKwArACsAKwArACsAKwArACsAKwArACsAKwArACsAKwArACsAKwArACsAKwArACsAKwArACsAKwArACsAKwArACsAKwArACsAKwArACsAKwArACsAKwArACsAKwArACwALAAsAC0ALQAuAC8ALwAwADEAMgA0ADUANh84dzrMPP89/0D/Qv9E/0b/Sf9L/07/Uf9U/1j/XP9h/2b/bP9y/3j/fv+B/4P/gv9//3r/dP9u/2j/Yv9d/1n/Vf9S/0//TP9K/0f/Rf9C/0D/Pv88/zrlOZE3OjUANAAzADIAMQAwAC8ALgAtAC0ALAAsACwALAArACsAKwArACsAKwArACsAKwArACsAKwArACsAKwArACsAKwArACsAKwArACsAKwArACsAKwArACsAKwArACsAKwArACsAKwArACsAKwArACsAKwArACsAKwArACsAKwArACsAKwArACsAKwArACsAKwAsACwALAAtAC0ALgAvAC8AMAAxADMANAA1ADcAOAA6ADsAPSs/eEHBRP9G/0j/S/9N/1D/U/9W/1r/Xv9j/2j/bv90/3r/f/+C/4T/g/+A/3v/dv9w/2r/ZP9f/1v/V/9U/1H/Tv9M/0n/R/9E/0LXQI4+QzwAOgA5ADcANgA0ADMAMgAxADAALwAuAC0ALQAsACwALAAsACsAKwArACsAKwArACsAKwArACsAKwArACsAKwArACsAKwArACsAKwArACsAKwArACsAKwArACsAKwArACsAKwArACsAKwArACsAKwArACsAKwArACsAKwArACsAKwArACsAKwArACsAKwArACsALAAsACwALQAtAC4ALwAvADAAMQAyADQANQA2ADgAOgA7AD0APwBBAEMARRFIUkqPTMlP/lL/Vf9Y/1z/YP9k/2r/b/91/3v/gP+D/4T/g/+B/3z/d/9x/2v/Zv9h/13/Wf9W/1P/UP9N2UuhSGVGJUQAQgBAAD4APAA6ADgANwA1ADQAMwAyADEAMAAvAC4ALQAtACwALAAsACwAKwArACsAKwArACsAKwArACsAKwArACsAKwArACsAKwArACsAKwArACsAKwArACsAKwArACsAKwArACsAKwArACsAKwArACsAKwArACsAKwArACsAKwArACsAKwArACsAKwArACsAKwAsACwALAAsAC0ALQAuAC4ALwAwADEAMgAzADUANgA4ADkAOwA9AD8AQQBDAEUARwBJAEwATgBRBVM2VmNZjV2zYdVm82v/cf92/3z/gP+D/4T/hP+B/33/eP9y/23/Z/tj3l6+WplXcFREURRPAEwASgBIAEUAQwBBAD8APQA7ADoAOAA2ADUANAAzADEAMAAwAC8ALgAtAC0ALAAsACwALAArACsAKwArACsAKwArACsAKwArACsAKwArACsAKwArACsAKwArACsAKwArACsAKwArACsAKwArACsAKwArACsAKwArACsAKwArACsAKwArACsAKwArACsAKwArACsAKwArACsALAAsACwALAAtAC0ALgAuAC8AMAAxADIAMwA0ADYANwA5ADoAPAA+AEAAQgBEAEYASABKAE0ATwBSAFUAVwBbAF4AYgBnAGwQciZ3OHxGgFCDV4VZhFiCU35JeTxzK24XaQBkAGAAXABYAFUAUwBQAE4ASwBJAEcARABCAEAAPgA9ADsAOQA4ADYANQAzADIAMQAwAC8ALwAuAC0ALQAsACwALAAsACsAKwArACsAKwArACsAKwArACsAKwArACsAKwArACsAKwArACsAKwArACsAKwArACsA");
draw("cmd","uAC4ALgAuAC4ALgAuAC4ALgAuAC4ALgAuAC4ALgAuAC4ALgAuAC4ALgAuAC4ALcAtwC3ALYAtgC1ALQAswCxALAArgCtAKsAqQCmAKQAoQCeAJsAmACVAJEAjgCKAIYAggB+AHkAdQBxAG0AaQBlAGEAXQBaAFcAVABRAE8ATgBNAEwATQBOAE8AUQBTAFYAWQBcAGAAYwBnAGsAcAB0AHgAfACAAIUAiQCMAJAAlACXAJoAnQCgAKMApgCoAKoArACuALAAsQCyALQAtQC1ALYAtwC3ALcAuAC4ALgAuAC4ALgAuAC4ALgAuAC4ALgAuAC4ALgAuAC4ALgAuAC4ALgAuAC4ALgAuAC4ALgAuAC4ALgAuAC4ALgAuAC4ALgAuAC4ALgAuAC4ALgAuAC4ALgAuAC4ALgAtwC3ALcAtgC2ALUAtACzALEAsACuAKwAqgCoAKYAowCgAJ0AmgCXAJMAkACMAIgAhAB/AHsAdwBzAG4AagtmNWJbXnxbmle1VMtS3VDrTvZN/Ez/Tf5O+E/vUeJT0Va8WqNdhmFlZUFpGG0AcQB2AHoAfgCCAIcAiwCOAJIAlgCZAJwAoACiAKUApwCqAKwArgCvALEAsgCzALUAtQC2ALcAtwC3ALgAuAC4ALgAuAC4ALgAuAC4ALgAuAC4ALgAuAC4ALgAuAC4ALgAuAC4ALgAuAC4ALgAuAC4ALgAuAC4ALgAuAC4ALgAuAC4ALgAuAC4ALgAuAC4ALgAuAC4ALgAuAC4ALgAuAC3ALcAtwC2ALYAtQC0ALMAsQCwAK4ArACqAKgApQCiAJ8AnACZAJUAkgCOAIoAhgCCAH44eXF1p3DZbP9o/2T/X/9c/1j/Vf9S/1D/Tv9N/0z/Tf9O/0//Uf9U/1f/W/9e/2L/Zv9r/2/ndLZ4gnxKgQ6FAIkAjQCRAJQAmACbAJ8AogCkAKcAqQCrAK0ArwCxALIAswC0ALUAtgC3ALcAtwC4ALgAuAC4ALgAuAC4ALgAuAC4ALgAuAC4ALgAuAC4ALgAuAC4ALgAuAC4ALgAuAC4ALgAuAC4ALgAuAC4ALgAuAC4ALgAuAC4ALgAuAC4ALgAuAC4ALgAuAC4ALgAuAC4ALgAuAC4ALcAtwC3ALYAtgC1ALQAswCxALAArgCsAKoApwCkAKIAnwCbAJgAlACRI41sibGF8oH/fP94/3P/bv9q/2X/Yf9d/1n/Vv9T/1D/Tv9N/0z/Tf9O/0//Uv9V/1j/XP9g/2T/aP9t/3L/dv97/3//hP+IxYyBkDmTAJcAmgCeAKEApACmAKkAqwCtAK8AsQCyALMAtAC1ALYAtwC3ALcAuAC4ALgAuAC4ALgAuAC4ALgAuAC4ALgAuAC4ALgAuAC4ALgAuAC4ALgAuAC4ALgAuAC4ALgAuAC4ALgAuAC4ALgAuAC4ALgAuAC4ALgAuAC4ALgAuAC4ALgAuAC4ALgAuAC4ALgAuAC4ALgAuAC3ALcAtgC2ALUAtACyALEArwCtAKsAqQCnAKQAoQCeI5t4mMmU/5H/jf+I/4T/gP97/3b/cf9s/2f/Y/9e/1r/Vv9T/1D/Tv9N/0z/Tf9O/1D/Uv9V/1n/Xf9h/2b/a/9w/3X/ef9+/4P/h/+L/4//k/+X4ZqRnT2gAKMApgCoAKsArQCvALEAsgCzALQAtQC2ALcAtwC3ALgAuAC4ALgAuAC4ALgAuAC4ALgAuAC4ALgAuAC4ALgAuAC4ALgAuAC4ALgAuAC4ALgAuAC4ALgAuAC4ALgAuAC4ALgAuAC4ALgAuAC4ALgAuAC4ALgAuAC4ALgAuAC4ALgAuAC4ALgAuAC4ALgAuAC4ALcAtwC2ALYAtQC0ALIAsQCvAK0AqwCpAKddpbqi/5//nP+Z/5X/kf+N/4j/g/9+/3n/dP9v/2r/Zf9g/1v/V/9U/1H/T/9N/0z/Tf9O/1D/U/9W/1r/X/9j/2j/bf9z/3j/ff+C/4f/i/+Q/5T/mP+b/57/of+k1aZ5qRqrAK0ArwCwALIAswC0ALUAtgC3ALcAtwC4ALgAuAC4ALgAuAC4ALgAuAC4ALgAuAC4ALgAuAC4ALgAuAC4ALgAuAC4ALgAuAC4ALgAuAC4ALgAuAC4ALgAuAC4ALgAuAC4ALgAuAC4ALgAuAC4ALgAuAC4ALgAuAC4ALgAuAC4ALgAuAC4ALgAuAC4ALgAtwC3ALYAtgC1ALQAsgCxALAbroOt6Kv/qf+n/6T/of+e/5r/lv+R/43/iP+C/33/d/9y/2z/Z/9i/13/WP9U/1H/T/9N/0z/Tf9O/1D/U/9X/1v/YP9l/2v/cP92/3v/gf+G/4v/kP+U/5n/nP+g/6P/pv+o/6r/rP+uoq87sQCyALMAtAC1ALYAtwC3ALgAuAC4ALgAuAC4ALgAuAC4ALgAuAC4ALgAuAC4ALgAuAC4ALgAuAC4ALgAuAC4ALgAuAC4ALgAuAC4ALgAuAC4ALgAuAC4ALgAuAC4ALgAuAC4ALgAuAC4ALgAuAC4ALgAuAC4ALgAuAC4ALgAuAC4ALgAuAC4ALgAuAC3ALcAtwC2ALUAtSa0lrP/sv+x/7D/rv+s/6n/pv+j/5//m/+W/5L/jP+H/4H/e/91/2//af9k/17/Wf9V/1L/T/9N/0z/Tf9O/1H/VP9Y/13/Yv9o/23/c/95/3//hf+L/5D/lf+a/57/ov+l/6j/q/+t/6//sf+y/7P/tLe0SLUAtgC2ALcAtwC4ALgAuAC4ALgAuAC4ALgAuAC4ALgAuAC4ALgAuAC4ALgAuAC4ALgAuAC4ALgAuAC4ALgAuAC4ALgAuAC4ALgAuAC4ALgAuAC4ALgAuAC4ALgAuAC4ALgAuAC4ALgAuAC4ALgAuAC4ALgAuAC4ALgAuAC4ALgAuAC4ALgAuAC4ALcAtwC4HriWuP+4/7f/t/+2/7X/s/+x/6//rP+p/6X/of+c/5f/kf+L/4X/f/94/3L/bP9m/2D/W/9W/1L/T/9N/0z/Tf9P/1H/Vf9Z/17/ZP9q/3D/dv99/4P/if+P/5X/mv+f/6T/qP+r/67/sf+z/7T/tv+3/7f/t/+4/7i5uEK4ALcAuAC4ALgAuAC4ALgAuAC4ALgAuAC4ALgAuAC4ALgAuAC4ALgAuAC4ALgAuAC4ALgAuAC4ALgAuAC4ALgAuAC4ALgAuAC4ALgAuAC4ALgAuAC4ALgAuAC4ALgAuAC4ALgAuAC4ALgAuAC4ALgAuAC4ALgAuAC4ALgAuAC4ALgAuAC4ALgCuYG6/rv/u/+8/7z/vP+7/7r/uf+3/7X/sv+v/6v/pv+h/5z/lv+Q/4n/g/98/3X/bv9o/2H/XP9X/1P/T/9N/0z/Tf9P/1L/Vv9a/2D/Zv9s/3P/ev+B/4f/jv+U/5r/oP+l/6n/rf+x/7T/tv+4/7r/u/+7/7z/vP+7/7v/uv+5p7kouAC4ALgAuAC4ALgAuAC4ALgAuAC4ALgAuAC4ALgAuAC4ALgAuAC4ALgAuAC4ALgAuAC4ALgAuAC4ALgAuAC4ALgAuAC4ALgAuAC4ALgAuAC4ALgAuAC4ALgAuAC4ALgAuAC4ALgAuAC4ALgAuAC4ALgAuAC4ALgAuAC4ALgAuAC5Wbrdu/+9/77/v//A/8D/wf/A/8D/v/+9/7v/uP+0/7D/rP+n/6H/m/+V/47/h/9//3j/cf9q/2P/Xf9Y/1P/UP9N/0z/Tf9P/1L/Vv9b/2H/aP9v/3b/ff+E/4z/kv+Z/5//pf+q/6//s/+3/7r/vP++/7//wP/B/8H/wP+//77/vf+8/7r/uYG4ALgAuAC4ALgAuAC4ALgAuAC4ALgAuAC4ALgAuAC4ALgAuAC4ALgAuAC4ALgAuAC4ALgAuAC4ALgAuAC4ALgAuAC4ALgAuAC4ALgAuAC4ALgAuAC4ALgAuAC4ALgAuAC4ALgAuAC4ALgAuAC4ALgAuAC4ALgAuAC4ALkeuqm7/7z/vv/A/8L/w//E/8X/xv/G/8X/xP/D/8D/vv+6/7b/sf+s/6b/oP+Z/5L/iv+D/3v/c/9s/2X/Xv9Z/1T/UP9N/0z/Tf9P/1L/V/9d/2P/av9x/3n/gP+I/5D/l/+e/6T/qv+w/7X/uf+9/8D/wv/E/8X/xv/G/8X/xf/D/8L/wP+//73/u/+607lIuAC4ALgAuAC4ALgAuAC4ALgAuAC4ALgAuAC4ALgAuAC4ALgAuAC4ALgAuAC4ALgAuAC4ALgAuAC4ALgAuAC4ALgAuAC4ALgAuAC4ALgAuAC4ALgAuAC4ALgAuAC4ALgAuAC4ALgAuAC4ALgAuAC4ALgAuAC5YrryvP+9/7//wf/D/8X/x//J/8r/yv/L/8r/yf/I/8b/w//A/7v/t/+x/6v/pf+d/5b/jv+G/37/dv9u/2f/YP9a/1T/UP9O/0z/Tf9P/1P/WP9e/2X/bP90/3z/hP+M/5T/m/+i/6n/r/+1/7r/vv/C/8X/x//J/8r/y//L/8r/yf/H/8b/xP/C/8D/vv+8/7v/uY24ALgAuAC4ALgAuAC4ALgAuAC4ALgAuAC4ALgAuAC4ALgAuAC4ALgAuAC4ALgAuAC4ALgAuAC4ALgAuAC4ALgAuAC4ALgAuAC4ALgAuAC4ALgAuAC4ALgAuAC4ALgAuAC4ALgAuAC4ALgAuAC4ALgIup+7/73/vv/A/8L/xP/G/8n/yv/M/87/z//P/8//zv/N/8v/yP/E/8D/u/+2/7D/qf+i/5r/kv+K/4H/ef9x/2n/Yf9b/1X/Uf9O/0z/Tf9Q/1T/Wf9f/2b/bv92/3//h/+Q/5j/oP+n/67/tP+6/7//w//H/8r/zP/O/8//z//P/87/zf/L/8n/x//F/8P/wf+//73/u/+6y7k1uAC4ALgAuAC4ALgAuAC4ALgAuAC4ALgAuAC4ALgAuAC4ALgAuAC4ALgAuAC4ALgAuAC4ALgAuAC4ALgAuAC4ALgAuAC4ALgAuAC4ALgAuAC4ALgAuAC4ALgAuAC4ALgAuAC4ALgAuAC5OLrTvP+9/7//wf/E/8b/yP/K/8z/zv/Q/9H/0v/T/9P/0v/R/8//zP/I/8T/wP+6/7T/rv+n/5//l/+O/4X/fP90/2v/Y/9c/1b/Uf9O/0z/Tf9Q/1T/Wv9h/2n/cf96/4P/i/+U/5z/pP+s/7L/uf++/8P/x//L/87/0P/S/9P/0//S/9H/0P/O/8z/y//I/8b/xP/C/8D/vv+8/7r/uWe4ALgAuAC4ALgAuAC4ALgAuAC4ALgAuAC4ALgAuAC4ALgAuAC4ALgAuAC4ALgAuAC4ALgAuAC4ALgAuAC4ALgAuAC4ALgAuAC4ALgAuAC4ALgAuAC4ALgAuAC4ALgAuAC4ALgAuWG6/7z/vv/A/8L/xf/H/8n/y//N/8//0f/S/9T/1f/V/9b/1f/U/9L/z//M/8n/xP+//7n/s/+s/6T/m/+T/4n/gP93/27/Zf9d/1f/Uf9O/0z/Tf9Q/1X/W/9j/2v/dP99/4f/kP+Z/6H/qf+x/7f/vf/D/8f/y//O/9H/0//V/9X/1v/V/9T/0//R/9D/zv/M/8r/yP/F/8P/wf+//73/u/+5kbgAuAC4ALgAuAC4ALgAuAC4ALgAuAC4ALgAuAC4ALgAuAC4ALgAuAC4ALgAuAC4ALgAuAC4ALgAuAC4ALgAuAC4ALgAuAC4ALgAuAC4ALgAuAC4ALgAuAC4ALgAuAC4ALmCu/+9/7//wf/D/8b/yP/K/8z/zv/Q/9L/0//V/9b/1v/X/9f/1//W/9X/0//Q/83/yf/E/77/uP+x/6n/of+Y/47/hP96/3H/Z/9f/1j/Uv9O/0z/Tf9Q/1b/Xf9l/27/d/+B/4v/lf+e/6f/r/+2/73/wv/H/8z/z//S/9T/1v/X/9f/1//X/9b/1f/U/9L/0f/P/83/y//J/8b/xP/C/7//vf+7/7qzuQ64ALgAuAC4ALgAuAC4ALgAuAC4ALgAuAC4ALgAuAC4ALgAuAC4ALgAuAC4ALgAuAC4ALgAuAC4ALgAuAC4ALgAuAC4ALgAuAC4ALgAuAC4ALgAuAC4ALgAuAC6m7v/vf+//8H/xP/G/8n/y//N/8//0f/T/9T/1f/W/9f/1//Y/9j/2P/Y/9f/1v/U/9H/zf/J/8T/vv+3/6//pv+d/5P/if9+/3T/av9h/1n/Uv9O/0z/Tf9R/1f/Xv9n/3H/e/+G/5D/mv+k/6z/tP+8/8L/yP/M/9D/0//V/9f/2P/Y/9j/2P/X/9f/1v/W/9X/0//S/9D/zv/M/8n/x//F/8L/wP++/7z/us65JLgAuAC4ALgAuAC4ALgAuAC4ALgAuAC4ALgAuAC4ALgAuAC4ALgAuAC4ALgAuAC4ALgAuAC4ALgAuAC4ALgAuAC4ALgAuAC4ALgAuAC4ALgAuAC4ALgAuq27/73/wP/C/8T/x//K/8z/zv/Q/9L/1P/V/9b/1//X/9f/2P/Y/9n/2f/Z/9n/2P/X/9X/0v/O/8n/xP+9/7X/rP+j/5n/jv+D/3j/bf9j/1r/U/9O/0z/Tf9R/1j/YP9q/3T/f/+L/5X/oP+q/7P/u//C/8j/zf/R/9T/1v/Y/9n/2f/Z/9n/2P/Y/9j/1//X/9b/1f/U/9L/0f/P/83/yv/I/8X/w//A/77/vP+64bkzuAC4ALgAuAC4ALgAuAC4ALgAuAC4ALgAuAC4ALgAuAC4ALgAuAC4ALgAuAC4ALgAuAC4ALgAuAC4ALgAuAC4ALgAuAC4ALgAuAC4ALgAuAC4BLq2u/++/8D/wv/F/8j/yv/N/8//0f/T/9T/1f/W/9f/1//Y/9j/2P/Z/9n/2v/a/9v/2//a/9n/1v/T/8//yf/D/7z/s/+p/5//lP+I/3z/cP9l/1z/VP9P/0z/Tf9S/1n/Yv9t/3j/hP+Q/5v/pv+w/7n/wf/I/83/0v/V/9j/2v/b/9v/2v/a/9n/2f/Z/9j/2P/X/9f/1//W/9X/0//R/8//zf/L/8j/xv/D/8H/vv+8/7rruTq4ALgAuAC4ALgAuAC4ALgAuAC4ALgAuAC4ALgAuAC4ALgAuAC4ALgAuAC4ALgAuAC4ALgAuAC4ALgAuAC4ALgAuAC4ALgAuAC4ALgAuAK6uLz/vv/A/8P/xf/I/8v/zf/P/9H/0//V/9b/1//X/9j/2P/Y/9n/2f/a/9r/2//b/9z/3P/c/9z/2v/Y/9T/z//K/8L/uv+w/6b/mv+N/4H/dP9o/13/Vf9P/0z/Tv9T/1v/Zf9w/33/iv+W/6L/rf+3/8D/yP/O/9P/1//a/9v/3P/c/9z/2//b/9r/2v/Z/9n/2P/Y/9j/1//X/9b/1f/U/9L/0P/O/8v/yf/G/8P/wf++/7z/uu65ObgAuAC4ALgAuAC4ALgAuAC4ALgAuAC4ALgAuAC4ALgAuAC4ALgAuAC4ALgAuAC4ALgAuAC4ALgAuAC4ALgAuAC4ALgAuAC4ALgAurK8/77/wP/D/8b/yP/L/83/0P/S/9T/1f/W/9f/1//Y/9j/2f/Z/9r/2v/b/9v/3P/c/93/3f/e/97/3v/c/9n/1f/Q/8n/wf+4/63/of+U/4b/ef9r/2D/Vv9P/0z/Tv9T/1z/aP91/4L/kP+d/6n/tf+//8f/zv/U/9j/2//d/97/3v/e/93/3f/c/9v/2//a/9r/2f/Z/9j/2P/X/9f/1//W/9T/0v/Q/87/zP/J/8b/xP/B/77/vP+66bkwuAC4ALgAuAC4ALgAuAC4ALgAuAC4ALgAuAC4ALgAuAC4ALgAuAC4ALgAuAC4ALgAuAC4ALgAuAC4ALgAuAC4ALgAuAC4ALqku/++/8D/w//G/8j/y//O/9D/0v/U/9X/1//X/9f/2P/Y/9n/2f/a/9v/2//c/9z/3f/e/97/3//f/+D/4P/g/97/2//W/9H/yf/A/7X/qf+b/43/fv9v/2L/V/9P/0z/Tv9U/1//a/95/4j/l/+l/7H/vf/G/87/1f/a/93/3//g/+D/4P/f/97/3v/d/9z/3P/b/9v/2v/a/9n/2f/Y/9j/1//X/9b/1P/T/9H/zv/M/8n/xv/E/8H/vv+8/7rduR+4ALgAuAC4ALgAuAC4ALgAuAC4ALgAuAC4ALgAuAC4ALgAuAC4ALgAuAC4ALgAuAC4ALgAuAC4ALgAuAC4ALgAuAC5jrv/vf/A/8P/xv/I/8v/zv/Q/9L/1P/W/9f/1//Y/9j/2f/Z/9r/2v/b/9v/3P/d/93/3v/f/9//4P/h/+H/4v/i/+L/4P/d/9j/0f/I/77/sf+j/5T/hP90/2X/Wf9Q/0z/Tv9W/2H/b/9//4//n/+t/7r/xf/O/9b/2//f/+H/4v/i/+H/4f/g/+D/3//e/97/3f/c/9z/2//a/9r/2f/Z/9j/2P/X/9f/1v/V/9P/0f/P/8z/yf/G/8T/wf++/7z/usi4B7gAuAC4ALgAuAC4ALgAuAC4ALgAuAC4ALgAuAC4ALgAuAC4ALgAuAC4ALgAuAC4ALgAuAC4ALgAuAC4ALgAuXG7/73/wP/D/8X/yP/L/87/0P/T/9T/1v/X/9f/2P/Y/9n/2f/a/9r/2//c/93/3f/e/9//3//g/+H/4f/i/+P/4//k/+T/5P/i/97/2f/R/8f/uv+s/5z/i/95/2n/W/9R/0z/Tv9X/2T/dP+G/5f/p/+2/8P/zv/W/93/4f/k/+T/5P/k/+P/4v/i/+H/4P/g/9//3v/d/93/3P/b/9v/2v/Z/9n/2P/Y/9f/1//W/9X/0//R/8//zP/J/8b/w//B/77/vP+6q7gAuAC4ALgAuAC4ALgAuAC4ALgAuAC4ALgAuAC4ALgAuAC4ALgAuAC4ALgAuAC4ALgAuAC4ALgAuAC4ALlLu/+9/7//wv/F/8j/y//O/9D/0//U/9b/1//X/9j/2P/Z/9n/2v/b/9v/3P/d/97/3v/f/+D/4f/h/+L/4//k/+T/5f/l/+b/5//m/+T/4P/Z/9D/xP+2/6X/k/+A/23/Xf9R/0z/T/9Z/2j/ev+N/6D/sf/A/83/1//e/+P/5v/n/+b/5v/l/+T/5P/j/+L/4v/h/+D/3//f/97/3f/c/9z/2//a/9r/2f/Y/9j/1//X/9b/1f/T/9H/z//M/8n/xv/D/8D/vv+7/7mHuAC4ALgAuAC4ALgAuAC4ALgAuAC4ALgAuAC4ALgAuAC4ALgAuAC4ALgAuAC4ALgAuAC4ALgAuAC5HrrpvP+//8L/xf/I/8v/zv/Q/9L/1P/W/9f/1//Y/9j/2f/a/9r/2//c/9z/3f/e/9//4P/g/+H/4v/j/+T/5P/l/+b/5v/n/+j/6P/p/+n/5v/h/9r/z//B/7D/nf+I/3P/YP9S/0z/T/9b/23/gf+X/6v/vP/L/9f/3//l/+j/6f/o/+j/5//n/+b/5f/l/+T/4//i/+H/4f/g/9//3v/d/93/3P/b/9r/2v/Z/9n/2P/X/9f/1v/V/9P/0f/O/8z/yf/G/8P/wP+9/7v/uVu4ALgAuAC4ALgAuAC4ALgAuAC4ALgAuAC4ALcAtwC4ALgAuAC4ALgAuAC4ALgAuAC4ALgAuAC6t7z/vv/B/8T/x//K/83/0P/S/9T/1v/X/9f/2P/Y/9n/2v/a/9v/3P/d/93/3v/f/+D/4f/i/+P/4//k/+X/5v/n/+f/6P/p/+n/6v/q/+v/6//o/+P/2v/N/7z/qP+R/3r/ZP9T/0v/UP9e/3P/iv+h/7b/yP/W/+D/5//q/+v/6//q/+n/6f/o/+f/5//m/+X/5P/k/+P/4v/h/+D/3//f/97/3f/c/9v/2//a/9n/2f/Y/9f/1//W/9X/0//R/87/y//I/8X/wv+//7z/uvW5J7gAuAC4ALgAuAC4ALgAuAC4ALgAuAC3ALcAtwC3ALgAuAC4ALgAuAC4ALgAuAC4ALgAuX67/77/wP/D/8f/yv/N/9D/0v/U/9b/1//X/9j/2P/Z/9r/2v/b/9z/3f/e/9//3//g/+H/4v/j/+T/5f/m/+b/5//o/+n/6f/q/+v/6//s/+z/7f/t/+r/5P/Z/8n/tf+d/4L/af9V/0v/Uf9i/3r/lf+u/8T/1f/h/+n/7f/t/+3/7P/s/+v/6v/q/+n/6P/n/+f/5v/l/+T/4//i/+H/4f/g/9//3v/d/9z/2//b/9r/2f/Z/9j/1//X/9b/1f/T/9D/zv/L/8j/xP/B/77/vP+6vbgAuAC4ALgAuAC4ALgAuAC4ALgAtwC3ALcAtgC3ALcAuAC4ALgAuAC4ALgAuAC4ALk9u/+9/8D/w//G/8n/zP/P/9L/1P/W/9f/1//Y/9j/2f/a/9r/2//c/93/3v/f/+D/4f/i/+L/4//k/+X/5v/n/+j/6f/q/+r/6//s/+z/7f/u/+7/7//v/+//7P/l/9f/xP+r/43/cP9X/0v/Uv9o/4T/ov+9/9L/4f/q/+//7//v/+7/7v/t/+3/7P/r/+v/6v/p/+j/5//m/+b/5f/k/+P/4v/h/+D/3//e/93/3P/b/9v/2v/Z/9n/2P/X/9f/1v/U/9L/0P/N/8r/x//E/8H/vv+7/7l9uAC4ALgAuAC4ALgAuAC4ALcAtwC3ALYAtgC2ALcAtwC4ALgAuAC4ALgAuAC4ALrLvP+//8L/xf/I/8v/zv/R/9P/1f/X/9f/2P/Y/9n/2v/a/9v/3P/d/97/3//g/+H/4v/j/+T/5f/m/+f/6P/o/+n/6v/r/+z/7f/t/+7/7//v//D/8P/x//H/8f/u/+X/1P+7/5z/ef9b/0v/VP9v/5H/sv/N/+H/7P/x//H/8f/w//D/7//v/+7/7f/t/+z/6//q/+r/6f/o/+f/5v/l/+T/4//i/+H/4P/f/97/3f/c/9v/2//a/9n/2P/Y/9f/1//W/9T/0v/P/8z/yf/G/8P/wP+9/7v/uTW4ALgAuAC4ALgAuAC3ALcAtwC2ALUAtQC2ALcAtwC3ALgAuAC4ALgAuAC5frv/vv/B/8T/x//L/87/0P/T/9X/1v/X/9j/2P/Z/9r/2v/b/9z/3f/e/9//4P/h/+L/4//k/+X/5v/n/+j/6f/q/+v/7P/t/+3/7v/v/+//8P/x//H/8v/y//L/8//z//D/5P/O/67/hv9g/0v/V/95/6L/xv/f/+3/8//z//P/8v/y//H/8f/w//D/7//u/+7/7f/s/+v/6v/p/+j/5//m/+X/5P/j/+L/4f/g/9//3v/d/9z/2//b/9r/2f/Y/9j/1//X/9X/1P/R/8//zP/I/8X/wv+//7z/ur+4ALgAuAC4ALgAuAC3ALcAtgC1ALQAtAC1ALYAtwC3ALcAuAC4ALgAuSq6/73/wP/D/8b/yv/N/9D/0v/U/9b/1//Y/9j/2f/Z/9r/2//c/93/3v/f/+D/4f/i/+P/5P/l/+b/5//o/+n/6v/r/+z/7f/u/+//8P/w//H/8v/y//P/8//0//T/9P/0//T/8f/j/8T/mP9n/0v/XP+J/7j/2//u//T/9P/0//T/9P/z//P/8v/y//H/8P/w/+//7v/t/+3/7P/r/+r/6f/o/+f/5v/l/+P/4v/h/+D/3//e/93/3P/b/9v/2v/Z/9j/2P/X/9b/1f/T/9H/zv/L/8f/xP/B/77/u/+5bLgAuAC4ALgAtwC3ALYAtQC0ALMAswC0ALUAtgC3ALcAtwC4ALgAuqu8/7//wv/F/8j/zP/P/9L/1P/W/9f/1//Y/9n/2f/a/9v/3P/d/97/3//g/+H/4v/j/+T/5f/n/+j/6f/q/+v/7P/t/+7/7//v//D/8f/y//L/8//0//T/9f/1//X/9f/2//b/9v/z/97/sv91/0v/ZP+g/9P/7//2//b/9v/2//X/9f/1//T/9P/z//P/8v/x//D/8P/v/+7/7f/s/+v/6v/p/+j/5//m/+X/5P/i/+H/4P/f/97/3f/c/9v/2v/a/9n/2P/Y/9f/1v/U/9L/0P/N/8n/xv/D/7//vf+67rkRuAC4ALcAtwC2ALUAtACzALIAsQCzALQAtQC2ALcAtwC4ALlLu/+9/8D/xP/H/8v/zv/R/9P/1f/X/9f/2P/Y/9n/2v/b/9z/3f/e/9//4P/h/+L/4//k/+b/5//o/+n/6v/r/+z/7f/u/+//8P/x//L/8v/z//T/9P/1//X/9v/2//f/9//3//f/9//2//T/1f+M/0z/dP/D/+//9v/3//f/9//3//f/9v/2//b/9f/1//T/8//z//L/8f/w/+//7v/t/+z/6//q/+n/6P/n/+b/5f/k/+L/4f/g/9//3v/d/9z/2//a/9n/2f/Y/9f/1//W/9T/0f/P/8z/yP/F/8H/vv+8/7mOuAC3ALcAtgC1ALQAswCyALAAsACxALMAtAC1ALYAtwC4ALrFvP+//8L/xv/J/83/0P/S/9X/1v/X/9j/2P/Z/9r/2//c/93/3v/f/+D/4f/i/+P/5P/m/+f/6P/p/+r/6//s/+3/7//v//D/8f/y//P/9P/0//X/9v/2//f/9//3//j/+P/4//j/+P/3//f/9f+7/03/l//t//f/9//4//j/+P/4//j/+P/3//f/9v/2//X/9f/0//P/8v/y//H/8P/v/+7/7f/s/+v/6f/o/+f/5v/l/+T/4v/h/+D/3//e/93/3P/b/9r/2f/Y/9j/1//X/9X/0//Q/83/yv/H/8P/wP+9/7r/uCi3ALYAtQC0ALMAsgCwAK8ArgCwALEAswC0ALUAtgC4Wbv/vv/B/8T/yP/L/87/0f/U/9b/1//X/9j/2f/a/9r/2//c/93/3v/g/+H/4v/j/+T/5f/n/+j/6f/q/+v/7f/u/+//8P/x//L/8//0//T/9f/2//b/9//3//j/+P/5//n/+f/5//n/+f/4//j/9v/0/1f/5//2//f/+P/5//n/+f/5//n/+f/4//j/+P/3//f/9v/1//X/9P/z//L/8f/w/+//7v/t/+z/6//p/+j/5//m/+X/4//i/+H/4P/f/97/3f/c/9v/2v/Z/9j/2P/X/9b/1P/S/8//zP/J/8X/wv+//7z/uZ23ALUAtACzALIAsACvAK0ArACuALAAsQCzALQAtgC4y7v/v//D/8b/yv/N/9D/0//V/9f/1//Y/9j/2f/a/9v/3P/d/97/3//g/+L/4//k/+X/5//o/+n/6v/s/+3/7v/v//D/8f/y//P/9P/1//b/9v/3//j/+P/5//n/+f/6//r/+v/6//r/+f/5//j/9//0/+//8//2//j/+f/5//r/+v/6//r/+v/5//n/+f/4//j/9//2//b/9f/0//P/8v/x//D/7//u/+3/7P/r/+n/6P/n/+b/5P/j/+L/4f/g/97/3f/c/9v/2v/Z/9n/2P/X/9f/1v/T/9H/zv/L/8f/xP/A/7z/uf+2K7QAswCyALAArgCtAKsAqgCsAK4ArwCxALMAtVS4/7z/wP/E/8j/y//P/9L/1P/W/9f/2P/Y/9n/2v/b/9z/3f/e/9//4P/h/+P/5P/l/+b/6P/p/+r/7P/t/+7/7//w//H/8v/z//T/9f/2//f/9//4//n/+f/6//r/+v/7//v/+//7//r/+v/5//j/9//0/1r/8//2//j/+f/6//r/+//7//v/+//6//r/+v/5//n/+P/4//f/9v/1//X/9P/z//L/8f/v/+7/7f/s/+v/6f/o/+f/5v/k/+P/4v/g/9//3v/d/9z/2//a/9n/2P/Y/9f/1v/V/9L/0P/M/8n/xf/B/73/uf+2mbMAsQCwAK4ArACrAKkAqACqAKsArQCvALEAtL64/7z/wf/F/8r/zf/Q/9P/1f/X/9f/2P/Z/9n/2v/b/9z/3f/f/+D/4f/i/+T/5f/m/+f/6f/q/+v/7f/u/+//8P/x//L/9P/1//X/9v/3//j/+f/5//r/+v/7//v/+//7//v/+//7//v/+v/6//n/9//W/03/rv/2//j/+f/6//v/+//7//v/+//7//v/+//6//r/+f/5//j/9//3//b/9f/0//P/8v/x/+//7v/t/+z/6//p/+j/5//l/+T/4//h/+D/3//e/93/3P/b/9r/2f/Y/9j/1//W/9T/0f/O/8v/x//C/77/uf+2/7IbsACuAKwAqgCoAKYApQCnAKkAqwCtALA6tP+4/7z/wf/G/8v/z//S/9T/1v/X/9j/2P/Z/9r/2//c/93/3v/f/+H/4v/j/+X/5v/n/+n/6v/r/+3/7v/v//D/8f/z//T/9f/2//f/9//4//n/+v/6//v/+//7//z//P/8//z//P/8//v/+//6//j/8P+j/0r/gv/h//j/+f/6//v//P/8//z//P/8//z/+//7//v/+v/6//n/+P/4//f/9v/1//T/8//y//H/7//u/+3/7P/q/+n/6P/m/+X/5P/i/+H/4P/e/93/3P/b/9r/2f/Z/9j/1//W/9X/0//Q/8z/yP/D/77/uf+1/7GBrgCsAKoAqACmAKQAogCkAKcAqQCrAK6dsv+3/7z/wf/H/8v/0P/T/9X/1//X/9j/2f/a/9r/2//d/97/3//g/+H/4//k/+X/5//o/+r/6//s/+7/7//w//H/8//0//X/9v/3//j/+P/5//r/+v/7//v//P/8//z//P/8//z//P/8//v/+//6//f/0f+E/0j/bP+8//H/+f/6//v//P/8//z//P/8//z//P/8//z/+//7//r/+f/5//j/9//2//X/9P/z//L/8f/v/+7/7f/r/+r/6f/n/+b/5P/j/+L/4f/f/97/3f/c/9v/2v/Z/9j/2P/X/9b/1P/R/83/yP/D/77/uf+0/7DjrACpAKcApQCjAKEAnwChAKQApgCpDq37sf+2/7v/wf/G/8v/0P/T/9b/1//Y/9j/2f/a/9v/3P/d/97/4P/h/+L/5P/l/+b/6P/p/+v/7P/t/+//8P/x//L/9P/1//b/9//4//n/+f/6//v/+//8//z//P/9//3//f/9//3//P/8//v/+v/5/+X/s/9x/0f/YP+g/9n/9//6//v//P/8//3//f/9//3//f/8//z//P/7//v/+v/6//n/+P/3//b/9f/0//P/8v/w/+//7v/s/+v/6v/o/+f/5f/k/+P/4f/g/9//3v/c/9v/2v/Z/9n/2P/X/9b/1P/R/83/yP/D/73/uP+z/67/qlWnAKQAogCgAJ4AnACeAKEAowCmaKv/r/+1/7r/wP/G/8v/0P/T/9b/1//Y/9n/2v/a/9z/3f/e/9//4P/i/+P/5P/m/+f/6f/q/+z/7f/u//D/8f/y//P/9f/2//f/+P/5//n/+v/7//v//P/8//3//f/9//3//f/9//3//P/8//v/+v/w/8//m/9m/0b/Wf+L/8H/6P/5//v//P/8//3//f/9//3//f/9//3//P/8//z/+//6//r/+f/4//f/9v/1//T/8//x//D/7//t/+z/6//p/+j/5v/l/+P/4v/h/9//3v/d/9z/2//a/9n/2P/Y/9f/1P/R/8z/x//C/7z/tv+x/6z/qLCkAKEAnwCdAJsAmQCbAJ0AoACkv6j/rf+z/7n/v//E/8r/z//T/9X/1//Y/9n/2v/b/9z/3f/e/+D/4f/i/+T/5f/n/+j/6v/r/+z/7v/v//H/8v/z//T/9v/3//j/+f/5//r/+//8//z//f/9//3//f/9//3//f/9//3//P/7//r/9f/f/7n/iv9e/0X/VP97/6v/1f/w//r/+//8//z//f/9//3//f/9//3//f/9//z//P/7//r/+v/5//j/9//2//X/9P/y//H/8P/u/+3/6//q/+n/5//m/+T/4//h/+D/3//e/9z/2//a/9n/2f/Y/9b/1P/Q/8v/xv/A/7r/tf+v/6r/pf+hFp4AnACZAJcAlQCXAJoAnSCh/6X/q/+w/7b/vf/D/8j/zf/R/9T/1v/Y/9n/2v/b/93/3v/f/+D/4v/j/+X/5v/o/+n/6v/s/+3/7//w//L/8//0//X/9v/3//j/+f/6//v//P/8//3//f/9//3//v/9//3//f/9//z//P/7//j/6P/M/6b/fP9Y/0X/UP9w/5n/wf/h//T/+//7//z//f/9//3//f/+//3//f/9//3//P/8//v/+v/6//n/+P/3//b/9P/z//L/8f/v/+7/7P/r/+n/6P/m/+X/5P/i/+H/3//e/93/3P/b/9r/2f/X/9X/0v/O/8r/xP++/7j/sv+s/6f/ov+eaJsAmACWAJQAkQCUAJYAmW6e/6L/qP+u/7T/uv/A/8b/y//P/9L/1f/Y/9r/2//c/93/3v/g/+H/4v/k/+X/5//o/+r/6//t/+7/8P/x//L/9P/1//b/9//4//n/+v/7//z//P/9//3//f/+//7//v/9//3//f/8//z/+//5/+7/2f+6/5b/cf9U/0T/Tf9n/4v/sP/Q/+n/9//7//z//P/9//3//f/+//7//v/9//3//f/8//z/+//6//n/+f/4//b/9f/0//P/8f/w/+//7f/s/+r/6f/n/+b/5P/j/+H/4P/f/93/3P/b/9r/2P/W/9P/0P/M/8f/wv+8/7b/r/+q/6T/n/+bt5cAlACSAJAAjQCQAJIAlrma/5//pP+q/7D/t/+9/8L/yP/M/8//0//W/9n/2//c/97/3//g/+L/4//l/+b/6P/p/+v/7P/u/+//8f/y//P/9f/2//f/+P/5//r/+//7//z//f/9//3//v/+//7//v/9//3//P/8//v/+v/y/+H/yf+q/4j/af9Q/0P/S/9g/37/oP/A/9v/7v/5//v//P/8//3//f/9//7//v/+//3//f/9//z//P/7//r/+f/4//f/9v/1//T/8v/x//D/7v/t/+v/6v/o/+f/5f/k/+L/4f/f/97/3f/c/9r/1//U/9H/zf/J/8T/vv+4/7L/rP+m/6H/m/+X/5MOkACOAIwAiQCLAI4Lkv+W/5v/of+m/63/s/+5/77/xP/I/8z/0P/U/9j/2//d/97/3//h/+L/5P/l/+f/6P/q/+v/7f/u//D/8f/z//T/9f/3//j/+f/6//v/+//8//3//f/9//7//v/+//7//f/9//3//P/7//r/9P/n/9L/uf+b/33/Yv9N/0H/Sf9b/3T/kv+w/8v/4f/x//n/+//8//z//f/9//7//v/+//7//f/9//3//P/8//v/+v/5//j/9//2//T/8//y//D/7//t/+z/6v/p/+f/5v/k/+P/4f/g/9//3f/b/9j/1f/R/83/yf/F/8D/uv+1/67/qP+i/53/mP+T/49VjACKAIgAhQCHAIpOjv+S/5f/nP+i/6j/rv+0/7r/v//D/8j/zf/R/9X/2f/c/9//4P/h/+P/5P/m/+f/6f/r/+z/7v/v//H/8v/z//X/9v/3//j/+f/6//v//P/8//3//f/+//7//v/+//3//f/9//z//P/6//X/6v/Z/8P/qv+O/3P/XP9L/0D/R/9W/2z/hv+h/7z/0//m//P/+f/7//z//P/9//3//v/+//7//v/9//3//f/8//v/+//6//n/+P/2//X/9P/y//H/8P/u/+3/6//p/+j/5v/l/+P/4v/g/9//3f/a/9b/0v/O/8n/xf/A/7v/tv+w/6r/pP+e/5n/k/+P/4uYiACFAIMAgACDAIaNif+O/5L/mP+d/6P/qf+v/7T/uf++/8P/yP/N/9L/1//b/97/4P/i/+P/5f/n/+j/6v/r/+3/7v/w//H/8//0//X/9//4//n/+v/7//z//P/9//3//f/+//7//v/9//3//f/8//z/+v/2/+z/3v/L/7T/nP+D/2v/V/9I/z//Rf9S/2X/e/+U/63/xP/Y/+j/8//5//v//P/9//3//f/+//7//v/+//3//f/8//z/+//6//n/+P/3//b/9f/z//L/8P/v/+3/7P/q/+n/5//l/+T/4v/h/9//3P/Y/9P/z//K/8X/wP+7/7b/sP+r/6X/n/+Z/5T/j/+L/4fXhACBAH8AfAB+AIHIhf+J/43/k/+Y/57/o/+p/67/s/+4/73/w//I/87/0//Y/93/4P/i/+T/5v/n/+n/6v/s/+3/7//w//L/8//1//b/9//4//n/+v/7//z//f/9//3//v/+//7//f/9//3//P/8//r/9v/t/+D/0P+8/6b/j/95/2T/U/9G/z3/Q/9P/1//cv+I/5//tf/K/9z/6v/0//n/+//8//3//f/9//3//v/+//3//f/9//z/+//7//r/+f/4//b/9f/0//L/8f/v/+7/7P/r/+n/6P/m/+T/4//h/97/2f/V/8//yv/E/7//uv+1/7D/qv+l/5//mv+U/4//iv+G/4L/fxp9AHsAdwB6Bnz/gP+E/4j/jf+S/5f/nf+i/6f/rP+x/7f/vP/C/8j/zv/U/9r/3v/i/+T/5v/o/+n/6//s/+7/8P/x//P/9P/1//f/+P/5//r/+//8//z//f/9//3//v/+//3//f/9//z/+//5//X/7f/h/9L/wf+t/5j/g/9v/17/T/9E/zz/Qv9M/1n/av99/5L/p/+7/83/3f/q//P/+P/7//z//f/9//3//f/+//3//f/9//z//P/7//r/+f/4//f/9v/0//P/8v/w/+7/7f/r/+r/6P/n/+X/4//g/9v/1v/Q/8r/xP++/7j/s/+u/6n/pP+f/5n/lP+P/4r/hf+B/33/elF4AHYAcwB1OXj/e/9//4P/h/+M/5H/lv+b/6D/pf+q/6//tf+7/8H/yP/P/9X/2//g/+T/5//o/+r/6//t/+//8P/y//P/9P/2//f/+P/5//r/+//8//z//f/9//3//f/9//3//f/8//v/+P/0/+z/4f/T/8P/sf+f/4v/ef9n/1j/TP9C/zr/QP9J/1T/Y/9z/4b/mf+s/77/z//d/+n/8v/3//r//P/8//3//f/9//3//f/9//3//P/7//v/+v/5//f/9v/1//T/8v/x/+//7f/s/+r/6f/n/+X/4v/d/9f/0f/K/8P/vf+3/7H/q/+m/6H/nf+Y/5P/jv+J/4T/gP98/3n/doRzAHIAbgBwaHP/dv95/33/gf+G/4r/j/+U/5j/nf+i/6f/rf+z/7r/wf/I/8//1v/d/+P/5//p/+r/7P/t/+//8f/y//T/9f/2//f/+f/6//v/+//8//3//f/9//3//f/9//3//P/6//f/8v/q/+D/0//E/7T/ov+R/4D/b/9g/1P/Sf9A/zj/Pv9G/1D/XP9q/3v/jP+d/6//v//P/9z/5//w//X/+v/8//z//f/9//3//f/9//3//P/8//v/+v/5//j/9//1//T/8//x//D/7v/s/+v/6f/n/+T/3//Y/9H/yv/D/7z/tf+v/6n/o/+e/5r/lf+Q/4z/h/+D/37/ev93/3T/cbRvAG0AagBslG7/cf90/3f/e/9//4P/h/+M/5D/lP+Z/57/pP+q/7H/uP+//8f/z//X/97/5f/p/+v/7P/u//D/8f/z//T/9f/3//j/+f/6//v//P/8//3//f/9//3//f/8//z/+v/1/+//5//d/9H/w/+0/6T/lP+E/3X/Zv9a/0//Rv8+/zb/PP9D/0z/Vv9i/3D/f/+P/5//r/++/83/2v/l/+3/9P/4//z//P/9//3//f/9//3//P/8//v/+v/5//j/9//2//T/8//y//D/7v/t/+v/6v/m/+D/2f/S/8r/wv+6/7P/rP+m/6D/m/+W/5H/jf+J/4T/gP98/3j/df9y/2//bN9qAGkAZgBnvGn/bP9u/3H/df94/3z/gP+E/4f/i/+Q/5X/mv+g/6f/rv+1/77/xv/P/9j/4P/n/+v/7f/u//D/8f/z//T/9v/3//j/+f/6//v//P/8//3//f/9//3//P/8//j/8//s/+T/2f/N/8D/sv+j/5T/hv94/2v/X/9U/0v/Q/88/zP/Ov9A/0j/Uf9b/2f/dP+C/5D/n/+t/7z/yf/W/+H/6v/x//f/+//8//3//f/9//3//P/8//v/+v/6//j/9//2//X/8//y//D/7//t/+z/6P/i/9r/0v/J/8D/uP+w/6n/ov+c/5b/kf+N/4n/hf+B/33/ef92/3L/b/9s/2r/aP9mC2UAYQBj32X/Z/9p/2z/bv9y/3X/eP97/3//gv+G/4v/kP+V/5z/ov+q/7L/u//E/87/2P/h/+n/7f/v//D/8v/z//X/9v/3//j/+f/6//v//P/8//z//f/8//z/+//3//D/6P/e/9T/yP+7/67/oP+T/4b/ef9t/2L/WP9O/0f/QP85/zH/N/8+/0T/TP9V/17/af91/4L/j/+c/6r/t//E/9D/2//l/+3/9f/6//z//P/9//z//P/8//v/+//6//n/+P/2//X/9P/y//H/7//u/+v/5P/b/9H/x/++/7X/rP+l/57/l/+S/4z/iP+D/4D/fP95/3b/cv9v/2z/av9n/2X/Y/9iLmEAXQJf/2D/Yv9k/2b/aP9r/27/cP9z/3b/ef99/4H/hf+K/5D/lv+d/6X/rv+3/8L/zf/Y/+P/6//v//H/8v/z//X/9v/3//j/+f/6//v//P/8//z//P/8//r/9P/s/+L/2P/N/8H/tP+o/5v/j/+D/3j/bf9j/1n/Uf9K/0P/Pf82/y7/NP87/0H/R/9P/1f/YP9q/3T/f/+L/5f/pP+w/73/yf/V/9//6f/y//n//P/8//z//P/8//v/+//6//n/+P/3//X/9P/y//H/7//t/+X/2//Q/8X/u/+x/6j/oP+Y/5L/jP+H/4L/fv96/3f/dP9x/27/bP9p/2f/ZP9i/2H/X/9eTl0AWh5b/1z/Xf9f/2H/Yv9l/2f/af9r/27/cP9z/3f/ev9//4T/if+Q/5f/n/+o/7P/vv/K/9f/5P/t//H/8v/0//X/9v/3//j/+f/6//v/+//8//z//P/4//D/5v/a/8//w/+3/6v/n/+U/4n/fv90/2v/Yv9a/1L/S/9F/z//Ov80/yv/Mf84/z3/Q/9J/1D/V/9f/2j/cf97/4b/kf+c/6j/tP/A/8z/1//i/+3/9v/7//z//P/7//v/+v/6//n/+P/3//X/9P/z//H/7//n/9v/zv/C/7b/q/+i/5n/kv+L/4X/gP98/3j/dP9x/27/bP9q/2f/Zf9j/2H/X/9e/1z/W/9aalkAVjVX/1j/Wf9a/1z/Xf9f/2D/Yv9k/2b/aP9q/23/cP9z/3f/fP+C/4j/j/+X/6H/rP+4/8b/1f/k/+//8v/0//X/9v/3//j/+f/6//r/+//7//v/9f/q/93/0P/E/7f/q/+g/5X/iv+B/3f/b/9n/1//WP9R/0v/Rv9B/zv/Nv8w/yf/Lv81/zr/P/9E/0r/UP9W/13/ZP9s/3X/fv+H/5L/nf+o/7T/wP/M/9n/5v/y//r/+//7//v/+v/5//n/+P/3//X/9P/z//H/6P/a/8v/vf+v/6T/mv+R/4r/g/9+/3n/df9x/27/a/9o/2b/ZP9j/2H/X/9d/1z/W/9Z/1j/V/9XglYAU0lU/1X/Vf9W/1f/WP9Z/1r/XP9d/17/YP9i/2T/Zv9p/2z/b/90/3j/fv+F/43/l/+j/7D/wP/S/+T/8f/0//X/9v/3//j/+f/5//r/+v/6//D/4f/R/8L/tf+o/53/kv+I/3//dv9v/2f/Yf9a/1X/T/9K/0X/Qf88/zj/M/8t/yT/K/8x/zb/O/8//0T/Sf9O/1P/Wf9f/2X/bP90/3z/hf+P/5n/pf+x/77/zf/d/+z/+P/6//r/+v/5//j/9//2//X/9P/z/+n/1//F/7X/pv+a/5D/h/+A/3r/df9x/23/av9n/2T/Yv9g/1//Xf9c/1v/Wv9Y/1f/Vv9W/1X/VP9TllMAUVlR/1L/Uv9T/1P/VP9V/1X/Vv9X/1j/Wf9a/1v/Xf9f/2H/Y/9m/2r/bv9z/3n/gf+K/5b/pP+2/8v/4v/z//X/9v/3//f/+P/5//n/9v/n/9P/wP+w/6L/lf+L/4H/ef9x/2r/ZP9f/1n/Vf9Q/0z/SP9E/0D/PP84/zL/K/8n/yD/Jv8q/zD/N/87/z//Qv9G/0r/T/9T/1j/Xf9j/2n/b/92/3//iP+S/57/q/+7/83/4f/z//n/+f/4//j/9//2//X/9P/o/9L/vP+p/5r/jf+D/3v/df9v/2v/Z/9k/2L/X/9e/1z/Wv9Z/1j/V/9W/1b/Vf9U/1P/U/9S/1L/Uf9RplEAT2ZP/0//T/9Q/1D/UP9R/1H/Uv9S/1P/U/9U/1X/Vv9X/1j/Wf9b/13/X/9j/2b/a/9x/3n/hP+S/6X/v//e//T/9f/2//f/9//4/+//1f+8/6f/lv+J/37/dv9u/2j/Yv9d/1n/Vf9R/07/Sv9H/0T/Qf8+/zr/N/8z/yr/I/8d/xv/HP8h/yj/MP82/zn/Pf9A/0P/Rv9J/03/UP9U/1j/XP9h/2b/bP9z/3z/hv+S/6L/tf/N/+j/+P/3//f/9v/1//T/5//I/6z/l/+I/3z/dP9t/2j/ZP9g/17/XP9a/1j/V/9W/1X/VP9T/1P/Uv9S/1H/Uf9R/1D/UP9Q/0//T/9Psk8ATW5N/07/Tv9O/07/Tv9O/07/T/9P/0//T/9P/1D/UP9Q/1H/Uf9S/1P/VP9V/1f/Wf9c/2D/Zf9t/3j/if+m/9L/9P/1//X/9f/b/7P/lv+D/3X/bP9l/1//Wv9X/1P/UP9O/0v/Sf9H/0T/Qv9A/z3/O/84/zX/Mv8u/yT/HP8V/xP/FP8Z/yL/K/8x/zT/N/86/z3/P/9B/0T/Rv9I/0v/Tf9Q/1L/Vv9Z/17/Y/9p/3L/fv+Q/6n/zv/0//X/9f/0/+H/sf+Q/3z/b/9n/2H/Xf9a/1j/Vv9U/1P/Uv9S/1H/Uf9Q/1D/T/9P/0//T/9P/07/Tv9O/07/Tv9O/07/Tf9Nuk0ATXJN/03/Tf9N/03/Tf9N/03/Tf9N/03/Tf9N/03/Tf9N/03/Tf9N/03/Tf9N/07/Tv9O/0//UP9R/1P/V/9e/2//o//y//H/lv9v/1//V/9T/0//Tf9L/0r/SP9H/0b/Rf9D/0L/QP8//z3/O/85/zf/NP8x/y7/K/8n/yH/F/8R/w7/D/8V/x7/Jv8q/y3/MP8z/zb/OP86/zz/Pv9A/0H/Q/9E/0b/R/9I/0n/S/9N/0//Uf9W/1z/af+G/9T/8v/E/3n/Yv9Y/1T/Uf9Q/0//Tv9O/07/Tf9N/03/Tf9N/03/Tf9N/03/Tf9N/03/Tf9N/03/Tf9N/03/Tf9N/03/Tf9Nv00ATXJN/03/Tf9N/03/Tf9N/03/TP9M/0z/TP9M/0z/TP9M/0z/TP9M/0z/TP9N/03/Tf9N/03/Tf9O/0//UP9U/1z/fP/x/8r/cv9c/1P/T/9N/0v/Sv9I/0f/Rv9F/0T/Q/9C/0D/P/89/zv/Of83/zX/Mv8v/yz/Kf8l/yH/F/8Q/w3/D/8V/x7/JP8o/yv/L/8x/zT/N/85/zv/Pf8+/0D/Qf9D/0T/Rf9G/0f/SP9J/0v/TP9O/1L/WP9o/6D/8f+V/2L/Vv9R/0//Tv9N/03/Tf9N/03/Tf9N/0z/TP9M/0z/TP9M/0z/TP9M/0z/TP9M/03/Tf9N/03/Tf9N/03/Tf9Nv00ATW9N/03/Tf9N/07/Tv9O/07/Tv9O/07/Tv9P/0//T/9P/1D/UP9R/1H/Uv9T/1X/Vv9Y/1v/YP9m/2//fv+X/8L/8//0//X/9P/K/6L/iP94/2z/ZP9e/1r/Vv9T/1D/Tv9L/0n/R/9F/0P/Qf8+/zz/Of83/zT/MP8t/yP/G/8U/xH/E/8Y/yH/Kv8v/zP/Nv85/zv/Pv9A/0L/RP9G/0j/S/9N/0//Uv9V/1n/Xf9i/2r/dP+C/5n/vP/r//X/9P/0/9P/ov+E/3P/aP9h/13/Wf9X/1X/VP9T/1L/Uf9Q/1D/UP9P/0//T/9P/07/Tv9O/07/Tv9O/07/Tf9N/03/Tf9Nu00ATmdP/0//T/9P/1D/UP9Q/1H/Uf9R/1L/Uv9T/1T/VP9V/1b/V/9Z/1v/Xf9g/2P/Z/9t/3T/ff+K/5z/tf/V//L/9f/2//b/9//3/+f/y/+x/53/jf+B/3j/cP9p/2P/Xv9a/1b/Uv9P/0z/Sf9G/0P/QP89/zn/Nv8y/yn/If8b/xn/Gv8f/yb/L/81/zj/PP8//0L/Rf9I/0v/Tv9R/1X/Wf9d/2L/Z/9u/3X/fv+K/5j/q//C/9//9v/3//f/9v/1//T/4P++/6P/j/+B/3b/b/9p/2T/Yf9e/1v/Wf9Y/1f/Vf9V/1T/U/9S/1L/Uf9R/1H/UP9Q/1D/T/9P/0//T/9PtE4AUFxR/1H/Uf9S/1P/U/9U/1T/Vf9W/1f/WP9Z/1r/W/9d/1//Yf9k/2f/a/9w/3X/fP+F/5D/nv+v/8X/3f/x//T/9v/3//f/+P/4//n/8//g/8v/uP+o/5v/j/+F/3z/dP9t/2f/Yf9c/1f/Uv9O/0r/Rv9C/z//O/83/zD/Kv8l/x//JP8o/y7/Nv86/z7/Qf9F/0n/Tf9R/1X/Wv9f/2X/a/9y/3n/gv+M/5f/pP+z/8X/2v/u//n/+f/4//j/9//2//X/9P/k/8z/tf+j/5T/iP9//3f/cf9s/2j/Zf9i/2D/Xv9c/1r/Wf9Y/1f/Vv9V/1X/VP9T/1P/Uv9S/1H/Uf9QqVAAU01T/1T/Vf9V/1b/V/9Y/1n/Wv9c/13/Xv9g/2L/ZP9n/2n/bf9x/3X/e/+B/4n/k/+e/6v/u//N/+D/7//0//X/9v/3//j/+f/5//r/+v/4/+z/3P/L/7z/r/+i/5f/jf+D/3v/c/9r/2T/Xv9Y/1P/Tv9J/0T/QP87/zf/Mv8s/yP/Kv8w/zX/Ov8+/0P/R/9M/1H/V/9c/2L/af9w/3j/gf+K/5T/n/+r/7j/x//X/+f/9f/6//r/+f/5//j/9//2//X/9P/y/+X/0//A/7D/ov+W/4z/hP99/3f/cv9u/2r/Z/9l/2P/Yf9f/13/XP9b/1r/Wf9Y/1f/Vv9V/1T/U/9TmVMAVjpW/1f/WP9Z/1v/XP9d/1//Yf9i/2T/Zv9o/2v/bv9x/3X/ev9//4X/jP+U/53/qP+0/8L/0v/h/+7/8v/0//X/9v/3//j/+f/6//r/+//7//r/8v/m/9n/y/++/7L/pv+b/5D/hv99/3T/bP9k/13/Vv9Q/0r/Rf9A/zv/Nv8w/yf/Lv80/zn/Pv9D/0j/Tv9U/1v/Yv9p/3H/ev+D/43/mP+j/6//u//H/9T/4v/v//n/+//7//r/+v/5//n/+P/3//X/9P/z//D/5f/W/8f/uP+r/6D/lv+O/4f/gP97/3b/cv9v/2z/af9n/2X/Y/9h/2D/Xv9c/1v/Wv9Z/1j/V/9WhlUAWSNa/1v/XP9e/2D/Yf9j/2X/aP9q/2z/b/9x/3X/eP99/4H/h/+N/5T/nP+l/6//u//H/9T/4f/s//H/8v/0//X/9v/3//j/+f/6//v/+//7//z/+//2/+3/4v/W/8v/v/+z/6f/m/+Q/4X/e/9x/2j/YP9Y/1H/Sv9E/z7/Of8z/yr/Mf83/z3/Qv9I/0//Vv9d/2b/bv94/4L/jf+Y/6P/r/+7/8f/0//e/+r/9P/6//z//P/7//v/+v/6//n/+P/3//X/9P/z//H/7v/l/9j/y/++/7P/qP+e/5b/j/+I/4P/fv96/3b/cv9v/23/av9o/2b/ZP9i/2D/Xv9d/1v/Wv9Zb1gAXQhe/1//Yf9j/2X/Z/9q/2z/b/9y/3T/d/97/3//g/+I/43/lP+b/6L/q/+1/7//yv/W/+H/6v/v//H/8v/0//X/9v/3//j/+f/6//v//P/8//z//P/8//n/8v/p/9//1P/J/7z/sP+k/5f/i/+A/3X/av9h/1j/UP9J/0L/PP82/y3/NP86/0D/R/9O/1X/Xv9n/3L/ff+I/5T/oP+s/7n/xf/R/9v/5v/v//f/+//8//z//P/8//v/+//6//n/+P/3//X/9P/z//H/7//s/+T/2f/O/8L/uP+u/6X/nf+W/4//iv+E/4D/fP94/3X/cv9w/23/av9o/2b/Y/9h/2D/Xv9dVFwAYQBi5mT/Zv9o/2r/bf9w/3P/dv96/33/gP+E/4n/jv+T/5n/oP+n/7D/uf/C/8z/1v/g/+j/7f/v//D/8v/z//X/9v/3//j/+f/6//v//P/8//z//P/8//z/+v/1/+3/5f/b/9D/xP+3/6r/nf+Q/4P/dv9r/2D/Vv9N/0b/P/85/zD/N/89/0T/S/9T/13/Z/9z/3//jP+Z/6b/s//A/83/2P/i/+v/8//5//z//P/8//z//P/8//v/+//6//n/+P/2//X/9P/y//H/7//u/+r/4//Z/8//xf+7/7L/qv+i/5v/lf+P/4r/hv+C/37/e/93/3T/cf9u/2v/af9m/2T/Yv9hNWAAZQBmw2j/a/9t/3D/c/93/3r/fv+C/4b/iv+O/5P/mP+e/6T/rP+z/7v/xP/N/9b/3//m/+v/7f/u//D/8v/z//T/9v/3//j/+f/6//v//P/8//3//f/9//3//P/7//f/8f/q/+H/1v/K/7z/rv+g/5H/g/92/2n/Xf9T/0r/Qv87/zP/Of9A/0f/UP9a/2X/cv9//43/m/+q/7j/xv/S/97/5//v//X/+v/8//z//f/9//3//P/8//v/+v/6//n/9//2//X/8//y//D/7//t/+z/6P/h/9n/0P/H/77/tv+u/6f/oP+a/5T/j/+L/4f/g/9//3z/eP90/3H/bv9r/2n/Z/9lEmQAaQBrnG3/cP9z/3b/ev9+/4L/hv+K/47/k/+X/5z/ov+o/6//tv+9/8X/zv/W/93/5P/p/+v/7P/u//D/8f/z//T/9f/3//j/+f/6//v//P/8//3//f/9//3//f/8//z/+f/0/+3/5f/a/83/v/+w/6H/kf+B/3P/Zf9Z/07/Rf89/zX/O/9D/0v/Vf9h/27/ff+M/5z/rP+7/8n/1//i/+v/8v/3//v//P/9//3//f/9//3//P/8//v/+v/5//j/9//2//T/8//y//D/7v/t/+v/6v/m/9//2P/Q/8j/wP+4/7H/qv+k/57/mf+U/4//i/+H/4P/f/97/3f/dP9x/27/a+hqAGgAbQBvcXL/df94/3z/gP+E/4n/jf+S/5f/m/+g/6X/q/+x/7j/v//G/87/1f/c/+L/5v/p/+r/7P/u/+//8f/y//T/9f/2//j/+f/6//v/+//8//3//f/9//3//f/9//z//P/6//b/8P/o/93/0P/B/7D/n/+O/33/bf9f/1L/SP9A/zf/Pf9F/0//W/9p/3j/if+a/6v/vP/L/9n/5f/u//T/+f/8//z//f/9//3//f/9//3//P/8//v/+v/5//j/9//1//T/8//x//D/7v/s/+v/6f/n/+P/3v/X/9D/yP/B/7r/s/+t/6f/ov+d/5j/k/+P/4r/hv+B/33/ef92/3P/cL1uAGwAcgB0Q3f/ev9+/4L/hv+L/5D/lf+a/5//o/+o/67/s/+6/8D/x//N/9T/2v/g/+T/5//o/+r/6//t/+//8P/y//P/9f/2//f/+P/5//r/+//8//3//f/9//3//f/9//3//P/8//r/9//y/+r/3v/Q/8D/rv+c/4n/d/9m/1f/S/9C/zn/P/9I/1P/Yf9y/4P/lv+p/7v/zP/b/+f/8P/2//r//P/8//3//f/9//3//f/9//3//P/7//v/+v/5//j/9v/1//T/8v/x/+//7v/s/+r/6f/n/+X/4f/c/9b/z//J/8L/vP+1/6//qv+l/6D/m/+W/5H/jP+H/4P/f/97/3j/dY5zAHEAdwB5EXz/f/+D/4f/jP+R/5b/nP+h/6b/q/+w/7X/u//B/8f/zf/T/9n/3v/i/+X/5v/o/+n/6//t/+7/8P/x//P/9P/1//f/+P/5//r/+//8//z//f/9//3//v/9//3//f/9//z/+//4//P/6//f/8//vv+q/5X/gf9u/13/T/9E/zv/Qf9L/1j/aP97/4//pP+4/8r/2v/o//H/9//6//z//P/9//3//f/+//3//f/9//z//P/7//r/+f/4//f/9v/0//P/8v/w/+//7f/r/+r/6P/n/+X/4//f/9r/1f/P/8n/w/+9/7f/sf+s/6f/ov+d/5j/k/+N/4n/hP+A/3z/elx3AHUAewB9AIDThP+I/4z/kf+X/5z/ov+o/63/sv+3/7z/wf/H/83/0v/X/9z/4P/j/+T/5v/n/+n/6v/s/+7/7//x//L/8//1//b/9//4//r/+v/7//z//f/9//3//v/+//7//f/9//3//P/7//n/9P/r/97/zf+5/6P/jP93/2P/Uv9G/z3/Q/9O/13/cP+G/5z/sv/H/9n/5//y//j/+//8//z//f/9//3//v/+//3//f/9//z//P/7//r/+f/4//f/9f/0//P/8f/w/+7/7P/r/+n/6P/m/+X/4//h/93/2f/U/87/yf/D/77/uP+z/67/qf+k/57/mP+T/47/if+F/4H/fiV8AHoAgACCAIWZiP+N/5H/l/+c/6L/qP+u/7P/uP+9/8L/x//M/9H/1v/a/97/4f/i/+T/5f/n/+j/6v/r/+3/7v/w//H/8//0//b/9//4//n/+v/7//z//P/9//3//v/+//7//v/9//3//f/8//v/+f/0/+r/2//I/7H/mf+B/2r/Vv9I/z7/Rf9S/2P/ef+S/6r/wf/W/+b/8v/4//v//P/8//3//f/9//7//v/+//3//f/8//z/+//6//n/+P/3//b/9f/z//L/8P/v/+3/7P/q/+n/5//m/+T/4v/h/9//2//X/9P/zv/J/8P/vv+6/7X/r/+q/6T/nv+Y/5P/jv+K/4bjgwCAAH4AhACGAIlbjf+R/5b/m/+h/6f/rf+z/7n/vv/C/8f/zP/Q/9X/2f/c/9//4P/i/+P/5P/m/+j/6f/r/+z/7v/v//H/8v/0//X/9v/3//j/+f/6//v//P/8//3//f/+//7//v/+//3//f/9//z/+//6//T/6P/W/8D/p/+M/3L/W/9K/0D/R/9V/2r/hP+f/7n/0P/j//H/+f/7//z//P/9//3//f/+//7//v/9//3//f/8//v/+//6//n/+P/3//X/9P/z//H/8P/u/+3/6//q/+j/5v/l/+P/4v/h/9//3f/a/9b/0v/N/8j/xP+//7r/tf+v/6n/o/+d/5j/k/+O/4qlhwCFAIMAiACLAI0Zkf+V/5r/oP+m/6z/sv+4/77/w//H/8v/z//T/9f/2v/d/97/4P/h/+L/5P/l/+f/6P/q/+z/7f/v//D/8f/z//T/9f/3//j/+f/6//v/+//8//3//f/9//7//v/+//7//f/9//z//P/7//r/8v/k/8//tf+Y/3v/Yf9N/0H/SP9a/3P/j/+t/8j/3//v//j/+//8//z//f/9//3//v/+//7//f/9//3//P/8//v/+v/5//j/9//2//X/8//y//D/7//u/+z/6v/p/+f/5v/k/+P/4f/g/9//3f/b/9j/1f/R/83/yP/E/7//uv+0/67/p/+i/5z/l/+S/45iiwCJAIcAjACPAJEAlciZ/57/pP+q/7D/tv+8/8L/x//L/8//0v/W/9n/2//d/97/3//g/+L/4//l/+b/6P/p/+v/7P/u/+//8f/y//P/9f/2//f/+P/5//r/+//8//z//f/9//3//v/+//7//f/9//3//P/8//v/+f/w/97/xf+n/4b/Z/9Q/0L/Sv9f/3z/nf+9/9j/7P/3//v//P/8//3//f/9//7//v/+//7//f/9//z//P/7//r/+f/4//f/9v/1//T/8v/x//D/7v/t/+v/6v/o/+f/5f/k/+L/4f/f/97/3f/c/9n/1//U/9D/zP/I/8P/vv+4/7L/q/+l/6D/m/+W/5IdjwCNAIsAkACTAJUAmX6d/6L/p/+t/7P/uf+//8X/yv/O/9L/1f/X/9n/2//c/93/3v/g/+H/4//k/+X/5//o/+r/6//t/+7/8P/x//P/9P/1//b/9//4//n/+v/7//z//P/9//3//f/+//7//v/9//3//f/8//z/+//4/+z/1v+3/5P/b/9T/0P/Tf9m/4j/rP/N/+b/9v/7//z//P/9//3//f/+//7//v/9//3//f/8//z/+//6//r/+f/4//f/9f/0//P/8v/w/+//7f/s/+r/6f/n/+b/5P/j/+L/4P/f/97/3P/b/9r/2P/W/9P/z//L/8f/wf+7/7X/r/+p/6P/nv+ax5YAkwCRAI8AlACXAJkAnDCg/6X/qv+w/7b/vP/C/8j/zf/R/9T/1v/Y/9r/2//c/93/3v/f/+H/4v/j/+X/5v/o/+n/6//s/+7/7//w//L/8//0//X/9//4//n/+v/6//v//P/8//3//f/9//3//v/+//3//f/9//z//P/7//b/5f/I/6L/ev9X/0T/T/9u/5b/vv/e//P/+v/7//z//f/9//3//f/+//7//f/9//3//P/8//v/+//6//n/+P/3//b/9f/z//L/8f/v/+7/7f/r/+r/6P/n/+X/5P/i/+H/4P/e/93/3P/b/9r/2f/X/9X/0v/O/8n/xP++/7j/sv+s/6b/of+deZoAlwCVAJMAmACaAJ0AnwCjz6j/rf+y/7j/vv/E/8r/zv/S/9X/1//Y/9n/2v/b/9z/3f/f/+D/4f/j/+T/5f/n/+j/6v/r/+3/7v/v//H/8v/z//X/9v/3//j/+f/6//r/+//8//z//f/9//3//f/9//3//f/9//3//P/7//r/8//b/7X/h/9c/0X/U/95/6f/0f/t//r/+//8//z//f/9//3//f/9//3//f/9//z//P/7//v/+v/5//j/9//2//X/9P/y//H/8P/u/+3/7P/q/+n/5//m/+T/4//i/+D/3//e/93/2//a/9n/2f/X/9b/0//Q/8v/xv/A/7r/tP+u/6n/pP+gJ50AmwCZAJYAmwCeAKAAogCmear/r/+0/7r/wP/G/8v/z//T/9b/1//Y/9n/2v/b/9z/3f/e/9//4P/i/+P/5f/m/+f/6f/q/+z/7f/v//D/8f/y//T/9f/2//f/+P/5//r/+v/7//z//P/8//3//f/9//3//f/9//3//P/8//v/+v/t/8r/l/9k/0b/WP+H/7z/5P/4//v/+//8//3//f/9//3//f/9//3//f/8//z/+//7//r/+f/4//f/9v/1//T/8//y//D/7//u/+z/6//p/+j/5v/l/+T/4v/h/+D/3v/d/9z/2//a/9n/2P/Y/9f/1P/R/8z/x//C/7z/tv+x/6v/p8GjAKEAngCcAJoAnwChAKMApQCoIKz/sf+2/7v/wf/G/8v/0P/U/9b/1//Y/9j/2f/a/9v/3P/d/97/4P/h/+L/5P/l/+f/6P/p/+v/7P/u/+//8P/x//P/9P/1//b/9//4//n/+f/6//v/+//8//z//f/9//3//f/9//3//P/8//v/+v/4/+H/rv9v/0f/Xv+b/9T/9P/6//v//P/8//3//f/9//3//f/9//z//P/8//v/+v/6//n/+P/3//b/9f/0//P/8v/x/+//7v/t/+v/6v/o/+f/5v/k/+P/4f/g/9//3v/c/9v/2v/Z/9n/2P/X/9f/1P/R/83/yP/D/73/t/+y/63/qWemAKQAogCfAJ0AogCkAKYAqACrAK6wsv+3/7z/wf/H/8v/0P/T/9X/1//X/9j/2f/a/9v/3P/d/97/3//g/+L/4//k/+b/5//o/+r/6//s/+7/7//w//L/8//0//X/9v/3//j/+f/5//r/+//7//z//P/8//z//f/9//z//P/8//v/+//6//T/yv9//0j/af+2/+3/+f/6//v//P/8//z//f/9//z//P/8//z/+//7//r/+v/5//j/9//2//X/9P/z//L/8f/v/+7/7f/s/+r/6f/n/+b/5f/j/+L/4f/f/97/3f/c/9v/2v/Z/9j/2P/X/9b/1P/R/83/yP/D/77/uP+0/6/3rAqpAKcApACiAKAApQCnAKkAqwCtALBOs/+4/7z/wf/G/8v/z//S/9T/1v/X/9j/2P/Z/9r/2//c/93/3v/f/+H/4v/j/+X/5v/n/+n/6v/r/+3/7v/v//D/8v/z//T/9f/2//f/+P/4//n/+v/6//v/+//8//z//P/8//z//P/8//v/+//6//j/6v+b/0r/ff/Z//j/+f/6//v//P/8//z//P/8//z//P/7//v/+v/6//n/+f/4//f/9v/1//T/8//y//H/8P/u/+3/7P/q/+n/6P/m/+X/5P/i/+H/4P/f/93/3P/b/9r/2f/Z/9j/1//X/9X/0//Q/8z/yP/D/77/uf+1/7GVrQCrAKkApwClAKMApwCpAKsArQCvALEAtNO4/7z/wf/G/8r/zf/R/9P/1f/X/9f/2P/Z/9r/2v/b/9z/3v/f/+D/4f/i/+T/5f/m/+j/6f/q/+z/7f/u/+//8f/y//P/9P/1//b/9//3//j/+f/5//r/+v/7//v/+//7//z/+//7//v/+v/6//n/9//K/0z/o//2//j/+f/6//v/+//7//z//P/7//v/+//6//r/+v/5//j/+P/3//b/9f/0//P/8v/x//D/7//t/+z/6//p/+j/5//l/+T/4//i/+D/3//e/93/3P/b/9r/2f/Y/9j/1//W/9T/0f/O/8v/x//C/77/uf+1/7IvrwCtAKwAqgCoAKYAqgCrAK0ArwCxALIAtWm4/7z/wP/E/8j/zP/P/9L/1P/W/9f/2P/Y/9n/2v/b/9z/3f/e/9//4P/i/+P/5P/l/+f/6P/p/+r/7P/t/+7/7//w//L/8//0//T/9f/2//f/+P/4//n/+f/6//r/+//7//v/+//7//v/+v/5//j/9//0/1X/6v/2//j/+f/6//r/+//7//v/+//7//r/+v/6//n/+P/4//f/9v/2//X/9P/z//L/8f/w/+//7f/s/+v/6v/o/+f/5v/k/+P/4v/h/9//3v/d/9z/2//a/9n/2f/Y/9f/1v/V/9P/0P/N/8n/xv/C/73/uf+2rrMAsQCvAK4ArACqAKgArACuAK8AsQCyALQAtgC44rz/v//D/8b/yv/N/9D/0//V/9f/1//Y/9n/2f/a/9v/3P/d/97/3//h/+L/4//k/+b/5//o/+n/6//s/+3/7v/v//D/8f/y//P/9P/1//b/9//3//j/+P/5//n/+v/6//r/+v/6//r/+v/5//j/9//0/9z/8//2//j/+f/5//r/+v/6//r/+v/6//n/+f/4//j/9//3//b/9f/0//T/8//y//H/8P/u/+3/7P/r/+r/6P/n/+b/5f/j/+L/4f/g/9//3f/c/9v/2v/a/9n/2P/X/9f/1v/U/9H/zv/L/8j/xP/A/73/uf+2QbQAswCxALAArgCsAKsArgCvALEAsgC0ALUAtgC4cLv/vv/B/8X/yP/M/8//0v/U/9b/1//Y/9j/2f/a/9r/2//c/93/3//g/+H/4v/j/+T/5v/n/+j/6f/r/+z/7f/u/+//8P/x//L/8//0//X/9f/2//f/9//4//j/+f/5//n/+f/5//n/+f/4//j/9v/0/1//8//2//f/+P/5//n/+f/5//n/+f/5//j/+P/3//f/9v/2//X/9P/z//L/8f/w/+//7v/t/+z/6//q/+n/5//m/+X/5P/i/+H/4P/f/97/3f/c/9v/2v/Z/9j/2P/X/9b/1f/S/9D/zf/J/8b/wv+//7z/ubW3ALUAtACzALEAsACuAK0AsACxALIAtAC1ALYAtwC4ALrdvP+//8P/xv/K/83/0P/T/9X/1v/X/9j/2P/Z/9r/2//c/93/3v/f/+D/4f/i/+P/5f/m/+f/6P/p/+r/7P/t/+7/7//w//H/8v/y//P/9P/1//X/9v/2//f/9//4//j/+P/4//j/+P/4//f/9v/I/07/o//z//f/9//4//j/+P/4//j/+P/3//f/9//2//b/9f/0//T/8//y//H/8P/v/+7/7f/s/+v/6v/p/+f/5v/l/+T/4//h/+D/3//e/93/3P/b/9r/2f/Z/9j/1//X/9X/0//R/87/y//H/8T/wP+9/7v/uT+3ALYAtQC0ALMAsQCwAK8AsQCyALQAtQC2ALcAtwC4ALlku/++/8H/xP/I/8v/zv/R/9P/1f/X/9f/2P/Z/9n/2v/b/9z/3f/e/9//4P/h/+L/4//l/+b/5//o/+n/6v/r/+z/7f/u/+//8P/x//L/8//z//T/9f/1//b/9v/2//f/9//3//f/9//3//b/3P+T/0z/eP/L//P/9//3//f/9//3//f/9//2//b/9f/1//T/9P/z//L/8f/x//D/7//u/+3/7P/r/+r/6P/n/+b/5f/k/+P/4v/g/9//3v/d/9z/2//a/9r/2f/Y/9j/1//W/9T/0v/P/8z/yf/F/8L/v/+8/7qnuAC3ALcAtgC1ALQAswCyALAAswC0ALUAtgC2ALcAtwC4ALgAusW8/7//wv/F/8n/zP/P/9L/1P/W/9f/1//Y/9n/2f/a/9v/3P/d/97/3//g/+H/4v/j/+X/5v/n/+j/6f/q/+v/7P/t/+7/7//w//H/8f/y//P/8//0//T/9f/1//b/9v/2//b/9v/1/+T/uP94/0v/Zv+m/9n/8v/2//b/9v/2//b/9f/1//X/9P/z//P/8v/y//H/8P/v/+7/7f/s/+v/6v/p/+j/5//m/+X/5P/j/+L/4P/f/97/3f/c/9v/2//a/9n/2P/Y/9f/1v/V/9P/0P/N/8r/xv/D/8D/vf+6/7kquAC4ALcAtwC2ALUAtACzALIAtAC1ALYAtgC3ALcAuAC4ALgAuUS7/73/wP/D/8f/yv/N/9D/0//V/9b/1//Y/9j/2f/a/9r/2//c/93/3v/f/+D/4f/i/+P/5P/m/+f/6P/p/+r/6//s/+3/7f/u/+//8P/x//H/8v/y//P/8//0//T/9P/1//X/8//m/8n/nP9q/0v/Xf+N/73/3//x//X/9f/0//T/9P/0//P/8//y//H/8f/w/+//7//u/+3/7P/r/+r/6f/o/+f/5v/l/+T/4//i/+D/3//e/93/3P/c/9v/2v/Z/9j/2P/X/9f/1f/T/9H/zv/L/8j/xP/B/77/u/+5hrgAuAC4ALcAtwC3ALYAtQC0ALMAtQC2ALYAtwC3ALgAuAC4ALgAuAC5mbz/vv/B/8T/yP/L/87/0f/T/9X/1//X/9j/2P/Z/9r/2//b/9z/3f/e/9//4P/h/+L/4//k/+X/5v/n/+j/6f/q/+v/7P/t/+7/7v/v//D/8P/x//H/8v/y//P/8//z//H/5//S/7L/if9h/0v/WP98/6b/yv/i/+//8//z//P/8v/y//L/8f/x//D/7//v/+7/7f/s/+v/6v/q/+n/6P/n/+b/5f/k/+L/4f/g/9//3v/d/93/3P/b/9r/2f/Z/9j/1//X/9b/1P/S/8//zP/J/8X/wv+//7z/utq4ArgAuAC4ALgAtwC3ALcAtgC1ALQAtgC2ALcAtwC4ALgAuAC4ALgAuAC5EbrnvP+//8L/xf/J/8z/z//R/9T/1v/X/9f/2P/Y/9n/2v/b/9v/3P/d/97/3//g/+H/4v/j/+T/5f/m/+f/6P/p/+r/6v/r/+z/7f/u/+7/7//v//D/8P/x//H/8v/w/+f/1/+//5//e/9c/0v/Vf9x/5T/tv/R/+P/7v/x//H/8f/x//D/8P/v/+7/7v/t/+z/7P/r/+r/6f/o/+f/5v/l/+T/4//i/+H/4P/f/97/3f/d/9z/2//a/9n/2f/Y/9f/1//W/9T/0v/Q/83/yv/G/8P/wP+9/7v/uVG4ALgAuAC4ALgAuAC3ALcAtwC2ALUAtgC3ALcAuAC4ALgAuAC4ALgAuAC4ALlau/+9/8D/w//G/8r/zf/Q/9L/1P/W/9f/1//Y/9j/2f/a/9v/2//c/93/3v/f/+D/4f/i/+P/5P/l/+b/5v/n/+j/6f/q/+v/6//s/+3/7f/u/+7/7//v//D/7v/n/9r/x/+u/5D/cf9Y/0v/U/9p/4f/pf/A/9X/5P/s/+//7//v/+//7v/t/+3/7P/s/+v/6v/p/+j/6P/n/+b/5f/k/+P/4v/h/+D/3//e/93/3P/c/9v/2v/Z/9n/2P/Y/9f/1v/V/9P/0P/O/8v/x//E/8H/vv+8/7qZuAC4ALgAuAC4ALgAuAC4ALcAtwC2ALYAtwC3ALgAuAC4ALgAuAC4ALgAuAC4ALgAupy8/77/wf/E/8f/yv/N/9D/0v/U/9b/1//X/9j/2f/Z/9r/2//b/9z/3f/e/9//4P/h/+H/4v/j/+T/5f/m/+f/6P/o/+n/6v/q/+v/7P/s/+3/7f/u/+z/5v/b/8z/uP+f/4T/av9W/0v/Uf9j/3z/l/+x/8f/1//j/+r/7f/t/+3/7P/s/+v/6//q/+n/6f/o/+f/5v/l/+T/5P/j/+L/4f/g/9//3v/d/9z/3P/b/9r/2f/Z/9j/2P/X/9b/1f/T/9H/zv/L/8j/xf/C/7//vP+62rgJuAC4ALgAuAC4ALgAuAC4ALgAtwC3ALYAtwC4ALgAuAC4ALgAuAC4ALgAuAC4ALgAuAi61rz/v//C/8X/yP/L/87/0P/T/9X/1v/X/9f/2P/Y/9n/2v/a/9v/3P/d/97/3v/f/+D/4f/i/+P/5P/k/+X/5v/n/+j/6P/p/+r/6v/r/+v/6//p/+T/3P/P/7//qv+T/3v/Zf9U/0v/UP9f/3T/jP+k/7n/y//Y/+L/6P/r/+v/6//q/+r/6f/o/+j/5//m/+X/5f/k/+P/4v/h/+D/4P/f/97/3f/c/9v/2//a/9n/2f/Y/9j/1//W/9X/0//R/8//zP/J/8b/w//A/73/u/+5RbgAuAC4ALgAuAC4ALgAuAC4ALgAuAC3ALcAtwC4ALgAuAC4ALgAuAC4ALgAuAC4ALgAuAC5Pbr/vf+//8L/xf/I/8v/zv/R/9P/1f/W/9f/1//Y/9j/2f/a/9r/2//c/93/3f/e/9//4P/h/+H/4v/j/+T/5f/l/+b/5//n/+j/6f/p/+n/5//j/9z/0f/D/7L/n/+K/3T/Yf9S/0z/T/9c/27/g/+Z/63/v//N/9n/4f/m/+n/6f/p/+j/6P/n/+b/5v/l/+T/4//i/+L/4f/g/9//3v/e/93/3P/b/9v/2v/Z/9n/2P/Y/9f/1v/V/9P/0f/P/8z/yf/G/8P/wP+9/7v/uXq4ALgAuAC4ALgAuAC4ALgAuAC4ALgAuAC4ALcAuAC4ALgAuAC4ALgAuAC4ALgAuAC4ALgAuAC4ALlru/+9/8D/w//G/8n/zP/O/9H/0//V/9b/1//X/9j/2P/Z/9r/2v/b/9z/3P/d/97/3//f/+D/4f/i/+L/4//k/+X/5f/m/+b/5//n/+X/4f/b/9L/x/+4/6j/lf+B/27/Xv9R/0z/T/9Z/2n/fP+P/6L/s//D/8//2f/g/+T/5//n/+f/5v/l/+X/5P/j/+P/4v/h/+D/4P/f/97/3f/d/9z/2//a/9r/2f/Z/9j/2P/X/9b/1f/U/9H/z//M/8r/x//E/8H/vv+8/7qnuAC4ALgAuAC4ALgAuAC4ALgAuAC4ALgAuAC4ALgAuAC4ALgAuAC4ALgAuAC4ALgAuAC4ALgAuAC4ALgAuZG7/77/wP/D/8b/yf/M/87/0f/T/9X/1v/X/9f/2P/Y/9n/2f/a/9v/2//c/93/3f/e/9//4P/g/+H/4v/i/+P/5P/k/+X/5f/j/9//2v/S/8n/vP+u/57/jP97/2r/W/9R/0z/T/9X/2X/df+H/5n/qf+4/8X/0P/Y/97/4v/k/+X/5P/k/+P/4//i/+H/4f/g/9//3v/e/93/3P/c/9v/2v/a/9n/2P/Y/9f/1//W/9X/1P/S/8//zf/K/8f/xP/B/77/vP+6zLgHuAC4ALgAuAC4ALgAuAC4ALgAuAC4ALgAuAC4ALgAuAC4ALgAuAC4ALgAuAC4ALgAuAC4ALgAuAC4ALgAuAC6sLz/vv/A/8P/xv/J/8z/zv/R/9P/1f/W/9f/1//Y/9j/2f/Z/9r/2v/b/9z/3P/d/97/3v/f/+D/4P/h/+L/4v/j/+L/4f/e/9n/0v/K/7//s/+l/5X/hf91/2b/Wf9Q/0z/Tv9W/2L/cP+A/5H/oP+v/7z/x//Q/9f/3P/g/+L/4//i/+L/4f/h/+D/3//f/97/3f/d/9z/2//b/9r/2f/Z/9j/2P/X/9f/1v/V/9P/0f/P/83/yv/H/8T/wf+//7z/uum5KLgAuAC4ALgAuAC4ALgAuAC4ALgAuAC4ALgAuAC4ALgAuAC4ALgAuAC4ALgAuAC4ALgAuAC4ALgAuAC4ALgAuAC4CLrGvP++/8H/w//G/8n/zP/O/9H/0//U/9b/1//X/9j/2P/Z/9n/2v/a/9v/2//c/93/3f/e/97/3//g/+D/4f/g/9//3P/Y/9L/y//B/7f/qv+d/47/f/9w/2P/V/9Q/0z/Tv9V/1//bP96/4n/mP+m/7P/vv/I/9D/1v/b/97/4P/h/+D/4P/f/9//3v/d/93/3P/b/9v/2v/a/9n/2f/Y/9j/1//X/9b/1f/T/9H/z//N/8r/x//E/8H/v/+8/7r/uUG4ALgAuAC4ALgAuAC4ALgAuAC4ALgAuAC4ALgAuAC4ALgAuAC4ALgAuAC4ALgAuAC4ALgAuAC4ALgAuAC4ALgAuAC4ALkautW8/77/wf/D/8b/yf/M/87/0P/S/9T/1f/W/9f/1//Y/9j/2f/Z/9r/2v/b/9v/3P/d/93/3v/e/9//3v/d/9r/1v/R/8v/w/+5/67/ov+V/4f/ev9s/2D/Vv9P/0z/Tv9U/13/aP91/4P/kf+e/6v/tv/A/8n/0P/V/9n/3P/e/9//3v/e/93/3f/c/9z/2//a/9r/2f/Z/9j/2P/Y/9f/1//W/9X/0//R/8//zP/K/8f/xP/B/7//vf+7/7lTuAC4ALgAuAC4ALgAuAC4ALgAuAC4ALgAuAC4ALgAuAC4ALgAuAC4ALgAuAC4ALgAuAC4ALgAuAC4ALgAuAC4ALgAuAC4ALgAuSW63Lz/vv/B/8P/xv/J/8v/zv/Q/9L/1P/V/9b/1//X/9j/2P/Z/9n/2f/a/9r/2//b/9z/3f/d/9z/2//Z/9X/0f/L/8T/u/+y/6f/m/+P/4L/df9p/17/Vf9P/0z/Tv9T/1v/Zf9x/37/i/+X/6T/r/+5/8H/yf/P/9T/2P/a/9z/3f/d/9z/3P/b/9v/2v/a/9n/2f/Y/9j/1//X/9b/1f/U/9L/0f/O/8z/yf/H/8T/wf+//73/u/+5XLgAuAC4ALgAuAC4ALgAuAC4ALgAuAC4ALgAuAC4ALgAuAC4ALgAuAC4ALgAuAC4ALgAuAC4ALgAuAC4ALgAuAC4ALgAuAC4ALgAuAC5KLrbvP++/8D/w//G/8j/y//N/8//0f/T/9X/1v/X/9f/1//Y/9j/2f/Z/9r/2v/a/9v/2//b/9n/1//U/9D/y//E/73/tP+r/6D/lf+J/33/cf9m/1z/VP9P/0z/Tf9S/1n/Y/9t/3n/hf+R/53/qP+y/7r/wv/J/87/0//W/9n/2v/b/9v/2//a/9r/2f/Z/9j/2P/Y/9f/1//W/9X/1P/S/9D/zv/L/8n/xv/E/8H/v/+8/7v/uV64ALgAuAC4ALgAuAC4ALgAuAC4ALgAuAC4ALgAuAC4ALgAuAC4ALgAuAC4ALgAuAC4ALgAuAC4ALgAuAC4ALgAuAC4ALgAuAC4ALgAuAC4ALkjutK8/77/wP/D/8X/yP/K/8z/z//R/9L/1P/V/9b/1//X/9j/2P/Y/9n/2f/a/9r/2f/Y/9b/0//P/8r/xf++/7b/rv+k/5r/j/+E/3j/bf9j/1r/U/9O/0z/Tf9R/1j/YP9q/3X/gP+M/5f/of+r/7T/vP/D/8n/zv/S/9X/1//Z/9n/2v/Z/9n/2P/Y/9j/1//X/9b/1v/U/9P/0f/P/83/y//I/8b/w//B/77/vP+6/7lYuAC4ALgAuAC4ALgAuAC4ALgAuAC4ALgAuAC4ALgAuAC4ALgAuAC4ALgAuAC4ALgAuAC4ALgAuAC4ALgAuAC4ALgAuAC4ALgAuAC4ALgAuAC4ALgAuRe6wbz/vf/A/8L/xf/H/8n/zP/O/9D/0v/T/9X/1v/X/9f/1//Y/9j/2P/Y/9j/1v/U/9L/zv/K/8X/v/+4/7D/p/+e/5T/iv9//3X/av9h/1n/U/9O/0z/Tf9R/1f/X/9o/3H/fP+H/5H/m/+l/67/tv+9/8P/yf/N/9H/1P/W/9f/2P/Y/9j/2P/X/9f/1//W/9X/1P/S/9D/z//M/8r/yP/F/8P/wP++/7z/uvS5SrgAuAC4ALgAuAC4ALgAuAC4ALgAuAC4ALgAuAC4ALgAuAC4ALgAuAC4ALgAuAC4ALgAuAC4ALgAuAC4ALgAuAC4ALgAuAC4ALgAuAC4ALgAuAC4ALgAuAC4Arqpu/+9/7//wf/E/8b/yf/L/83/z//R/9L/1P/V/9b/1//X/9f/1//W/9X/0//R/87/yv/F/8D/uf+y/6r/ov+Z/4//hf97/3H/aP9f/1j/Uv9O/0z/Tf9R/1b/Xf9l/27/eP+C/4z/lv+f/6j/sP+3/77/w//I/8z/0P/T/9X/1v/X/9f/1//X/9b/1f/U/9P/0f/Q/87/y//J/8f/xP/C/8D/vv+8/7rauTS4ALgAuAC4ALgAuAC4ALgAuAC4ALgAuAC4ALgAuAC4ALgAuAC4ALgAuAC4ALgAuAC4ALgAuAC4ALgAuAC4ALgAuAC4ALgAuAC4ALgAuAC4ALgAuAC4ALgAuAC4ALgAuYi7/73/v//B/8P/xf/I/8r/zP/O/9D/0f/T/9T/1f/W/9b/1f/U/9L/0P/N/8n/xf/A/7r/tP+t/6X/nP+U/4r/gf93/27/Zf9e/1f/Uf9O/0z/Tf9Q/1X/W/9j/2v/df9+/4f/kf+a/6L/qv+y/7j/vv/E/8j/zP/P/9L/1P/V/9b/1v/V/9T/0//S/9D/zv/M/8r/yP/G/8T/wf+//73/u/+6ubkXuAC4ALgAuAC4ALgAuAC4ALgAuAC4ALgAuAC4ALgAuAC4ALgAuAC4ALgAuAC4ALgAuAC4ALgAuAC4ALgAuAC4ALgAuAC4ALgAuAC4ALgAuAC4ALgAuAC4ALgAuAC4ALgAuAC5YLr8vP++/8D/wv/E/8b/yf/L/83/zv/Q/9L/0//T/9P/0//R/8//zf/J/8X/wf+7/7X/r/+o/6D/mP+P/4b/ff90/2v/Y/9c/1b/Uf9O/0z/Tf9Q/1T/Wv9h/2n/cf96/4P/jP+V/53/pf+t/7P/uv+//8T/yP/M/8//0f/S/9P/0//T/9L/0f/P/83/y//J/8f/xf/D/8D/vv+9/7v/uY+4ALgAuAC4ALgAuAC4ALgAuAC4ALgAuAC4ALgAuAC4ALgAuAC4ALgAuAC4ALgAuAC4ALgAuAC4ALgAuAC4ALgAuAC4ALgAuAC4ALgAuAC4ALgAuAC4ALgAuAC4ALgAuAC4ALgAuAC4ALkwusi7/73/v//B/8P/xf/H/8n/y//N/87/z//Q/9D/z//O/8z/yf/F/8H/vP+3/7H/qv+j/5v/k/+L/4L/ev9x/2n/Yv9b/1X/Uf9O/0z/Tf9Q/1T/Wf9f/2f/b/93/4D/iP+R/5n/oP+o/6//tf+7/8D/xP/I/8v/zf/P/9D/0P/Q/8//zf/M/8r/yP/G/8T/wv/A/77/vP+69bleuAC4ALgAuAC4ALgAuAC4ALgAuAC4ALgAuAC4ALgAuAC4ALgAuAC4ALgAuAC4ALgAuAC4ALgAuAC4ALgAuAC4ALgAuAC4ALgAuAC4ALgAuAC4ALgAuAC4ALgAuAC4ALgAuAC4ALgAuAC4ALgAuAC5jLv/vP++/8D/wv/E/8b/yP/J/8v/y//M/8v/yv/J/8f/xP/B/7z/uP+y/6z/pf+e/5f/j/+H/3//d/9v/2f/YP9a/1T/UP9O/0z/Tf9P/1P/WP9e/2X/bP90/3z/hP+N/5T/nP+j/6r/sP+2/7v/v//D/8b/yP/K/8v/zP/L/8v/yv/I/8b/xP/C/8D/vv+9/7v/ure5JbgAuAC4ALgAuAC4ALgAuAC4ALgAuAC4ALgAuAC4ALgAuAC4ALgAuAC4ALgAuAC4ALgAuAC4ALgAuAC4ALgAuAC4ALgAuAC4ALgAuAC4ALgAuAC4ALgAuAC4ALgAuAC4ALgAuAC4ALgAuAC4ALgAuAC4ALlIutS7/73/v//A/8L/xP/F/8b/x//H/8b/xf/E/8L/v/+7/7f/sv+t/6f/of+a/5P/i/+D/3z/dP9s/2X/X/9Z/1T/UP9N/0z/Tf9P/1P/V/9d/2P/av9y/3n/gf+J/5D/mP+f/6X/q/+x/7b/uv++/8H/w//F/8b/x//H/8b/xf/E/8P/wf+//73/vP+6/rlzuAC4ALgAuAC4ALgAuAC4ALgAuAC4ALgAuAC4ALgAuAC4ALgAuAC4ALgAuAC4ALgAuAC4ALgAuAC4ALgAuAC4ALgAuAC4ALgAuAC4ALgAuAC4ALgAuAC4ALgAuAC4ALgAuAC4ALgAuAC4ALgAuAC4ALgAuAC4ALgAuAC5hbr/vP+9/7//wP/B/8H/wv/B/8H/wP++/7z/uf+2/7L/rf+o/6L/nP+V/4//h/+A/3n/cf9q/2P/Xf9Y/1P/UP9N/0z/Tf9P/1L/Vv9c/2L/aP9v/3b/fv+F/4z/k/+a/6D/pv+r/7D/tP+4/7v/vf+//8H/wf/C/8L/wf/A/7//vv+8/7v/uq25JrgAuAC4ALgAuAC4ALgAuAC4ALgAuAC4ALgAuAC4ALgAuAC4ALgAuAC4ALgAuAC4ALgAuAC4ALgAuAC4ALgAuAC4ALgAuAC4ALgAuAC4ALgAuAC4ALgAuAC4ALgAuAC4ALgAuAC4ALgAuAC4ALgAuAC4ALgAuAC4ALgAuAC4ALkuuq26/7v/vP+8/73/vf+8/7v/uv+4/7b/s/+w/6z/p/+i/53/l/+R/4r/g/99/3b/b/9o/2L/XP9X/1P/T/9N/0z/Tf9P/1L/Vv9a/2D/Zv9t/3P/ev+B/4j/j/+V/5v/of+m/6v/r/+y/7X/uP+6/7v/vP+8/73/vf+8/7v/u/+607lUuAC4ALgAuAC4ALgAuAC4ALgAuAC4ALgAuAC4ALgAuAC4ALgAuAC4ALgAuAC4ALgAuAC4ALgAuAC4ALgAuAC4ALgAuAC4ALgAuAC4ALgAuAC4ALgAuAC4ALgAuAC4ALgAuAC4ALgAuAC4ALgAuAC4ALgAuAC4ALgAuAC4ALgAuAC4ALgAuAC4S7jDuP+4/7j/uP+3/7b/tP+y/7D/rf+q/6b/ov+d/5j/kv+M/4b/gP95/3P/bP9m/2D/W/9W/1L/T/9N/0z/Tf9P/1H/Vf9Z/1//ZP9q/3H/d/9+/4T/iv+Q/5b/m/+g/6X/qf+s/6//sv+0/7X/t/+3/7j/uP+4/7jmuG+4ALgAuAC4ALgAuAC4ALgAuAC4ALgAuAC4ALgAuAC4ALgAuAC4ALgAuAC4ALgAuAC4ALgAuAC4ALgAuAC4ALgAuAC4ALgAuAC4ALgAuAC4ALgAuAC4ALgAuAC4ALgAuAC4ALgAuAC4ALgAuAC4ALgAuAC4ALgAuAC4ALgAuAC4ALgAuAC3ALcAtwC2ALYAtVS1xLT/s/+y/7H/r/+t/6r/p/+k/6D/nP+Y/5P/jf+I/4L/fP92/3D/av9k/1//Wv9V/1L/T/9N/0z/Tf9O/1H/VP9Y/13/Yv9o/27/dP96/4D/hv+M/5H/lv+b/5//o/+m/6n/rP+u/7D/sv+z/7T/tOW1drYDtgC2ALcAtwC4ALgAuAC4ALgAuAC4ALgAuAC4ALgAuAC4ALgAuAC4ALgAuAC4ALgAuAC4ALgAuAC4ALgAuAC4ALgAuAC4ALgAuAC4ALgAuAC4ALgAuAC4ALgAuAC4ALgAuAC4ALgAuAC4ALgAuAC4ALgAuAC4ALgAuAC4ALgAuAC4ALgAtwC3ALcAtgC1ALQAswCyALBKr7Ku/6z/qv+o/6X/ov+f/5v/l/+S/47/if+D/37/eP9y/23/Z/9i/13/Wf9V/1H/T/9N/0z/Tf9O/1D/VP9X/1z/Yf9m/2v/cf92/3z/gv+H/4z/kf+W/5r/nv+h/6T/p/+p/6v/rf+v0bBpsQCyALQAtQC2ALYAtwC3ALgAuAC4ALgAuAC4ALgAuAC4ALgAuAC4ALgAuAC4ALgAuAC4ALgAuAC4ALgAuAC4ALgAuAC4ALgAuAC4ALgAuAC4ALgAuAC4ALgAuAC4ALgAuAC4ALgAuAC4ALgAuAC4ALgAuAC4ALgAuAC4ALgAuAC4ALgAuAC4ALcAtwC3ALYAtQC0ALMAsQCvAK4ArACqLKiMpemj/6D/nf+a/5b/kv+O/4n/hP9//3r/df9v/2r/Zf9g/1z/WP9U/1H/T/9N/0z/Tf9O/1D/U/9W/1r/X/9k/2n/bv9z/3j/fv+D/4j/jP+R/5X/mf+c/5//ov+l/6epqUmrAK0ArwCxALIAtAC1ALYAtgC3ALcAuAC4ALgAuAC4ALgAuAC4ALgAuAC4ALgAuAC4ALgAuAC4ALgAuAC4ALgAuAC4ALgAuAC4ALgAuAC4ALgAuAC4ALgAuAC4ALgAuAC4ALgAuAC4ALgAuAC4ALgAuAC4ALgAuAC4ALgAuAC4ALgAuAC4ALgAuAC3ALcAtwC2ALUAtACzALEAsACuAKwAqQCnAKQAogCfU5yomfmV/5H/jf+J/4X/gP97/3f/cv9t/2j/Y/9f/1r/V/9T/1H/Tv9N/0z/Tf9O/1D/Uv9W/1n/Xf9i/2b/a/9w/3X/ev9//4P/iP+M/5D/lP+Y/5vBnm2hFqQApgCpAKsArQCvALEAsgC0ALUAtgC2ALcAtwC4ALgAuAC4ALgAuAC4ALgAuAC4ALgAuAC4ALgAuAC4ALgAuAC4ALgAuAC4ALgAuAC4ALgAuAC4ALgAuAC4ALgAuAC4ALgAuAC4ALgAuAC4ALgAuAC4ALgAuAC4ALgAuAC4ALgAuAC4ALgAuAC4ALgAtwC3ALYAtgC1ALQAswCxALAArgCsAKoApwClAKIAnwCcAJgAlQeRVI6diuKG/4H/ff94/3T/b/9q/2b/Yf9d/1n/Vv9T/1D/Tv9N/0z/Tf9O/1D/Uv9V/1j/XP9g/2T/af9u/3L/d/97/4D/hP+I9oyykGqUHpcAmwCeAKEApACnAKkAqwCuAK8AsQCyALQAtQC2ALYAtwC3ALcAuAC4ALgAuAC4ALgAuAC4ALgAuAC4ALgAuAC4ALgAuAC4ALgAuAC4ALgAuAC4ALgAuAC4ALgAuAC4ALgAuAC4ALgAuAC4ALgAuAC4ALgAuAC4ALgAuAC4ALgAuAC4ALgAuAC4ALgAuAC4ALcAtwC2ALYAtQC0ALMAsgCwAK4ArACqAKgApgCjAKAAnQCZAJYAkgCOAIsAhgCCLX5qeqN12XH/bP9o/2T/YP9c/1j/Vf9S/1D/Tv9N/0z/Tf9O/0//Uf9U/1f/W/9f/2P/Z/9r/3D/dOh4tH17gT+FAIkAjQCRAJUAmACcAJ8AogClAKcAqgCsAK4AsACxALIAtAC1ALYAtgC3ALcAtwC4ALgAuAC4ALgAuAC4ALgAuAC4ALgAuAC4ALgAuAC4ALgAuAC4ALgAuAC4ALgAuAC4ALgAuAC4ALgAuAC4ALgAuAC4ALgAuAC4ALgAuAC4ALgAuAC4ALgAuAC4ALgAuAC4ALgAtwC3ALcAtgC2ALUAtACzALIAsACvAK0AqwCpAKYApAChAJ4AmwCXAJQAkACMAIgAhACAAHwAdwBzAG8Qaj5mZ2KNXq9bzVfnVP5S/1D/Tv9N/0z/Tf9O/0//Uf9U/1buWtVduGGYZXNpS20ecgB2AHoAfwCDAIcAiwCPAJMAlgCaAJ0AoACjAKUAqACqAKwArgCwALEAswC0ALUAtgC2ALcAtwC3ALgAuAC4ALgAuAC4ALgAuAC4ALgAuAC4ALgAuAC4ALgAuAC4ALgAuAC4ALgAuAC4ALgAuAC4ALgAuAC4ALgAuAC4ALgAuAC4ALgAuAC4ALgAuAC4ALgAuAC4ALgAuAC4ALcAtwC3ALYAtgC1ALQAswCyALAArwCtAKsAqQCnAKQAogCfAJwAmQCVAJIAjgCKAIYAggB+AHoAdQBxAG0AaQBlAGEAXQBaAFcAVABREU8gTipNMEwzTTJOLE8jURZTBVYAWQBcAGAAZABoAGwAcAB0AHgAfQCBAIUAiQCNAJEAlACYAJsAngChAKMApgCoAKsArACuALAAsQCzALQAtQC1ALYAtwC3ALcAuAC4ALgAuAC4ALgAuAC4ALgAuAC4ALgAuAC4ALgAuAC4ALgAuAC4ALgAuAC4ALgA");
</script>
</body></html>
